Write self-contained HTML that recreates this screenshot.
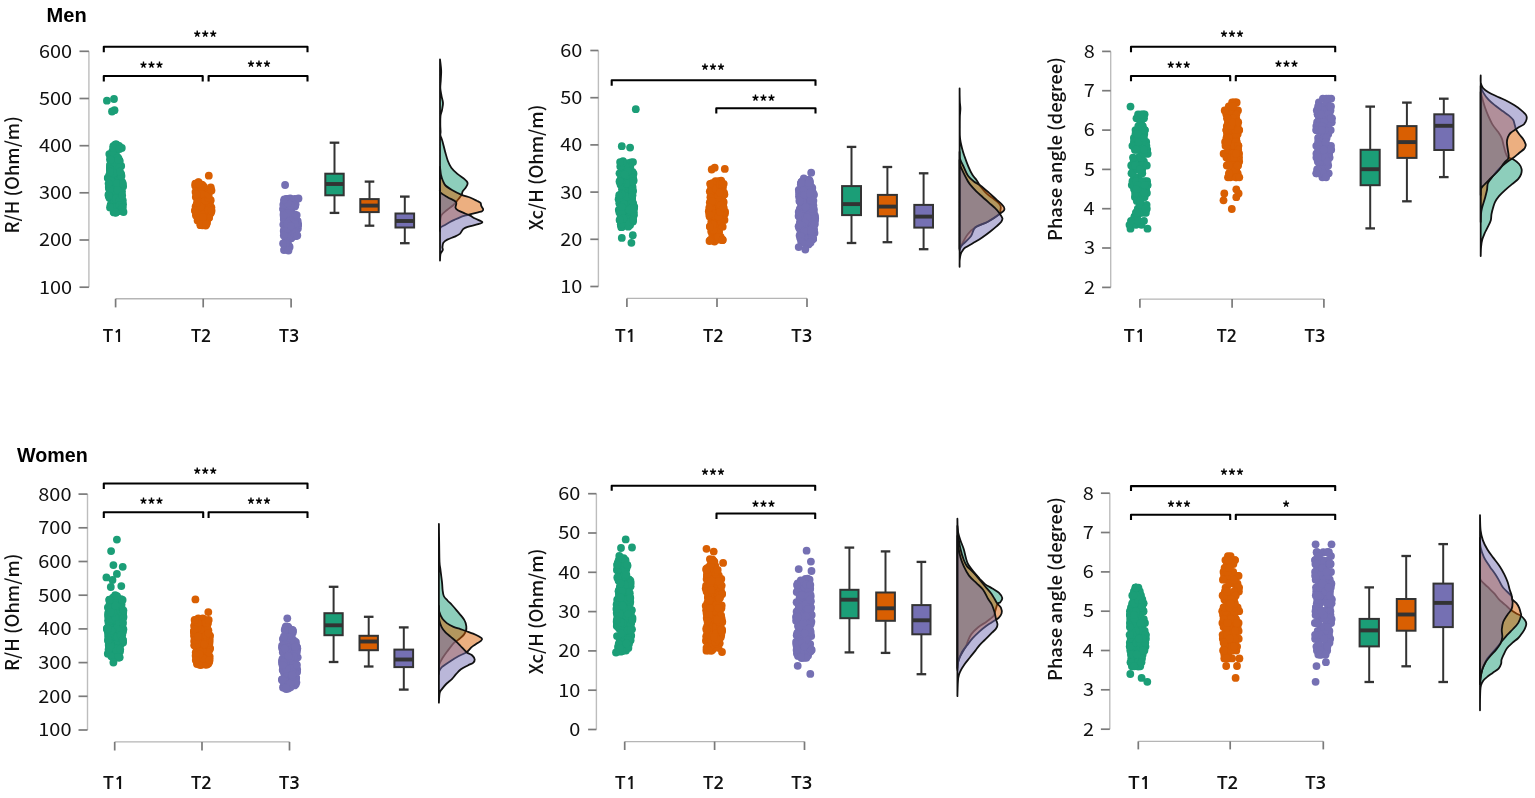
<!DOCTYPE html><html><head><meta charset="utf-8"><title>Raincloud plots</title>
<style>html,body{margin:0;padding:0;background:#fff;}svg{display:block;}</style></head><body>
<svg width="1535" height="798" viewBox="0 0 1535 798">
<rect width="1535" height="798" fill="#fff"/>
<text x="46.60" y="22.31" font-family="'Liberation Sans', sans-serif" font-weight="700" font-size="19.40" textLength="40.11" lengthAdjust="spacingAndGlyphs" fill="#000">Men</text>
<text x="17.00" y="461.51" font-family="'Liberation Sans', sans-serif" font-weight="700" font-size="19.40" textLength="70.74" lengthAdjust="spacingAndGlyphs" fill="#000">Women</text>
<g>
<line x1="88.9" y1="51.3" x2="88.9" y2="287.2" stroke="#bdbdbd" stroke-width="1.4"/>
<line x1="79.5" y1="51.3" x2="88.9" y2="51.3" stroke="#7a7a7a" stroke-width="1.7"/>
<text x="38.90" y="57.71" font-family="'Noto Sans CJK SC', 'Liberation Sans', sans-serif" font-weight="400" font-size="17.80" textLength="33.19" lengthAdjust="spacingAndGlyphs" fill="#111">600</text>
<line x1="79.5" y1="98.5" x2="88.9" y2="98.5" stroke="#7a7a7a" stroke-width="1.7"/>
<text x="38.90" y="104.89" font-family="'Noto Sans CJK SC', 'Liberation Sans', sans-serif" font-weight="400" font-size="17.80" textLength="33.19" lengthAdjust="spacingAndGlyphs" fill="#111">500</text>
<line x1="79.5" y1="145.7" x2="88.9" y2="145.7" stroke="#7a7a7a" stroke-width="1.7"/>
<text x="38.90" y="152.07" font-family="'Noto Sans CJK SC', 'Liberation Sans', sans-serif" font-weight="400" font-size="17.80" textLength="33.19" lengthAdjust="spacingAndGlyphs" fill="#111">400</text>
<line x1="79.5" y1="192.8" x2="88.9" y2="192.8" stroke="#7a7a7a" stroke-width="1.7"/>
<text x="38.90" y="199.25" font-family="'Noto Sans CJK SC', 'Liberation Sans', sans-serif" font-weight="400" font-size="17.80" textLength="33.19" lengthAdjust="spacingAndGlyphs" fill="#111">300</text>
<line x1="79.5" y1="240.0" x2="88.9" y2="240.0" stroke="#7a7a7a" stroke-width="1.7"/>
<text x="38.90" y="246.43" font-family="'Noto Sans CJK SC', 'Liberation Sans', sans-serif" font-weight="400" font-size="17.80" textLength="33.19" lengthAdjust="spacingAndGlyphs" fill="#111">200</text>
<line x1="79.5" y1="287.2" x2="88.9" y2="287.2" stroke="#7a7a7a" stroke-width="1.7"/>
<text x="38.90" y="293.61" font-family="'Noto Sans CJK SC', 'Liberation Sans', sans-serif" font-weight="400" font-size="17.80" textLength="33.19" lengthAdjust="spacingAndGlyphs" fill="#111">100</text>
<text transform="translate(18.90 233.53) rotate(-90)" x="0" y="0" font-family="'Noto Sans CJK SC', 'Liberation Sans', sans-serif" font-weight="500" font-size="18.00" textLength="117.27" lengthAdjust="spacingAndGlyphs" fill="#111">R/H (Ohm/m)</text>
<line x1="115.6" y1="298.8" x2="291.1" y2="298.8" stroke="#b5b5b5" stroke-width="1.4"/>
<line x1="115.6" y1="298.8" x2="115.6" y2="307.4" stroke="#7a7a7a" stroke-width="1.7"/>
<line x1="203.2" y1="298.8" x2="203.2" y2="307.4" stroke="#7a7a7a" stroke-width="1.7"/>
<line x1="291.1" y1="298.8" x2="291.1" y2="307.4" stroke="#7a7a7a" stroke-width="1.7"/>
<text x="102.73" y="342.20" font-family="NanumGothic, 'Liberation Sans', sans-serif" font-weight="700" font-size="17.90" textLength="21.49" lengthAdjust="spacingAndGlyphs" fill="#111">T1</text>
<text x="190.94" y="342.20" font-family="NanumGothic, 'Liberation Sans', sans-serif" font-weight="700" font-size="17.90" textLength="20.81" lengthAdjust="spacingAndGlyphs" fill="#111">T2</text>
<text x="278.94" y="342.02" font-family="NanumGothic, 'Liberation Sans', sans-serif" font-weight="700" font-size="17.90" fill="#111">T3</text>
<path d="M103.8 52.2 V46.8 H307.5 V52.2" fill="none" stroke="#000" stroke-width="2.1" stroke-linejoin="round"/>
<text x="193.21" y="43.83" font-family="'Noto Sans CJK SC', 'Liberation Sans', sans-serif" font-weight="700" font-size="16.50" textLength="23.99" lengthAdjust="spacingAndGlyphs" fill="#000">***</text>
<path d="M103.8 81.6 V76.0 H202.7 V81.6" fill="none" stroke="#000" stroke-width="2.1" stroke-linejoin="round"/>
<text x="139.51" y="75.03" font-family="'Noto Sans CJK SC', 'Liberation Sans', sans-serif" font-weight="700" font-size="16.50" textLength="23.99" lengthAdjust="spacingAndGlyphs" fill="#000">***</text>
<path d="M208.6 81.6 V76.0 H307.5 V81.6" fill="none" stroke="#000" stroke-width="2.1" stroke-linejoin="round"/>
<text x="247.01" y="73.83" font-family="'Noto Sans CJK SC', 'Liberation Sans', sans-serif" font-weight="700" font-size="16.50" textLength="23.99" lengthAdjust="spacingAndGlyphs" fill="#000">***</text>
<g fill="#1b9e77">
<circle cx="116.0" cy="146.8" r="3.9"/><circle cx="117.3" cy="200.5" r="3.9"/><circle cx="115.4" cy="209.0" r="3.9"/><circle cx="113.2" cy="163.0" r="3.9"/><circle cx="117.6" cy="199.8" r="3.9"/><circle cx="110.5" cy="168.8" r="3.9"/><circle cx="112.9" cy="157.1" r="3.9"/><circle cx="115.1" cy="164.7" r="3.9"/><circle cx="117.6" cy="163.7" r="3.9"/><circle cx="114.9" cy="159.8" r="3.9"/><circle cx="112.5" cy="203.9" r="3.9"/><circle cx="108.9" cy="195.7" r="3.9"/><circle cx="116.3" cy="189.5" r="3.9"/><circle cx="114.7" cy="184.3" r="3.9"/><circle cx="114.8" cy="201.5" r="3.9"/><circle cx="117.4" cy="189.2" r="3.9"/><circle cx="115.0" cy="212.2" r="3.9"/><circle cx="110.0" cy="169.7" r="3.9"/><circle cx="109.3" cy="175.0" r="3.9"/><circle cx="114.1" cy="196.4" r="3.9"/><circle cx="116.4" cy="203.7" r="3.9"/><circle cx="121.2" cy="204.5" r="3.9"/><circle cx="110.7" cy="204.6" r="3.9"/><circle cx="111.8" cy="176.6" r="3.9"/><circle cx="118.5" cy="182.3" r="3.9"/><circle cx="117.9" cy="178.8" r="3.9"/><circle cx="118.8" cy="146.5" r="3.9"/><circle cx="114.1" cy="203.9" r="3.9"/><circle cx="109.3" cy="154.1" r="3.9"/><circle cx="116.3" cy="144.5" r="3.9"/><circle cx="111.4" cy="161.3" r="3.9"/><circle cx="115.7" cy="144.4" r="3.9"/><circle cx="114.0" cy="153.0" r="3.9"/><circle cx="119.4" cy="211.1" r="3.9"/><circle cx="117.7" cy="161.0" r="3.9"/><circle cx="112.7" cy="180.0" r="3.9"/><circle cx="118.5" cy="158.3" r="3.9"/><circle cx="120.4" cy="202.3" r="3.9"/><circle cx="113.5" cy="194.5" r="3.9"/><circle cx="119.6" cy="160.9" r="3.9"/><circle cx="121.1" cy="174.0" r="3.9"/><circle cx="113.4" cy="209.5" r="3.9"/><circle cx="115.8" cy="205.7" r="3.9"/><circle cx="108.9" cy="188.4" r="3.9"/><circle cx="119.5" cy="188.9" r="3.9"/><circle cx="120.1" cy="195.2" r="3.9"/><circle cx="121.2" cy="166.0" r="3.9"/><circle cx="110.4" cy="193.4" r="3.9"/><circle cx="111.1" cy="206.0" r="3.9"/><circle cx="117.8" cy="200.5" r="3.9"/><circle cx="110.2" cy="167.2" r="3.9"/><circle cx="117.4" cy="210.6" r="3.9"/><circle cx="112.0" cy="200.5" r="3.9"/><circle cx="112.1" cy="159.6" r="3.9"/><circle cx="108.0" cy="177.8" r="3.9"/><circle cx="118.6" cy="173.5" r="3.9"/><circle cx="116.3" cy="181.6" r="3.9"/><circle cx="111.7" cy="197.6" r="3.9"/><circle cx="115.2" cy="162.1" r="3.9"/><circle cx="122.1" cy="182.0" r="3.9"/><circle cx="115.1" cy="173.7" r="3.9"/><circle cx="114.5" cy="178.6" r="3.9"/><circle cx="122.0" cy="191.6" r="3.9"/><circle cx="119.5" cy="160.9" r="3.9"/><circle cx="114.3" cy="201.5" r="3.9"/><circle cx="118.7" cy="147.8" r="3.9"/><circle cx="110.3" cy="197.5" r="3.9"/><circle cx="110.2" cy="192.8" r="3.9"/><circle cx="111.6" cy="204.5" r="3.9"/><circle cx="113.6" cy="211.9" r="3.9"/><circle cx="111.5" cy="172.9" r="3.9"/><circle cx="110.3" cy="165.0" r="3.9"/><circle cx="112.7" cy="181.5" r="3.9"/><circle cx="123.1" cy="186.4" r="3.9"/><circle cx="109.5" cy="197.9" r="3.9"/><circle cx="112.8" cy="206.5" r="3.9"/><circle cx="114.3" cy="153.2" r="3.9"/><circle cx="118.2" cy="191.7" r="3.9"/><circle cx="108.8" cy="187.1" r="3.9"/><circle cx="120.5" cy="174.5" r="3.9"/><circle cx="110.0" cy="159.4" r="3.9"/><circle cx="110.9" cy="195.8" r="3.9"/><circle cx="110.2" cy="167.0" r="3.9"/><circle cx="111.0" cy="194.0" r="3.9"/><circle cx="109.7" cy="175.9" r="3.9"/><circle cx="120.6" cy="200.0" r="3.9"/><circle cx="114.0" cy="192.2" r="3.9"/><circle cx="110.8" cy="167.0" r="3.9"/><circle cx="109.5" cy="194.5" r="3.9"/><circle cx="118.0" cy="201.6" r="3.9"/><circle cx="114.8" cy="162.5" r="3.9"/><circle cx="117.5" cy="210.0" r="3.9"/><circle cx="112.7" cy="159.8" r="3.9"/><circle cx="115.3" cy="167.7" r="3.9"/><circle cx="107.8" cy="177.9" r="3.9"/><circle cx="114.6" cy="159.0" r="3.9"/><circle cx="119.0" cy="195.2" r="3.9"/><circle cx="123.0" cy="204.2" r="3.9"/><circle cx="114.8" cy="153.2" r="3.9"/><circle cx="119.1" cy="145.8" r="3.9"/><circle cx="120.3" cy="186.6" r="3.9"/><circle cx="120.5" cy="201.1" r="3.9"/><circle cx="118.6" cy="183.6" r="3.9"/><circle cx="109.9" cy="191.2" r="3.9"/><circle cx="117.4" cy="181.8" r="3.9"/><circle cx="119.7" cy="190.3" r="3.9"/><circle cx="118.1" cy="195.1" r="3.9"/><circle cx="114.5" cy="147.4" r="3.9"/><circle cx="117.5" cy="157.1" r="3.9"/><circle cx="117.9" cy="177.3" r="3.9"/><circle cx="117.9" cy="196.4" r="3.9"/><circle cx="108.5" cy="194.7" r="3.9"/><circle cx="112.2" cy="191.1" r="3.9"/><circle cx="109.4" cy="178.9" r="3.9"/><circle cx="114.5" cy="200.1" r="3.9"/><circle cx="110.5" cy="157.5" r="3.9"/><circle cx="109.6" cy="179.4" r="3.9"/><circle cx="115.0" cy="176.7" r="3.9"/><circle cx="113.1" cy="174.3" r="3.9"/><circle cx="110.1" cy="164.8" r="3.9"/><circle cx="110.1" cy="195.2" r="3.9"/><circle cx="121.9" cy="207.5" r="3.9"/><circle cx="116.0" cy="212.6" r="3.9"/><circle cx="110.4" cy="172.7" r="3.9"/><circle cx="117.8" cy="204.6" r="3.9"/><circle cx="116.9" cy="206.6" r="3.9"/><circle cx="114.8" cy="193.0" r="3.9"/><circle cx="112.6" cy="195.4" r="3.9"/><circle cx="113.3" cy="146.2" r="3.9"/><circle cx="118.4" cy="175.8" r="3.9"/><circle cx="114.3" cy="163.8" r="3.9"/><circle cx="115.9" cy="154.4" r="3.9"/><circle cx="114.1" cy="212.4" r="3.9"/><circle cx="113.8" cy="149.1" r="3.9"/><circle cx="118.9" cy="160.8" r="3.9"/><circle cx="116.1" cy="195.2" r="3.9"/><circle cx="112.9" cy="169.1" r="3.9"/><circle cx="110.9" cy="186.8" r="3.9"/><circle cx="119.3" cy="173.9" r="3.9"/><circle cx="118.8" cy="203.8" r="3.9"/><circle cx="122.8" cy="200.5" r="3.9"/><circle cx="114.9" cy="160.1" r="3.9"/><circle cx="118.6" cy="190.4" r="3.9"/><circle cx="114.6" cy="188.0" r="3.9"/><circle cx="111.1" cy="181.3" r="3.9"/><circle cx="113.6" cy="207.1" r="3.9"/><circle cx="115.8" cy="191.6" r="3.9"/><circle cx="117.2" cy="183.5" r="3.9"/><circle cx="121.6" cy="209.8" r="3.9"/><circle cx="121.5" cy="176.0" r="3.9"/><circle cx="115.4" cy="192.0" r="3.9"/><circle cx="117.7" cy="189.9" r="3.9"/><circle cx="114.2" cy="207.4" r="3.9"/><circle cx="111.6" cy="172.1" r="3.9"/><circle cx="115.6" cy="198.5" r="3.9"/><circle cx="111.9" cy="157.1" r="3.9"/><circle cx="119.5" cy="200.1" r="3.9"/><circle cx="115.3" cy="163.4" r="3.9"/><circle cx="109.9" cy="189.3" r="3.9"/><circle cx="113.2" cy="152.7" r="3.9"/><circle cx="119.4" cy="205.5" r="3.9"/><circle cx="115.6" cy="212.5" r="3.9"/><circle cx="114.7" cy="155.7" r="3.9"/><circle cx="115.0" cy="145.0" r="3.9"/><circle cx="109.9" cy="168.9" r="3.9"/><circle cx="112.3" cy="151.4" r="3.9"/><circle cx="119.2" cy="167.7" r="3.9"/><circle cx="113.5" cy="173.0" r="3.9"/><circle cx="121.8" cy="207.0" r="3.9"/><circle cx="109.1" cy="196.3" r="3.9"/><circle cx="113.3" cy="147.9" r="3.9"/><circle cx="121.8" cy="147.9" r="3.9"/><circle cx="110.7" cy="159.8" r="3.9"/><circle cx="118.4" cy="159.8" r="3.9"/><circle cx="110.1" cy="171.7" r="3.9"/><circle cx="119.9" cy="171.7" r="3.9"/><circle cx="108.6" cy="183.6" r="3.9"/><circle cx="122.9" cy="183.6" r="3.9"/><circle cx="108.7" cy="195.5" r="3.9"/><circle cx="122.2" cy="195.5" r="3.9"/><circle cx="110.0" cy="207.4" r="3.9"/><circle cx="122.8" cy="207.4" r="3.9"/><circle cx="106.9" cy="100.7" r="3.9"/><circle cx="114.0" cy="99.0" r="3.9"/><circle cx="114.5" cy="110.2" r="3.9"/><circle cx="112.0" cy="111.5" r="3.9"/><circle cx="123.5" cy="212.0" r="3.9"/><circle cx="119.5" cy="149.0" r="3.9"/>
</g>
<g fill="#d95f02">
<circle cx="198.4" cy="182.1" r="3.9"/><circle cx="195.4" cy="209.7" r="3.9"/><circle cx="206.6" cy="190.0" r="3.9"/><circle cx="204.8" cy="218.0" r="3.9"/><circle cx="206.8" cy="196.3" r="3.9"/><circle cx="203.4" cy="192.8" r="3.9"/><circle cx="208.3" cy="196.2" r="3.9"/><circle cx="200.4" cy="225.2" r="3.9"/><circle cx="202.3" cy="203.8" r="3.9"/><circle cx="209.0" cy="211.5" r="3.9"/><circle cx="199.9" cy="211.1" r="3.9"/><circle cx="198.2" cy="206.8" r="3.9"/><circle cx="208.3" cy="192.8" r="3.9"/><circle cx="211.4" cy="207.3" r="3.9"/><circle cx="205.7" cy="204.2" r="3.9"/><circle cx="209.1" cy="217.8" r="3.9"/><circle cx="204.1" cy="190.3" r="3.9"/><circle cx="210.2" cy="201.6" r="3.9"/><circle cx="203.9" cy="186.6" r="3.9"/><circle cx="198.3" cy="191.5" r="3.9"/><circle cx="204.8" cy="193.1" r="3.9"/><circle cx="198.5" cy="211.7" r="3.9"/><circle cx="197.6" cy="216.8" r="3.9"/><circle cx="205.0" cy="199.3" r="3.9"/><circle cx="210.0" cy="199.9" r="3.9"/><circle cx="200.5" cy="195.6" r="3.9"/><circle cx="210.7" cy="200.2" r="3.9"/><circle cx="201.5" cy="200.5" r="3.9"/><circle cx="197.6" cy="220.6" r="3.9"/><circle cx="209.9" cy="206.1" r="3.9"/><circle cx="199.3" cy="185.8" r="3.9"/><circle cx="203.5" cy="204.0" r="3.9"/><circle cx="199.0" cy="217.2" r="3.9"/><circle cx="210.8" cy="187.5" r="3.9"/><circle cx="201.3" cy="203.1" r="3.9"/><circle cx="206.8" cy="221.6" r="3.9"/><circle cx="198.6" cy="189.0" r="3.9"/><circle cx="208.0" cy="199.7" r="3.9"/><circle cx="199.0" cy="204.6" r="3.9"/><circle cx="196.2" cy="213.7" r="3.9"/><circle cx="195.6" cy="206.6" r="3.9"/><circle cx="200.0" cy="206.0" r="3.9"/><circle cx="201.8" cy="200.3" r="3.9"/><circle cx="195.4" cy="210.8" r="3.9"/><circle cx="207.6" cy="209.1" r="3.9"/><circle cx="202.9" cy="216.1" r="3.9"/><circle cx="195.3" cy="183.7" r="3.9"/><circle cx="203.5" cy="214.1" r="3.9"/><circle cx="205.7" cy="225.6" r="3.9"/><circle cx="202.7" cy="190.4" r="3.9"/><circle cx="200.5" cy="223.9" r="3.9"/><circle cx="197.0" cy="216.5" r="3.9"/><circle cx="197.6" cy="197.3" r="3.9"/><circle cx="197.6" cy="195.9" r="3.9"/><circle cx="207.0" cy="223.0" r="3.9"/><circle cx="196.9" cy="189.3" r="3.9"/><circle cx="200.9" cy="205.2" r="3.9"/><circle cx="204.3" cy="220.2" r="3.9"/><circle cx="199.4" cy="209.5" r="3.9"/><circle cx="202.4" cy="225.3" r="3.9"/><circle cx="206.9" cy="215.4" r="3.9"/><circle cx="196.3" cy="184.1" r="3.9"/><circle cx="204.7" cy="209.9" r="3.9"/><circle cx="195.6" cy="211.0" r="3.9"/><circle cx="201.9" cy="188.5" r="3.9"/><circle cx="197.1" cy="204.4" r="3.9"/><circle cx="195.5" cy="191.9" r="3.9"/><circle cx="204.1" cy="197.6" r="3.9"/><circle cx="202.4" cy="190.9" r="3.9"/><circle cx="198.9" cy="187.9" r="3.9"/><circle cx="202.1" cy="220.1" r="3.9"/><circle cx="202.3" cy="206.6" r="3.9"/><circle cx="201.0" cy="223.0" r="3.9"/><circle cx="207.3" cy="199.7" r="3.9"/><circle cx="198.6" cy="182.5" r="3.9"/><circle cx="208.3" cy="204.2" r="3.9"/><circle cx="199.0" cy="184.1" r="3.9"/><circle cx="198.7" cy="201.8" r="3.9"/><circle cx="206.7" cy="212.4" r="3.9"/><circle cx="201.6" cy="193.6" r="3.9"/><circle cx="205.3" cy="216.5" r="3.9"/><circle cx="207.0" cy="214.5" r="3.9"/><circle cx="200.1" cy="196.3" r="3.9"/><circle cx="204.6" cy="192.4" r="3.9"/><circle cx="211.0" cy="212.3" r="3.9"/><circle cx="206.3" cy="202.5" r="3.9"/><circle cx="205.2" cy="206.9" r="3.9"/><circle cx="196.4" cy="185.4" r="3.9"/><circle cx="195.8" cy="197.1" r="3.9"/><circle cx="206.5" cy="212.3" r="3.9"/><circle cx="201.2" cy="214.2" r="3.9"/><circle cx="208.7" cy="217.8" r="3.9"/><circle cx="202.3" cy="184.8" r="3.9"/><circle cx="207.9" cy="217.5" r="3.9"/><circle cx="196.6" cy="209.6" r="3.9"/><circle cx="202.2" cy="215.1" r="3.9"/><circle cx="210.6" cy="213.3" r="3.9"/><circle cx="205.1" cy="204.0" r="3.9"/><circle cx="196.4" cy="205.5" r="3.9"/><circle cx="199.2" cy="217.9" r="3.9"/><circle cx="195.9" cy="215.3" r="3.9"/><circle cx="198.0" cy="203.4" r="3.9"/><circle cx="199.2" cy="203.6" r="3.9"/><circle cx="205.5" cy="212.6" r="3.9"/><circle cx="202.2" cy="185.5" r="3.9"/><circle cx="201.2" cy="216.4" r="3.9"/><circle cx="195.2" cy="185.7" r="3.9"/><circle cx="198.8" cy="203.9" r="3.9"/><circle cx="207.2" cy="202.1" r="3.9"/><circle cx="197.5" cy="210.3" r="3.9"/><circle cx="206.5" cy="218.9" r="3.9"/><circle cx="209.6" cy="207.3" r="3.9"/><circle cx="205.7" cy="192.4" r="3.9"/><circle cx="199.9" cy="218.9" r="3.9"/><circle cx="200.1" cy="196.3" r="3.9"/><circle cx="206.4" cy="190.2" r="3.9"/><circle cx="196.3" cy="186.4" r="3.9"/><circle cx="207.4" cy="198.8" r="3.9"/><circle cx="205.4" cy="214.1" r="3.9"/><circle cx="202.7" cy="212.3" r="3.9"/><circle cx="201.5" cy="188.2" r="3.9"/><circle cx="202.2" cy="214.4" r="3.9"/><circle cx="201.9" cy="207.1" r="3.9"/><circle cx="208.4" cy="192.0" r="3.9"/><circle cx="208.5" cy="215.9" r="3.9"/><circle cx="202.5" cy="211.7" r="3.9"/><circle cx="196.7" cy="195.7" r="3.9"/><circle cx="206.3" cy="200.3" r="3.9"/><circle cx="202.5" cy="209.5" r="3.9"/><circle cx="210.4" cy="209.2" r="3.9"/><circle cx="207.2" cy="190.0" r="3.9"/><circle cx="203.6" cy="216.2" r="3.9"/><circle cx="202.3" cy="186.4" r="3.9"/><circle cx="208.4" cy="213.4" r="3.9"/><circle cx="198.4" cy="204.8" r="3.9"/><circle cx="197.2" cy="211.9" r="3.9"/><circle cx="201.7" cy="225.1" r="3.9"/><circle cx="201.6" cy="199.5" r="3.9"/><circle cx="198.9" cy="212.5" r="3.9"/><circle cx="203.7" cy="214.4" r="3.9"/><circle cx="201.1" cy="191.5" r="3.9"/><circle cx="202.9" cy="217.4" r="3.9"/><circle cx="200.8" cy="206.6" r="3.9"/><circle cx="208.5" cy="209.9" r="3.9"/><circle cx="197.0" cy="202.5" r="3.9"/><circle cx="201.5" cy="193.7" r="3.9"/><circle cx="202.2" cy="194.3" r="3.9"/><circle cx="205.5" cy="200.7" r="3.9"/><circle cx="208.1" cy="197.8" r="3.9"/><circle cx="200.9" cy="184.4" r="3.9"/><circle cx="196.1" cy="183.8" r="3.9"/><circle cx="198.9" cy="183.8" r="3.9"/><circle cx="196.6" cy="194.4" r="3.9"/><circle cx="208.7" cy="194.4" r="3.9"/><circle cx="195.0" cy="210.7" r="3.9"/><circle cx="211.6" cy="210.7" r="3.9"/><circle cx="200.9" cy="224.5" r="3.9"/><circle cx="206.2" cy="224.5" r="3.9"/><circle cx="208.8" cy="175.7" r="3.9"/><circle cx="211.5" cy="190.5" r="3.9"/>
</g>
<g fill="#7570b3">
<circle cx="285.9" cy="211.0" r="3.9"/><circle cx="291.2" cy="238.1" r="3.9"/><circle cx="293.1" cy="229.5" r="3.9"/><circle cx="285.5" cy="244.2" r="3.9"/><circle cx="289.5" cy="208.3" r="3.9"/><circle cx="285.1" cy="226.7" r="3.9"/><circle cx="285.1" cy="223.5" r="3.9"/><circle cx="296.0" cy="223.5" r="3.9"/><circle cx="290.2" cy="198.5" r="3.9"/><circle cx="295.9" cy="227.1" r="3.9"/><circle cx="291.8" cy="202.0" r="3.9"/><circle cx="292.8" cy="199.6" r="3.9"/><circle cx="292.0" cy="199.9" r="3.9"/><circle cx="288.2" cy="215.6" r="3.9"/><circle cx="286.1" cy="222.6" r="3.9"/><circle cx="295.2" cy="220.6" r="3.9"/><circle cx="288.4" cy="213.2" r="3.9"/><circle cx="297.7" cy="224.1" r="3.9"/><circle cx="287.9" cy="231.9" r="3.9"/><circle cx="291.9" cy="214.5" r="3.9"/><circle cx="284.8" cy="243.8" r="3.9"/><circle cx="295.0" cy="229.5" r="3.9"/><circle cx="286.4" cy="245.0" r="3.9"/><circle cx="292.0" cy="230.4" r="3.9"/><circle cx="284.5" cy="221.7" r="3.9"/><circle cx="286.1" cy="245.2" r="3.9"/><circle cx="286.4" cy="240.5" r="3.9"/><circle cx="287.0" cy="211.4" r="3.9"/><circle cx="296.8" cy="220.3" r="3.9"/><circle cx="284.0" cy="201.0" r="3.9"/><circle cx="290.7" cy="204.3" r="3.9"/><circle cx="286.4" cy="245.5" r="3.9"/><circle cx="297.9" cy="228.6" r="3.9"/><circle cx="292.6" cy="222.6" r="3.9"/><circle cx="283.0" cy="209.1" r="3.9"/><circle cx="285.0" cy="202.7" r="3.9"/><circle cx="287.0" cy="199.1" r="3.9"/><circle cx="293.8" cy="235.9" r="3.9"/><circle cx="293.8" cy="234.9" r="3.9"/><circle cx="292.7" cy="202.5" r="3.9"/><circle cx="286.8" cy="221.9" r="3.9"/><circle cx="286.0" cy="247.8" r="3.9"/><circle cx="294.8" cy="198.9" r="3.9"/><circle cx="289.2" cy="206.7" r="3.9"/><circle cx="285.1" cy="220.7" r="3.9"/><circle cx="294.9" cy="230.6" r="3.9"/><circle cx="288.4" cy="246.8" r="3.9"/><circle cx="287.9" cy="234.4" r="3.9"/><circle cx="295.6" cy="229.3" r="3.9"/><circle cx="296.5" cy="229.1" r="3.9"/><circle cx="291.7" cy="217.5" r="3.9"/><circle cx="285.2" cy="244.3" r="3.9"/><circle cx="296.5" cy="228.4" r="3.9"/><circle cx="294.5" cy="200.3" r="3.9"/><circle cx="284.7" cy="242.8" r="3.9"/><circle cx="285.6" cy="242.0" r="3.9"/><circle cx="286.0" cy="226.7" r="3.9"/><circle cx="286.1" cy="236.8" r="3.9"/><circle cx="290.0" cy="229.4" r="3.9"/><circle cx="289.1" cy="238.9" r="3.9"/><circle cx="285.5" cy="244.3" r="3.9"/><circle cx="285.8" cy="222.7" r="3.9"/><circle cx="288.8" cy="216.8" r="3.9"/><circle cx="298.1" cy="224.8" r="3.9"/><circle cx="294.4" cy="217.4" r="3.9"/><circle cx="287.5" cy="206.2" r="3.9"/><circle cx="298.1" cy="224.9" r="3.9"/><circle cx="288.5" cy="211.6" r="3.9"/><circle cx="289.6" cy="246.9" r="3.9"/><circle cx="286.8" cy="247.8" r="3.9"/><circle cx="290.0" cy="207.5" r="3.9"/><circle cx="291.2" cy="211.4" r="3.9"/><circle cx="287.6" cy="247.4" r="3.9"/><circle cx="297.7" cy="221.2" r="3.9"/><circle cx="287.2" cy="209.6" r="3.9"/><circle cx="286.3" cy="244.6" r="3.9"/><circle cx="293.1" cy="200.6" r="3.9"/><circle cx="283.8" cy="231.5" r="3.9"/><circle cx="295.1" cy="205.6" r="3.9"/><circle cx="291.6" cy="206.8" r="3.9"/><circle cx="286.4" cy="198.8" r="3.9"/><circle cx="286.5" cy="200.0" r="3.9"/><circle cx="289.1" cy="246.2" r="3.9"/><circle cx="295.0" cy="205.3" r="3.9"/><circle cx="285.5" cy="241.5" r="3.9"/><circle cx="289.8" cy="215.6" r="3.9"/><circle cx="283.8" cy="230.5" r="3.9"/><circle cx="285.1" cy="234.9" r="3.9"/><circle cx="287.5" cy="215.4" r="3.9"/><circle cx="292.4" cy="201.1" r="3.9"/><circle cx="286.1" cy="209.0" r="3.9"/><circle cx="286.5" cy="249.6" r="3.9"/><circle cx="283.7" cy="213.1" r="3.9"/><circle cx="288.3" cy="199.0" r="3.9"/><circle cx="296.9" cy="225.3" r="3.9"/><circle cx="284.6" cy="209.4" r="3.9"/><circle cx="291.9" cy="207.4" r="3.9"/><circle cx="290.5" cy="208.3" r="3.9"/><circle cx="292.2" cy="223.7" r="3.9"/><circle cx="291.7" cy="234.6" r="3.9"/><circle cx="283.8" cy="219.2" r="3.9"/><circle cx="285.1" cy="242.7" r="3.9"/><circle cx="287.0" cy="222.7" r="3.9"/><circle cx="287.6" cy="207.7" r="3.9"/><circle cx="295.4" cy="224.7" r="3.9"/><circle cx="283.8" cy="217.8" r="3.9"/><circle cx="284.6" cy="243.1" r="3.9"/><circle cx="283.3" cy="224.6" r="3.9"/><circle cx="292.7" cy="203.4" r="3.9"/><circle cx="289.1" cy="223.9" r="3.9"/><circle cx="294.2" cy="205.2" r="3.9"/><circle cx="292.6" cy="205.7" r="3.9"/><circle cx="294.9" cy="206.6" r="3.9"/><circle cx="286.5" cy="238.2" r="3.9"/><circle cx="294.9" cy="220.6" r="3.9"/><circle cx="287.2" cy="245.2" r="3.9"/><circle cx="289.0" cy="238.1" r="3.9"/><circle cx="288.5" cy="239.8" r="3.9"/><circle cx="287.1" cy="199.9" r="3.9"/><circle cx="286.2" cy="245.8" r="3.9"/><circle cx="295.6" cy="204.3" r="3.9"/><circle cx="291.1" cy="224.6" r="3.9"/><circle cx="286.9" cy="205.8" r="3.9"/><circle cx="284.2" cy="219.1" r="3.9"/><circle cx="292.3" cy="226.3" r="3.9"/><circle cx="286.0" cy="227.5" r="3.9"/><circle cx="286.6" cy="229.7" r="3.9"/><circle cx="290.1" cy="209.6" r="3.9"/><circle cx="289.1" cy="210.4" r="3.9"/><circle cx="286.9" cy="212.8" r="3.9"/><circle cx="291.3" cy="237.9" r="3.9"/><circle cx="289.5" cy="220.8" r="3.9"/><circle cx="296.1" cy="236.0" r="3.9"/><circle cx="287.8" cy="236.2" r="3.9"/><circle cx="295.7" cy="232.9" r="3.9"/><circle cx="289.2" cy="236.4" r="3.9"/><circle cx="290.4" cy="238.6" r="3.9"/><circle cx="283.3" cy="204.7" r="3.9"/><circle cx="288.4" cy="237.6" r="3.9"/><circle cx="287.7" cy="247.7" r="3.9"/><circle cx="288.3" cy="238.5" r="3.9"/><circle cx="293.5" cy="217.7" r="3.9"/><circle cx="288.2" cy="213.2" r="3.9"/><circle cx="295.0" cy="214.7" r="3.9"/><circle cx="287.6" cy="223.9" r="3.9"/><circle cx="290.6" cy="205.6" r="3.9"/><circle cx="287.6" cy="202.7" r="3.9"/><circle cx="286.5" cy="241.6" r="3.9"/><circle cx="294.7" cy="223.8" r="3.9"/><circle cx="290.9" cy="225.9" r="3.9"/><circle cx="284.3" cy="199.3" r="3.9"/><circle cx="296.2" cy="199.3" r="3.9"/><circle cx="283.5" cy="215.1" r="3.9"/><circle cx="296.7" cy="215.1" r="3.9"/><circle cx="283.8" cy="235.5" r="3.9"/><circle cx="297.3" cy="235.5" r="3.9"/><circle cx="286.1" cy="243.4" r="3.9"/><circle cx="283.1" cy="243.4" r="3.9"/><circle cx="285.1" cy="185.0" r="3.9"/><circle cx="298.5" cy="198.5" r="3.9"/><circle cx="284.0" cy="250.0" r="3.9"/><circle cx="288.5" cy="250.5" r="3.9"/>
</g>
<g stroke="#333" fill="none">
<line x1="334.5" y1="142.7" x2="334.5" y2="173.4" stroke-width="2.0"/>
<line x1="334.5" y1="195.6" x2="334.5" y2="212.9" stroke-width="2.0"/>
<line x1="329.7" y1="142.7" x2="339.3" y2="142.7" stroke-width="2.3"/>
<line x1="329.7" y1="212.9" x2="339.3" y2="212.9" stroke-width="2.3"/>
<rect x="325.3" y="173.7" width="18.4" height="21.6" fill="#1b9e77" stroke-width="2.0"/>
<line x1="325.3" y1="184.0" x2="343.7" y2="184.0" stroke-width="3.9"/>
</g>
<g stroke="#333" fill="none">
<line x1="369.5" y1="181.6" x2="369.5" y2="198.8" stroke-width="2.0"/>
<line x1="369.5" y1="212.4" x2="369.5" y2="225.7" stroke-width="2.0"/>
<line x1="364.7" y1="181.6" x2="374.3" y2="181.6" stroke-width="2.3"/>
<line x1="364.7" y1="225.7" x2="374.3" y2="225.7" stroke-width="2.3"/>
<rect x="360.3" y="199.1" width="18.4" height="13.0" fill="#d95f02" stroke-width="2.0"/>
<line x1="360.3" y1="205.6" x2="378.7" y2="205.6" stroke-width="3.9"/>
</g>
<g stroke="#333" fill="none">
<line x1="404.8" y1="196.6" x2="404.8" y2="213.2" stroke-width="2.0"/>
<line x1="404.8" y1="227.8" x2="404.8" y2="243.2" stroke-width="2.0"/>
<line x1="400.0" y1="196.6" x2="409.6" y2="196.6" stroke-width="2.3"/>
<line x1="400.0" y1="243.2" x2="409.6" y2="243.2" stroke-width="2.3"/>
<rect x="395.5" y="213.5" width="18.6" height="14.0" fill="#7570b3" stroke-width="2.0"/>
<line x1="395.5" y1="221.0" x2="414.1" y2="221.0" stroke-width="3.9"/>
</g>
<path d="M440.0 59.3 C440.1 60.4 440.6 63.9 440.8 66.0 C441.0 68.1 441.2 69.7 441.2 72.0 C441.2 74.3 440.9 77.3 440.8 80.0 C440.7 82.7 440.2 85.3 440.3 88.0 C440.4 90.7 441.1 93.5 441.5 96.0 C441.9 98.5 442.9 100.7 443.0 103.0 C443.1 105.3 442.4 107.8 442.0 110.0 C441.6 112.2 440.8 113.5 440.5 116.0 C440.2 118.5 440.3 122.3 440.3 125.0 C440.3 127.7 440.6 130.3 440.6 132.0 C440.6 133.7 440.1 133.7 440.4 135.3 C440.7 136.9 441.7 138.6 442.5 141.4 C443.3 144.2 444.3 148.7 445.2 151.9 C446.1 155.1 446.8 158.1 447.8 160.7 C448.8 163.3 449.7 165.5 451.3 167.7 C452.9 169.9 455.2 172.0 457.4 173.9 C459.6 175.8 462.8 177.7 464.5 179.1 C466.2 180.5 467.1 181.6 467.5 182.6 C467.9 183.6 467.5 184.2 467.2 185.0 C466.9 185.8 466.6 186.4 465.8 187.5 C465.1 188.6 463.4 190.2 462.7 191.4 C462.0 192.6 462.3 193.5 461.6 194.8 C460.9 196.1 459.4 197.8 458.5 199.0 C457.6 200.2 456.8 201.0 456.0 202.0 C455.2 203.0 455.0 203.7 453.5 205.0 C452.0 206.3 449.0 208.3 447.0 210.0 C445.0 211.7 442.6 213.3 441.5 215.0 C440.4 216.7 440.6 218.2 440.3 220.0 C440.1 221.8 440.1 225.0 440.0 226.0 Z" fill="#1b9e77" fill-opacity="0.5" stroke="#111" stroke-width="1.8" stroke-linejoin="round"/>
<path d="M440.0 167.0 C440.2 168.3 440.5 172.7 441.0 175.0 C441.5 177.3 442.2 179.2 443.0 181.0 C443.8 182.8 444.0 184.0 445.5 185.5 C447.0 187.0 449.3 188.4 452.0 190.0 C454.7 191.6 458.6 193.6 461.6 194.8 C464.6 196.1 467.5 196.5 470.0 197.5 C472.5 198.5 475.1 199.9 476.8 200.8 C478.6 201.7 479.8 202.1 480.5 202.9 C481.2 203.7 480.8 204.5 481.2 205.6 C481.6 206.7 483.0 208.4 483.2 209.3 C483.4 210.2 483.0 210.7 482.1 211.2 C481.2 211.7 480.2 211.8 478.1 212.3 C476.1 212.8 471.8 213.9 469.8 214.4 C467.8 214.9 467.6 214.8 466.0 215.3 C464.4 215.8 461.8 216.6 460.0 217.3 C458.2 218.0 456.7 218.7 455.0 219.5 C453.3 220.3 451.8 221.0 450.0 222.0 C448.2 223.0 445.6 224.6 444.0 225.5 C442.4 226.4 441.2 226.7 440.5 227.6 C439.8 228.5 440.1 230.4 440.0 231.0 Z" fill="#d95f02" fill-opacity="0.5" stroke="#111" stroke-width="1.8" stroke-linejoin="round"/>
<path d="M440.0 189.0 C440.1 189.6 439.2 191.1 440.5 192.5 C441.8 193.9 445.4 195.9 448.0 197.5 C450.6 199.1 454.8 200.3 456.0 202.0 C457.2 203.7 455.2 206.2 455.5 207.6 C455.8 209.0 456.3 209.4 457.8 210.3 C459.3 211.2 462.6 212.5 464.6 213.3 C466.6 214.2 468.1 214.5 469.8 215.4 C471.6 216.3 473.0 217.4 475.1 218.5 C477.2 219.6 481.7 221.0 482.2 221.9 C482.7 222.8 480.5 223.4 478.1 224.2 C475.7 225.0 470.1 226.0 467.6 226.8 C465.1 227.6 464.4 228.0 463.1 229.1 C461.9 230.2 461.5 232.3 460.1 233.6 C458.7 234.8 456.9 235.6 454.8 236.6 C452.7 237.6 449.2 238.6 447.3 239.6 C445.4 240.6 444.3 241.3 443.5 242.6 C442.7 243.8 442.5 245.8 442.4 247.1 C442.3 248.3 443.1 249.0 442.8 250.1 C442.5 251.2 441.0 252.2 440.5 253.9 C440.0 255.7 440.1 259.5 440.0 260.6 Z" fill="#7570b3" fill-opacity="0.5" stroke="#111" stroke-width="1.8" stroke-linejoin="round"/>
</g>
<g>
<line x1="598.4" y1="50.5" x2="598.4" y2="286.5" stroke="#bdbdbd" stroke-width="1.4"/>
<line x1="590.3" y1="50.5" x2="598.4" y2="50.5" stroke="#7a7a7a" stroke-width="1.7"/>
<text x="560.17" y="56.91" font-family="'Noto Sans CJK SC', 'Liberation Sans', sans-serif" font-weight="400" font-size="17.80" textLength="22.13" lengthAdjust="spacingAndGlyphs" fill="#111">60</text>
<line x1="590.3" y1="97.7" x2="598.4" y2="97.7" stroke="#7a7a7a" stroke-width="1.7"/>
<text x="560.17" y="104.11" font-family="'Noto Sans CJK SC', 'Liberation Sans', sans-serif" font-weight="400" font-size="17.80" textLength="22.13" lengthAdjust="spacingAndGlyphs" fill="#111">50</text>
<line x1="590.3" y1="144.9" x2="598.4" y2="144.9" stroke="#7a7a7a" stroke-width="1.7"/>
<text x="560.17" y="151.31" font-family="'Noto Sans CJK SC', 'Liberation Sans', sans-serif" font-weight="400" font-size="17.80" textLength="22.13" lengthAdjust="spacingAndGlyphs" fill="#111">40</text>
<line x1="590.3" y1="192.1" x2="598.4" y2="192.1" stroke="#7a7a7a" stroke-width="1.7"/>
<text x="560.17" y="198.51" font-family="'Noto Sans CJK SC', 'Liberation Sans', sans-serif" font-weight="400" font-size="17.80" textLength="22.13" lengthAdjust="spacingAndGlyphs" fill="#111">30</text>
<line x1="590.3" y1="239.3" x2="598.4" y2="239.3" stroke="#7a7a7a" stroke-width="1.7"/>
<text x="560.17" y="245.71" font-family="'Noto Sans CJK SC', 'Liberation Sans', sans-serif" font-weight="400" font-size="17.80" textLength="22.13" lengthAdjust="spacingAndGlyphs" fill="#111">20</text>
<line x1="590.3" y1="286.5" x2="598.4" y2="286.5" stroke="#7a7a7a" stroke-width="1.7"/>
<text x="560.17" y="292.91" font-family="'Noto Sans CJK SC', 'Liberation Sans', sans-serif" font-weight="400" font-size="17.80" textLength="22.13" lengthAdjust="spacingAndGlyphs" fill="#111">10</text>
<text transform="translate(543.00 230.29) rotate(-90)" x="0" y="0" font-family="'Noto Sans CJK SC', 'Liberation Sans', sans-serif" font-weight="500" font-size="18.00" textLength="125.48" lengthAdjust="spacingAndGlyphs" fill="#111">Xc/H (Ohm/m)</text>
<line x1="626.9" y1="298.4" x2="807.0" y2="298.4" stroke="#b5b5b5" stroke-width="1.4"/>
<line x1="626.9" y1="298.4" x2="626.9" y2="306.9" stroke="#7a7a7a" stroke-width="1.7"/>
<line x1="717.0" y1="298.4" x2="717.0" y2="306.9" stroke="#7a7a7a" stroke-width="1.7"/>
<line x1="807.0" y1="298.4" x2="807.0" y2="306.9" stroke="#7a7a7a" stroke-width="1.7"/>
<text x="614.92" y="342.20" font-family="NanumGothic, 'Liberation Sans', sans-serif" font-weight="700" font-size="17.90" textLength="22.00" lengthAdjust="spacingAndGlyphs" fill="#111">T1</text>
<text x="703.03" y="342.20" font-family="NanumGothic, 'Liberation Sans', sans-serif" font-weight="700" font-size="17.90" textLength="21.25" lengthAdjust="spacingAndGlyphs" fill="#111">T2</text>
<text x="791.33" y="342.02" font-family="NanumGothic, 'Liberation Sans', sans-serif" font-weight="700" font-size="17.90" textLength="21.38" lengthAdjust="spacingAndGlyphs" fill="#111">T3</text>
<path d="M611.7 85.7 V80.2 H815.5 V85.7" fill="none" stroke="#000" stroke-width="2.1" stroke-linejoin="round"/>
<text x="701.01" y="76.63" font-family="'Noto Sans CJK SC', 'Liberation Sans', sans-serif" font-weight="700" font-size="16.50" textLength="23.99" lengthAdjust="spacingAndGlyphs" fill="#000">***</text>
<path d="M716.3 113.4 V108.2 H815.5 V113.4" fill="none" stroke="#000" stroke-width="2.1" stroke-linejoin="round"/>
<text x="751.51" y="108.33" font-family="'Noto Sans CJK SC', 'Liberation Sans', sans-serif" font-weight="700" font-size="16.50" textLength="23.99" lengthAdjust="spacingAndGlyphs" fill="#000">***</text>
<g fill="#1b9e77">
<circle cx="624.8" cy="195.7" r="3.9"/><circle cx="632.1" cy="198.2" r="3.9"/><circle cx="627.8" cy="225.3" r="3.9"/><circle cx="633.8" cy="215.3" r="3.9"/><circle cx="632.5" cy="216.0" r="3.9"/><circle cx="634.2" cy="206.8" r="3.9"/><circle cx="623.6" cy="220.1" r="3.9"/><circle cx="621.6" cy="194.8" r="3.9"/><circle cx="624.0" cy="202.8" r="3.9"/><circle cx="621.3" cy="227.2" r="3.9"/><circle cx="625.3" cy="188.1" r="3.9"/><circle cx="631.8" cy="206.9" r="3.9"/><circle cx="621.6" cy="199.8" r="3.9"/><circle cx="623.2" cy="193.9" r="3.9"/><circle cx="621.0" cy="199.1" r="3.9"/><circle cx="621.1" cy="211.5" r="3.9"/><circle cx="628.0" cy="195.6" r="3.9"/><circle cx="630.6" cy="214.7" r="3.9"/><circle cx="624.9" cy="182.1" r="3.9"/><circle cx="632.5" cy="171.8" r="3.9"/><circle cx="624.5" cy="199.6" r="3.9"/><circle cx="627.5" cy="164.1" r="3.9"/><circle cx="633.5" cy="215.3" r="3.9"/><circle cx="622.9" cy="193.8" r="3.9"/><circle cx="623.9" cy="186.6" r="3.9"/><circle cx="626.7" cy="181.2" r="3.9"/><circle cx="624.2" cy="213.7" r="3.9"/><circle cx="623.7" cy="173.0" r="3.9"/><circle cx="624.5" cy="198.2" r="3.9"/><circle cx="631.7" cy="187.5" r="3.9"/><circle cx="624.2" cy="184.1" r="3.9"/><circle cx="629.9" cy="214.5" r="3.9"/><circle cx="623.5" cy="185.8" r="3.9"/><circle cx="625.9" cy="224.4" r="3.9"/><circle cx="623.2" cy="169.2" r="3.9"/><circle cx="624.8" cy="220.9" r="3.9"/><circle cx="622.6" cy="177.0" r="3.9"/><circle cx="627.2" cy="219.1" r="3.9"/><circle cx="625.2" cy="178.6" r="3.9"/><circle cx="623.2" cy="204.6" r="3.9"/><circle cx="632.1" cy="186.7" r="3.9"/><circle cx="621.2" cy="182.0" r="3.9"/><circle cx="623.2" cy="198.2" r="3.9"/><circle cx="623.5" cy="168.9" r="3.9"/><circle cx="631.1" cy="187.6" r="3.9"/><circle cx="621.3" cy="219.8" r="3.9"/><circle cx="628.8" cy="205.0" r="3.9"/><circle cx="623.9" cy="207.4" r="3.9"/><circle cx="632.8" cy="202.7" r="3.9"/><circle cx="618.8" cy="209.8" r="3.9"/><circle cx="624.1" cy="180.8" r="3.9"/><circle cx="627.4" cy="203.3" r="3.9"/><circle cx="629.3" cy="208.6" r="3.9"/><circle cx="632.0" cy="212.6" r="3.9"/><circle cx="620.2" cy="201.3" r="3.9"/><circle cx="630.3" cy="213.6" r="3.9"/><circle cx="625.0" cy="166.2" r="3.9"/><circle cx="622.8" cy="210.7" r="3.9"/><circle cx="625.4" cy="166.5" r="3.9"/><circle cx="629.6" cy="223.0" r="3.9"/><circle cx="625.8" cy="216.2" r="3.9"/><circle cx="625.4" cy="164.1" r="3.9"/><circle cx="620.8" cy="194.8" r="3.9"/><circle cx="631.2" cy="211.7" r="3.9"/><circle cx="619.3" cy="203.3" r="3.9"/><circle cx="624.7" cy="184.5" r="3.9"/><circle cx="629.1" cy="169.6" r="3.9"/><circle cx="625.3" cy="190.4" r="3.9"/><circle cx="621.6" cy="180.6" r="3.9"/><circle cx="621.2" cy="197.3" r="3.9"/><circle cx="625.6" cy="205.2" r="3.9"/><circle cx="620.2" cy="211.9" r="3.9"/><circle cx="620.4" cy="179.9" r="3.9"/><circle cx="626.8" cy="190.6" r="3.9"/><circle cx="620.6" cy="184.8" r="3.9"/><circle cx="621.8" cy="227.1" r="3.9"/><circle cx="627.3" cy="208.6" r="3.9"/><circle cx="632.8" cy="173.2" r="3.9"/><circle cx="633.2" cy="203.8" r="3.9"/><circle cx="620.5" cy="204.3" r="3.9"/><circle cx="631.0" cy="162.3" r="3.9"/><circle cx="621.6" cy="217.3" r="3.9"/><circle cx="630.2" cy="213.2" r="3.9"/><circle cx="623.9" cy="185.3" r="3.9"/><circle cx="628.1" cy="163.2" r="3.9"/><circle cx="632.7" cy="215.5" r="3.9"/><circle cx="622.2" cy="223.9" r="3.9"/><circle cx="620.6" cy="180.6" r="3.9"/><circle cx="633.9" cy="206.7" r="3.9"/><circle cx="619.5" cy="173.3" r="3.9"/><circle cx="630.8" cy="217.0" r="3.9"/><circle cx="625.4" cy="195.0" r="3.9"/><circle cx="632.7" cy="205.2" r="3.9"/><circle cx="619.9" cy="198.3" r="3.9"/><circle cx="633.0" cy="221.5" r="3.9"/><circle cx="630.1" cy="225.1" r="3.9"/><circle cx="627.9" cy="164.5" r="3.9"/><circle cx="633.7" cy="180.4" r="3.9"/><circle cx="624.0" cy="192.8" r="3.9"/><circle cx="620.5" cy="183.5" r="3.9"/><circle cx="626.0" cy="173.1" r="3.9"/><circle cx="624.7" cy="166.2" r="3.9"/><circle cx="627.3" cy="199.5" r="3.9"/><circle cx="632.6" cy="187.1" r="3.9"/><circle cx="621.1" cy="175.7" r="3.9"/><circle cx="620.1" cy="194.9" r="3.9"/><circle cx="632.2" cy="187.9" r="3.9"/><circle cx="630.2" cy="197.4" r="3.9"/><circle cx="629.7" cy="168.2" r="3.9"/><circle cx="625.0" cy="167.3" r="3.9"/><circle cx="627.6" cy="172.0" r="3.9"/><circle cx="619.4" cy="212.5" r="3.9"/><circle cx="628.2" cy="176.4" r="3.9"/><circle cx="629.1" cy="189.1" r="3.9"/><circle cx="632.7" cy="219.1" r="3.9"/><circle cx="624.3" cy="219.0" r="3.9"/><circle cx="631.5" cy="211.8" r="3.9"/><circle cx="620.8" cy="224.2" r="3.9"/><circle cx="631.0" cy="201.0" r="3.9"/><circle cx="629.0" cy="168.0" r="3.9"/><circle cx="620.7" cy="216.8" r="3.9"/><circle cx="623.7" cy="172.9" r="3.9"/><circle cx="632.3" cy="206.6" r="3.9"/><circle cx="631.0" cy="196.6" r="3.9"/><circle cx="622.2" cy="224.2" r="3.9"/><circle cx="630.9" cy="194.2" r="3.9"/><circle cx="620.7" cy="206.1" r="3.9"/><circle cx="621.8" cy="201.5" r="3.9"/><circle cx="620.2" cy="220.5" r="3.9"/><circle cx="618.6" cy="199.2" r="3.9"/><circle cx="625.7" cy="199.4" r="3.9"/><circle cx="628.2" cy="226.7" r="3.9"/><circle cx="627.3" cy="178.1" r="3.9"/><circle cx="620.8" cy="224.8" r="3.9"/><circle cx="632.0" cy="198.1" r="3.9"/><circle cx="628.5" cy="212.5" r="3.9"/><circle cx="629.3" cy="219.1" r="3.9"/><circle cx="630.5" cy="180.9" r="3.9"/><circle cx="624.2" cy="194.6" r="3.9"/><circle cx="623.8" cy="197.5" r="3.9"/><circle cx="626.8" cy="182.2" r="3.9"/><circle cx="625.3" cy="185.1" r="3.9"/><circle cx="624.5" cy="190.9" r="3.9"/><circle cx="627.7" cy="181.2" r="3.9"/><circle cx="627.5" cy="199.7" r="3.9"/><circle cx="622.0" cy="189.2" r="3.9"/><circle cx="623.6" cy="193.0" r="3.9"/><circle cx="623.4" cy="177.8" r="3.9"/><circle cx="621.4" cy="207.8" r="3.9"/><circle cx="628.6" cy="201.0" r="3.9"/><circle cx="633.5" cy="173.7" r="3.9"/><circle cx="632.1" cy="200.8" r="3.9"/><circle cx="627.7" cy="183.4" r="3.9"/><circle cx="632.8" cy="219.3" r="3.9"/><circle cx="623.7" cy="204.1" r="3.9"/><circle cx="628.1" cy="164.3" r="3.9"/><circle cx="633.1" cy="177.7" r="3.9"/><circle cx="619.5" cy="198.4" r="3.9"/><circle cx="623.6" cy="201.7" r="3.9"/><circle cx="630.3" cy="166.7" r="3.9"/><circle cx="625.4" cy="166.5" r="3.9"/><circle cx="627.1" cy="196.6" r="3.9"/><circle cx="623.6" cy="204.6" r="3.9"/><circle cx="630.6" cy="210.3" r="3.9"/><circle cx="633.9" cy="212.6" r="3.9"/><circle cx="633.1" cy="190.9" r="3.9"/><circle cx="624.1" cy="204.5" r="3.9"/><circle cx="620.3" cy="166.5" r="3.9"/><circle cx="621.8" cy="194.2" r="3.9"/><circle cx="622.4" cy="223.6" r="3.9"/><circle cx="620.8" cy="210.0" r="3.9"/><circle cx="622.8" cy="162.4" r="3.9"/><circle cx="626.6" cy="183.6" r="3.9"/><circle cx="621.3" cy="182.2" r="3.9"/><circle cx="624.7" cy="209.7" r="3.9"/><circle cx="625.3" cy="218.5" r="3.9"/><circle cx="628.2" cy="222.2" r="3.9"/><circle cx="625.8" cy="175.5" r="3.9"/><circle cx="621.7" cy="175.0" r="3.9"/><circle cx="623.2" cy="218.4" r="3.9"/><circle cx="622.8" cy="211.0" r="3.9"/><circle cx="628.1" cy="171.3" r="3.9"/><circle cx="632.3" cy="190.9" r="3.9"/><circle cx="624.7" cy="174.5" r="3.9"/><circle cx="621.4" cy="212.9" r="3.9"/><circle cx="623.6" cy="218.5" r="3.9"/><circle cx="623.0" cy="161.1" r="3.9"/><circle cx="629.3" cy="209.9" r="3.9"/><circle cx="634.1" cy="208.6" r="3.9"/><circle cx="621.9" cy="206.8" r="3.9"/><circle cx="620.1" cy="162.1" r="3.9"/><circle cx="633.0" cy="162.1" r="3.9"/><circle cx="619.5" cy="181.4" r="3.9"/><circle cx="633.0" cy="181.4" r="3.9"/><circle cx="619.2" cy="195.2" r="3.9"/><circle cx="632.5" cy="195.2" r="3.9"/><circle cx="619.6" cy="220.0" r="3.9"/><circle cx="633.1" cy="220.0" r="3.9"/><circle cx="635.8" cy="109.2" r="3.9"/><circle cx="621.8" cy="146.2" r="3.9"/><circle cx="630.1" cy="147.6" r="3.9"/><circle cx="621.8" cy="237.9" r="3.9"/><circle cx="632.8" cy="235.2" r="3.9"/><circle cx="631.4" cy="242.8" r="3.9"/>
</g>
<g fill="#d95f02">
<circle cx="719.5" cy="188.8" r="3.9"/><circle cx="716.8" cy="189.6" r="3.9"/><circle cx="722.9" cy="187.4" r="3.9"/><circle cx="712.7" cy="234.5" r="3.9"/><circle cx="709.8" cy="191.4" r="3.9"/><circle cx="714.6" cy="211.6" r="3.9"/><circle cx="718.7" cy="181.2" r="3.9"/><circle cx="724.9" cy="213.8" r="3.9"/><circle cx="713.8" cy="234.0" r="3.9"/><circle cx="710.9" cy="204.2" r="3.9"/><circle cx="710.5" cy="203.6" r="3.9"/><circle cx="719.1" cy="232.1" r="3.9"/><circle cx="714.2" cy="183.6" r="3.9"/><circle cx="724.5" cy="220.0" r="3.9"/><circle cx="721.2" cy="180.6" r="3.9"/><circle cx="725.1" cy="211.7" r="3.9"/><circle cx="720.5" cy="194.9" r="3.9"/><circle cx="715.0" cy="203.7" r="3.9"/><circle cx="719.8" cy="212.7" r="3.9"/><circle cx="717.4" cy="200.2" r="3.9"/><circle cx="713.1" cy="194.2" r="3.9"/><circle cx="710.9" cy="212.4" r="3.9"/><circle cx="712.6" cy="212.8" r="3.9"/><circle cx="716.1" cy="191.1" r="3.9"/><circle cx="723.4" cy="219.7" r="3.9"/><circle cx="711.2" cy="231.4" r="3.9"/><circle cx="714.6" cy="189.9" r="3.9"/><circle cx="721.0" cy="223.0" r="3.9"/><circle cx="714.6" cy="203.0" r="3.9"/><circle cx="711.9" cy="201.3" r="3.9"/><circle cx="720.5" cy="215.4" r="3.9"/><circle cx="722.0" cy="197.3" r="3.9"/><circle cx="722.0" cy="186.1" r="3.9"/><circle cx="716.1" cy="218.3" r="3.9"/><circle cx="713.4" cy="203.0" r="3.9"/><circle cx="721.9" cy="205.5" r="3.9"/><circle cx="723.7" cy="202.1" r="3.9"/><circle cx="720.0" cy="192.3" r="3.9"/><circle cx="714.0" cy="203.3" r="3.9"/><circle cx="715.0" cy="184.9" r="3.9"/><circle cx="721.1" cy="212.7" r="3.9"/><circle cx="716.2" cy="182.1" r="3.9"/><circle cx="715.4" cy="208.8" r="3.9"/><circle cx="715.8" cy="209.5" r="3.9"/><circle cx="719.7" cy="210.6" r="3.9"/><circle cx="718.7" cy="225.8" r="3.9"/><circle cx="721.4" cy="214.4" r="3.9"/><circle cx="721.4" cy="187.8" r="3.9"/><circle cx="720.4" cy="215.0" r="3.9"/><circle cx="715.4" cy="210.0" r="3.9"/><circle cx="722.2" cy="216.2" r="3.9"/><circle cx="712.9" cy="197.3" r="3.9"/><circle cx="714.9" cy="233.0" r="3.9"/><circle cx="722.9" cy="206.2" r="3.9"/><circle cx="712.8" cy="229.6" r="3.9"/><circle cx="714.8" cy="192.9" r="3.9"/><circle cx="714.5" cy="208.9" r="3.9"/><circle cx="717.5" cy="214.5" r="3.9"/><circle cx="713.8" cy="205.5" r="3.9"/><circle cx="713.5" cy="197.3" r="3.9"/><circle cx="717.8" cy="224.0" r="3.9"/><circle cx="715.8" cy="208.3" r="3.9"/><circle cx="712.1" cy="184.9" r="3.9"/><circle cx="719.1" cy="236.9" r="3.9"/><circle cx="719.7" cy="211.0" r="3.9"/><circle cx="712.4" cy="189.5" r="3.9"/><circle cx="719.7" cy="196.3" r="3.9"/><circle cx="713.8" cy="183.1" r="3.9"/><circle cx="713.9" cy="194.8" r="3.9"/><circle cx="711.2" cy="200.4" r="3.9"/><circle cx="714.3" cy="229.4" r="3.9"/><circle cx="716.2" cy="194.2" r="3.9"/><circle cx="711.2" cy="187.5" r="3.9"/><circle cx="720.7" cy="237.0" r="3.9"/><circle cx="721.0" cy="212.7" r="3.9"/><circle cx="710.1" cy="210.9" r="3.9"/><circle cx="718.4" cy="210.2" r="3.9"/><circle cx="713.1" cy="213.6" r="3.9"/><circle cx="712.4" cy="235.1" r="3.9"/><circle cx="716.1" cy="220.7" r="3.9"/><circle cx="711.7" cy="195.7" r="3.9"/><circle cx="716.4" cy="228.7" r="3.9"/><circle cx="721.0" cy="186.4" r="3.9"/><circle cx="717.2" cy="216.9" r="3.9"/><circle cx="711.4" cy="186.5" r="3.9"/><circle cx="719.6" cy="215.9" r="3.9"/><circle cx="722.8" cy="200.8" r="3.9"/><circle cx="723.1" cy="209.9" r="3.9"/><circle cx="717.3" cy="187.7" r="3.9"/><circle cx="715.3" cy="211.5" r="3.9"/><circle cx="722.4" cy="193.0" r="3.9"/><circle cx="708.8" cy="211.2" r="3.9"/><circle cx="712.5" cy="215.4" r="3.9"/><circle cx="709.9" cy="226.4" r="3.9"/><circle cx="723.2" cy="204.6" r="3.9"/><circle cx="712.9" cy="185.7" r="3.9"/><circle cx="720.4" cy="216.9" r="3.9"/><circle cx="714.3" cy="222.8" r="3.9"/><circle cx="715.5" cy="181.2" r="3.9"/><circle cx="720.6" cy="205.4" r="3.9"/><circle cx="711.3" cy="222.0" r="3.9"/><circle cx="724.0" cy="192.7" r="3.9"/><circle cx="714.5" cy="241.5" r="3.9"/><circle cx="723.6" cy="210.9" r="3.9"/><circle cx="712.2" cy="226.5" r="3.9"/><circle cx="721.7" cy="218.7" r="3.9"/><circle cx="714.5" cy="186.2" r="3.9"/><circle cx="719.4" cy="190.5" r="3.9"/><circle cx="718.9" cy="237.8" r="3.9"/><circle cx="716.1" cy="231.4" r="3.9"/><circle cx="721.5" cy="207.1" r="3.9"/><circle cx="710.5" cy="213.0" r="3.9"/><circle cx="713.5" cy="239.7" r="3.9"/><circle cx="714.6" cy="231.8" r="3.9"/><circle cx="715.1" cy="222.4" r="3.9"/><circle cx="718.0" cy="228.4" r="3.9"/><circle cx="715.0" cy="238.1" r="3.9"/><circle cx="721.7" cy="185.9" r="3.9"/><circle cx="722.2" cy="201.3" r="3.9"/><circle cx="716.0" cy="206.1" r="3.9"/><circle cx="722.3" cy="201.0" r="3.9"/><circle cx="713.3" cy="218.4" r="3.9"/><circle cx="712.3" cy="183.1" r="3.9"/><circle cx="714.6" cy="197.1" r="3.9"/><circle cx="718.5" cy="194.2" r="3.9"/><circle cx="711.6" cy="192.1" r="3.9"/><circle cx="724.2" cy="212.8" r="3.9"/><circle cx="712.6" cy="208.3" r="3.9"/><circle cx="722.6" cy="202.1" r="3.9"/><circle cx="723.4" cy="211.9" r="3.9"/><circle cx="716.0" cy="221.3" r="3.9"/><circle cx="719.9" cy="219.2" r="3.9"/><circle cx="715.9" cy="222.3" r="3.9"/><circle cx="719.2" cy="226.4" r="3.9"/><circle cx="711.3" cy="226.4" r="3.9"/><circle cx="712.0" cy="238.8" r="3.9"/><circle cx="709.6" cy="216.4" r="3.9"/><circle cx="719.1" cy="204.5" r="3.9"/><circle cx="713.4" cy="197.7" r="3.9"/><circle cx="719.8" cy="220.2" r="3.9"/><circle cx="720.2" cy="203.8" r="3.9"/><circle cx="717.8" cy="222.8" r="3.9"/><circle cx="713.6" cy="231.0" r="3.9"/><circle cx="711.8" cy="190.5" r="3.9"/><circle cx="714.9" cy="199.6" r="3.9"/><circle cx="712.6" cy="239.6" r="3.9"/><circle cx="711.9" cy="199.5" r="3.9"/><circle cx="712.9" cy="200.2" r="3.9"/><circle cx="719.1" cy="208.1" r="3.9"/><circle cx="719.0" cy="228.1" r="3.9"/><circle cx="719.6" cy="209.3" r="3.9"/><circle cx="721.7" cy="226.5" r="3.9"/><circle cx="712.9" cy="212.9" r="3.9"/><circle cx="717.5" cy="196.8" r="3.9"/><circle cx="715.0" cy="226.6" r="3.9"/><circle cx="717.1" cy="229.9" r="3.9"/><circle cx="719.2" cy="239.7" r="3.9"/><circle cx="720.4" cy="225.9" r="3.9"/><circle cx="717.3" cy="201.9" r="3.9"/><circle cx="723.5" cy="212.4" r="3.9"/><circle cx="715.5" cy="188.7" r="3.9"/><circle cx="719.6" cy="211.2" r="3.9"/><circle cx="713.3" cy="215.9" r="3.9"/><circle cx="718.4" cy="232.2" r="3.9"/><circle cx="720.6" cy="189.8" r="3.9"/><circle cx="723.5" cy="211.1" r="3.9"/><circle cx="718.3" cy="225.9" r="3.9"/><circle cx="713.3" cy="223.6" r="3.9"/><circle cx="721.4" cy="184.7" r="3.9"/><circle cx="710.4" cy="197.2" r="3.9"/><circle cx="721.4" cy="221.9" r="3.9"/><circle cx="709.8" cy="202.5" r="3.9"/><circle cx="716.4" cy="231.8" r="3.9"/><circle cx="715.9" cy="189.0" r="3.9"/><circle cx="709.3" cy="214.5" r="3.9"/><circle cx="716.6" cy="231.1" r="3.9"/><circle cx="712.2" cy="201.3" r="3.9"/><circle cx="718.6" cy="230.0" r="3.9"/><circle cx="720.0" cy="184.4" r="3.9"/><circle cx="718.4" cy="216.3" r="3.9"/><circle cx="724.4" cy="194.4" r="3.9"/><circle cx="713.6" cy="229.7" r="3.9"/><circle cx="712.0" cy="223.8" r="3.9"/><circle cx="720.7" cy="205.2" r="3.9"/><circle cx="720.2" cy="212.1" r="3.9"/><circle cx="719.8" cy="192.6" r="3.9"/><circle cx="722.2" cy="240.0" r="3.9"/><circle cx="718.1" cy="236.8" r="3.9"/><circle cx="722.0" cy="184.4" r="3.9"/><circle cx="713.1" cy="224.7" r="3.9"/><circle cx="710.1" cy="183.8" r="3.9"/><circle cx="723.7" cy="183.8" r="3.9"/><circle cx="709.3" cy="207.6" r="3.9"/><circle cx="723.7" cy="207.6" r="3.9"/><circle cx="710.0" cy="226.7" r="3.9"/><circle cx="722.7" cy="226.7" r="3.9"/><circle cx="710.4" cy="239.8" r="3.9"/><circle cx="722.8" cy="239.8" r="3.9"/><circle cx="714.7" cy="167.7" r="3.9"/><circle cx="724.8" cy="168.9" r="3.9"/><circle cx="711.7" cy="169.5" r="3.9"/><circle cx="709.5" cy="241.0" r="3.9"/><circle cx="722.5" cy="240.0" r="3.9"/>
</g>
<g fill="#7570b3">
<circle cx="806.3" cy="237.8" r="3.9"/><circle cx="808.8" cy="185.1" r="3.9"/><circle cx="813.9" cy="209.5" r="3.9"/><circle cx="798.7" cy="211.9" r="3.9"/><circle cx="813.0" cy="238.4" r="3.9"/><circle cx="812.3" cy="203.7" r="3.9"/><circle cx="806.9" cy="187.2" r="3.9"/><circle cx="813.4" cy="230.3" r="3.9"/><circle cx="809.1" cy="213.7" r="3.9"/><circle cx="800.8" cy="203.6" r="3.9"/><circle cx="805.8" cy="220.4" r="3.9"/><circle cx="801.3" cy="182.8" r="3.9"/><circle cx="810.5" cy="209.5" r="3.9"/><circle cx="809.3" cy="194.2" r="3.9"/><circle cx="815.2" cy="217.9" r="3.9"/><circle cx="811.0" cy="232.8" r="3.9"/><circle cx="802.9" cy="231.4" r="3.9"/><circle cx="811.7" cy="239.8" r="3.9"/><circle cx="810.4" cy="195.7" r="3.9"/><circle cx="808.1" cy="185.2" r="3.9"/><circle cx="801.0" cy="190.7" r="3.9"/><circle cx="813.7" cy="212.2" r="3.9"/><circle cx="807.0" cy="215.1" r="3.9"/><circle cx="812.0" cy="219.3" r="3.9"/><circle cx="810.4" cy="197.6" r="3.9"/><circle cx="808.8" cy="179.9" r="3.9"/><circle cx="802.0" cy="208.6" r="3.9"/><circle cx="810.9" cy="214.4" r="3.9"/><circle cx="801.0" cy="234.5" r="3.9"/><circle cx="812.3" cy="188.1" r="3.9"/><circle cx="800.7" cy="229.2" r="3.9"/><circle cx="807.1" cy="224.1" r="3.9"/><circle cx="809.4" cy="208.5" r="3.9"/><circle cx="810.6" cy="238.9" r="3.9"/><circle cx="809.6" cy="238.7" r="3.9"/><circle cx="809.1" cy="180.4" r="3.9"/><circle cx="801.6" cy="206.8" r="3.9"/><circle cx="803.7" cy="195.0" r="3.9"/><circle cx="811.3" cy="221.6" r="3.9"/><circle cx="811.2" cy="233.7" r="3.9"/><circle cx="799.0" cy="196.5" r="3.9"/><circle cx="812.9" cy="193.6" r="3.9"/><circle cx="811.0" cy="200.1" r="3.9"/><circle cx="807.6" cy="237.2" r="3.9"/><circle cx="803.6" cy="185.3" r="3.9"/><circle cx="814.8" cy="219.8" r="3.9"/><circle cx="805.4" cy="213.9" r="3.9"/><circle cx="813.1" cy="238.8" r="3.9"/><circle cx="809.8" cy="238.3" r="3.9"/><circle cx="810.9" cy="223.8" r="3.9"/><circle cx="799.2" cy="228.1" r="3.9"/><circle cx="814.6" cy="224.0" r="3.9"/><circle cx="809.5" cy="220.9" r="3.9"/><circle cx="803.5" cy="217.9" r="3.9"/><circle cx="804.3" cy="182.6" r="3.9"/><circle cx="803.1" cy="242.4" r="3.9"/><circle cx="803.8" cy="229.2" r="3.9"/><circle cx="806.0" cy="205.4" r="3.9"/><circle cx="799.4" cy="201.0" r="3.9"/><circle cx="803.5" cy="231.4" r="3.9"/><circle cx="807.2" cy="188.8" r="3.9"/><circle cx="800.0" cy="222.1" r="3.9"/><circle cx="798.6" cy="216.0" r="3.9"/><circle cx="801.1" cy="202.4" r="3.9"/><circle cx="807.4" cy="230.4" r="3.9"/><circle cx="804.5" cy="193.2" r="3.9"/><circle cx="806.3" cy="202.5" r="3.9"/><circle cx="806.2" cy="233.6" r="3.9"/><circle cx="807.9" cy="209.4" r="3.9"/><circle cx="814.9" cy="215.6" r="3.9"/><circle cx="813.3" cy="213.0" r="3.9"/><circle cx="812.8" cy="192.4" r="3.9"/><circle cx="799.8" cy="208.8" r="3.9"/><circle cx="809.6" cy="208.3" r="3.9"/><circle cx="809.5" cy="210.2" r="3.9"/><circle cx="811.1" cy="212.4" r="3.9"/><circle cx="808.8" cy="213.9" r="3.9"/><circle cx="814.4" cy="221.4" r="3.9"/><circle cx="804.7" cy="227.3" r="3.9"/><circle cx="808.3" cy="238.0" r="3.9"/><circle cx="800.2" cy="237.9" r="3.9"/><circle cx="811.0" cy="207.4" r="3.9"/><circle cx="805.2" cy="216.9" r="3.9"/><circle cx="801.8" cy="219.4" r="3.9"/><circle cx="808.5" cy="244.4" r="3.9"/><circle cx="809.3" cy="199.6" r="3.9"/><circle cx="809.0" cy="179.9" r="3.9"/><circle cx="803.8" cy="178.4" r="3.9"/><circle cx="810.4" cy="208.4" r="3.9"/><circle cx="811.8" cy="187.5" r="3.9"/><circle cx="799.3" cy="216.8" r="3.9"/><circle cx="814.5" cy="222.1" r="3.9"/><circle cx="805.0" cy="196.1" r="3.9"/><circle cx="801.9" cy="181.8" r="3.9"/><circle cx="804.7" cy="242.3" r="3.9"/><circle cx="812.3" cy="213.3" r="3.9"/><circle cx="802.5" cy="221.5" r="3.9"/><circle cx="811.9" cy="221.9" r="3.9"/><circle cx="802.5" cy="237.8" r="3.9"/><circle cx="806.3" cy="183.4" r="3.9"/><circle cx="802.4" cy="190.3" r="3.9"/><circle cx="808.9" cy="223.1" r="3.9"/><circle cx="812.0" cy="209.5" r="3.9"/><circle cx="801.4" cy="225.2" r="3.9"/><circle cx="802.7" cy="241.7" r="3.9"/><circle cx="802.1" cy="206.8" r="3.9"/><circle cx="813.4" cy="205.4" r="3.9"/><circle cx="804.1" cy="193.7" r="3.9"/><circle cx="800.5" cy="222.2" r="3.9"/><circle cx="799.0" cy="193.1" r="3.9"/><circle cx="810.0" cy="183.5" r="3.9"/><circle cx="805.8" cy="216.5" r="3.9"/><circle cx="808.6" cy="189.9" r="3.9"/><circle cx="809.3" cy="229.0" r="3.9"/><circle cx="814.8" cy="220.3" r="3.9"/><circle cx="803.1" cy="191.3" r="3.9"/><circle cx="808.0" cy="195.3" r="3.9"/><circle cx="808.7" cy="234.5" r="3.9"/><circle cx="798.6" cy="226.3" r="3.9"/><circle cx="798.8" cy="189.8" r="3.9"/><circle cx="809.1" cy="243.6" r="3.9"/><circle cx="805.8" cy="242.5" r="3.9"/><circle cx="802.9" cy="199.5" r="3.9"/><circle cx="801.8" cy="182.0" r="3.9"/><circle cx="802.8" cy="219.6" r="3.9"/><circle cx="804.5" cy="230.7" r="3.9"/><circle cx="810.3" cy="215.4" r="3.9"/><circle cx="802.5" cy="203.8" r="3.9"/><circle cx="800.5" cy="231.0" r="3.9"/><circle cx="812.1" cy="217.1" r="3.9"/><circle cx="809.7" cy="230.7" r="3.9"/><circle cx="808.4" cy="215.7" r="3.9"/><circle cx="802.8" cy="185.5" r="3.9"/><circle cx="802.2" cy="226.2" r="3.9"/><circle cx="809.5" cy="197.6" r="3.9"/><circle cx="801.8" cy="219.0" r="3.9"/><circle cx="802.9" cy="198.9" r="3.9"/><circle cx="814.5" cy="233.0" r="3.9"/><circle cx="810.6" cy="230.9" r="3.9"/><circle cx="801.7" cy="182.0" r="3.9"/><circle cx="809.8" cy="181.6" r="3.9"/><circle cx="801.4" cy="236.3" r="3.9"/><circle cx="810.7" cy="211.8" r="3.9"/><circle cx="800.2" cy="213.3" r="3.9"/><circle cx="802.1" cy="195.0" r="3.9"/><circle cx="814.0" cy="229.3" r="3.9"/><circle cx="801.2" cy="240.1" r="3.9"/><circle cx="803.2" cy="208.5" r="3.9"/><circle cx="809.6" cy="180.8" r="3.9"/><circle cx="805.3" cy="229.3" r="3.9"/><circle cx="800.8" cy="184.6" r="3.9"/><circle cx="800.8" cy="197.4" r="3.9"/><circle cx="806.1" cy="185.4" r="3.9"/><circle cx="811.4" cy="233.4" r="3.9"/><circle cx="802.6" cy="206.5" r="3.9"/><circle cx="808.0" cy="242.6" r="3.9"/><circle cx="806.7" cy="237.3" r="3.9"/><circle cx="803.4" cy="241.6" r="3.9"/><circle cx="810.9" cy="209.1" r="3.9"/><circle cx="803.9" cy="185.4" r="3.9"/><circle cx="814.0" cy="194.7" r="3.9"/><circle cx="803.5" cy="188.2" r="3.9"/><circle cx="803.7" cy="189.8" r="3.9"/><circle cx="799.6" cy="235.4" r="3.9"/><circle cx="813.5" cy="228.8" r="3.9"/><circle cx="805.1" cy="232.5" r="3.9"/><circle cx="802.5" cy="201.7" r="3.9"/><circle cx="803.3" cy="237.0" r="3.9"/><circle cx="813.1" cy="239.1" r="3.9"/><circle cx="812.0" cy="226.5" r="3.9"/><circle cx="804.5" cy="195.1" r="3.9"/><circle cx="804.6" cy="233.9" r="3.9"/><circle cx="801.5" cy="234.4" r="3.9"/><circle cx="808.4" cy="240.4" r="3.9"/><circle cx="807.6" cy="221.5" r="3.9"/><circle cx="811.6" cy="208.5" r="3.9"/><circle cx="803.4" cy="235.8" r="3.9"/><circle cx="809.0" cy="185.0" r="3.9"/><circle cx="810.0" cy="193.4" r="3.9"/><circle cx="804.0" cy="231.4" r="3.9"/><circle cx="806.3" cy="220.1" r="3.9"/><circle cx="804.2" cy="237.8" r="3.9"/><circle cx="801.2" cy="236.1" r="3.9"/><circle cx="807.2" cy="217.2" r="3.9"/><circle cx="804.5" cy="222.3" r="3.9"/><circle cx="801.5" cy="241.7" r="3.9"/><circle cx="805.7" cy="206.9" r="3.9"/><circle cx="811.0" cy="230.5" r="3.9"/><circle cx="801.8" cy="225.3" r="3.9"/><circle cx="807.0" cy="244.4" r="3.9"/><circle cx="801.0" cy="182.9" r="3.9"/><circle cx="809.0" cy="182.9" r="3.9"/><circle cx="799.8" cy="200.7" r="3.9"/><circle cx="813.4" cy="200.7" r="3.9"/><circle cx="799.7" cy="224.5" r="3.9"/><circle cx="814.6" cy="224.5" r="3.9"/><circle cx="801.5" cy="242.4" r="3.9"/><circle cx="810.6" cy="242.4" r="3.9"/><circle cx="811.2" cy="172.7" r="3.9"/><circle cx="798.7" cy="247.1" r="3.9"/><circle cx="805.3" cy="249.5" r="3.9"/>
</g>
<g stroke="#333" fill="none">
<line x1="851.5" y1="146.9" x2="851.5" y2="185.8" stroke-width="2.0"/>
<line x1="851.5" y1="215.4" x2="851.5" y2="243.0" stroke-width="2.0"/>
<line x1="846.8" y1="146.9" x2="856.3" y2="146.9" stroke-width="2.3"/>
<line x1="846.8" y1="243.0" x2="856.3" y2="243.0" stroke-width="2.3"/>
<rect x="842.1" y="186.1" width="18.9" height="29.0" fill="#1b9e77" stroke-width="2.0"/>
<line x1="842.1" y1="204.1" x2="861.0" y2="204.1" stroke-width="3.9"/>
</g>
<g stroke="#333" fill="none">
<line x1="887.4" y1="167.0" x2="887.4" y2="194.6" stroke-width="2.0"/>
<line x1="887.4" y1="216.6" x2="887.4" y2="242.2" stroke-width="2.0"/>
<line x1="882.6" y1="167.0" x2="892.2" y2="167.0" stroke-width="2.3"/>
<line x1="882.6" y1="242.2" x2="892.2" y2="242.2" stroke-width="2.3"/>
<rect x="877.9" y="194.9" width="19.0" height="21.4" fill="#d95f02" stroke-width="2.0"/>
<line x1="877.9" y1="206.6" x2="896.9" y2="206.6" stroke-width="3.9"/>
</g>
<g stroke="#333" fill="none">
<line x1="923.6" y1="173.3" x2="923.6" y2="204.6" stroke-width="2.0"/>
<line x1="923.6" y1="227.9" x2="923.6" y2="249.2" stroke-width="2.0"/>
<line x1="918.9" y1="173.3" x2="928.4" y2="173.3" stroke-width="2.3"/>
<line x1="918.9" y1="249.2" x2="928.4" y2="249.2" stroke-width="2.3"/>
<rect x="914.3" y="204.9" width="18.7" height="22.7" fill="#7570b3" stroke-width="2.0"/>
<line x1="914.3" y1="216.6" x2="933.0" y2="216.6" stroke-width="3.9"/>
</g>
<path d="M959.6 88.5 C959.6 90.6 959.7 97.7 959.8 101.0 C959.9 104.3 960.4 106.0 960.4 108.5 C960.4 111.0 960.0 112.8 959.9 116.0 C959.8 119.2 959.8 124.2 959.8 128.0 C959.8 131.8 959.7 135.2 960.1 138.8 C960.5 142.4 961.6 146.4 962.3 149.3 C963.0 152.2 963.5 153.4 964.5 156.3 C965.5 159.2 967.2 163.8 968.5 166.9 C969.8 170.0 971.0 172.5 972.4 174.8 C973.8 177.1 975.5 178.6 976.8 180.5 C978.1 182.4 978.8 184.2 980.3 186.2 C981.8 188.2 983.8 190.7 985.7 192.6 C987.6 194.5 989.8 195.9 991.9 197.6 C994.0 199.3 996.7 201.1 998.2 202.6 C999.7 204.1 1000.4 204.9 1000.7 206.3 C1001.1 207.7 1000.5 209.7 1000.3 211.0 C1000.1 212.3 1001.6 212.2 999.5 214.0 C997.4 215.8 991.8 219.5 987.8 221.7 C983.8 223.9 978.7 225.2 975.4 227.3 C972.1 229.4 970.2 231.2 968.0 234.0 C965.8 236.8 963.3 241.5 961.9 244.2 C960.5 246.9 960.0 249.0 959.6 250.0 Z" fill="#1b9e77" fill-opacity="0.5" stroke="#111" stroke-width="1.8" stroke-linejoin="round"/>
<path d="M959.6 152.0 C959.7 153.2 959.4 156.5 960.1 159.0 C960.8 161.5 962.4 164.1 963.7 166.9 C965.0 169.7 966.2 173.2 968.0 175.7 C969.8 178.2 972.1 180.1 974.2 181.8 C976.3 183.5 978.3 183.9 980.7 185.7 C983.1 187.5 986.1 190.2 988.8 192.6 C991.5 195.0 995.0 198.3 997.0 200.1 C999.0 201.9 999.9 202.3 1001.0 203.5 C1002.1 204.7 1003.4 205.9 1003.9 207.0 C1004.4 208.1 1004.7 209.1 1004.2 210.1 C1003.7 211.1 1003.4 211.3 1000.7 213.2 C998.0 215.1 992.0 219.3 987.8 221.7 C983.6 224.0 978.2 224.9 975.4 227.3 C972.6 229.7 973.0 233.5 970.9 236.3 C968.8 239.1 964.9 242.2 963.0 244.2 C961.1 246.2 960.2 247.8 959.6 248.5 Z" fill="#d95f02" fill-opacity="0.5" stroke="#111" stroke-width="1.8" stroke-linejoin="round"/>
<path d="M959.6 160.0 C959.7 160.8 959.6 163.2 960.1 165.1 C960.6 167.0 961.6 168.8 962.8 171.3 C964.0 173.8 966.0 177.8 967.2 180.0 C968.4 182.2 968.5 182.5 970.0 184.4 C971.5 186.3 974.2 189.2 976.3 191.3 C978.4 193.4 980.4 195.1 982.5 197.0 C984.6 198.9 986.7 200.7 988.8 202.6 C990.9 204.5 993.3 206.4 995.1 208.2 C996.9 210.0 998.3 211.6 999.5 213.3 C1000.7 215.0 1002.1 216.9 1002.4 218.3 C1002.7 219.7 1002.2 220.4 1001.3 221.7 C1000.4 223.0 998.7 224.5 996.8 226.2 C994.9 227.9 992.4 229.9 990.0 231.8 C987.6 233.7 985.0 235.6 982.2 237.5 C979.4 239.4 976.0 241.4 973.2 243.1 C970.4 244.8 967.1 246.3 965.3 247.6 C963.5 248.9 963.1 249.9 962.3 251.0 C961.5 252.1 961.0 252.9 960.6 254.4 C960.2 255.9 959.9 257.9 959.7 260.0 C959.5 262.1 959.6 265.7 959.6 266.8 Z" fill="#7570b3" fill-opacity="0.5" stroke="#111" stroke-width="1.8" stroke-linejoin="round"/>
</g>
<g>
<line x1="1110.7" y1="51.4" x2="1110.7" y2="287.4" stroke="#bdbdbd" stroke-width="1.4"/>
<line x1="1102.1" y1="51.4" x2="1110.7" y2="51.4" stroke="#7a7a7a" stroke-width="1.7"/>
<text x="1083.73" y="57.81" font-family="'Noto Sans CJK SC', 'Liberation Sans', sans-serif" font-weight="400" font-size="17.80" textLength="11.06" lengthAdjust="spacingAndGlyphs" fill="#111">8</text>
<line x1="1102.1" y1="90.7" x2="1110.7" y2="90.7" stroke="#7a7a7a" stroke-width="1.7"/>
<text x="1083.73" y="97.05" font-family="'Noto Sans CJK SC', 'Liberation Sans', sans-serif" font-weight="400" font-size="17.80" textLength="11.06" lengthAdjust="spacingAndGlyphs" fill="#111">7</text>
<line x1="1102.1" y1="130.1" x2="1110.7" y2="130.1" stroke="#7a7a7a" stroke-width="1.7"/>
<text x="1083.73" y="136.47" font-family="'Noto Sans CJK SC', 'Liberation Sans', sans-serif" font-weight="400" font-size="17.80" textLength="11.06" lengthAdjust="spacingAndGlyphs" fill="#111">6</text>
<line x1="1102.1" y1="169.4" x2="1110.7" y2="169.4" stroke="#7a7a7a" stroke-width="1.7"/>
<text x="1083.93" y="175.62" font-family="'Noto Sans CJK SC', 'Liberation Sans', sans-serif" font-weight="400" font-size="17.80" textLength="11.06" lengthAdjust="spacingAndGlyphs" fill="#111">5</text>
<line x1="1102.1" y1="208.7" x2="1110.7" y2="208.7" stroke="#7a7a7a" stroke-width="1.7"/>
<text x="1083.53" y="215.04" font-family="'Noto Sans CJK SC', 'Liberation Sans', sans-serif" font-weight="400" font-size="17.80" textLength="11.06" lengthAdjust="spacingAndGlyphs" fill="#111">4</text>
<line x1="1102.1" y1="248.0" x2="1110.7" y2="248.0" stroke="#7a7a7a" stroke-width="1.7"/>
<text x="1083.93" y="254.46" font-family="'Noto Sans CJK SC', 'Liberation Sans', sans-serif" font-weight="400" font-size="17.80" textLength="11.06" lengthAdjust="spacingAndGlyphs" fill="#111">3</text>
<line x1="1102.1" y1="287.4" x2="1110.7" y2="287.4" stroke="#7a7a7a" stroke-width="1.7"/>
<text x="1083.93" y="293.88" font-family="'Noto Sans CJK SC', 'Liberation Sans', sans-serif" font-weight="400" font-size="17.80" textLength="11.06" lengthAdjust="spacingAndGlyphs" fill="#111">2</text>
<text transform="translate(1062.10 240.98) rotate(-90)" x="0" y="0" font-family="'Noto Sans CJK SC', 'Liberation Sans', sans-serif" font-weight="500" font-size="18.00" textLength="183.70" lengthAdjust="spacingAndGlyphs" fill="#111">Phase angle (degree)</text>
<line x1="1139.9" y1="299.1" x2="1323.9" y2="299.1" stroke="#b5b5b5" stroke-width="1.4"/>
<line x1="1139.9" y1="299.1" x2="1139.9" y2="307.8" stroke="#7a7a7a" stroke-width="1.7"/>
<line x1="1232.1" y1="299.1" x2="1232.1" y2="307.8" stroke="#7a7a7a" stroke-width="1.7"/>
<line x1="1323.9" y1="299.1" x2="1323.9" y2="307.8" stroke="#7a7a7a" stroke-width="1.7"/>
<text x="1123.81" y="341.80" font-family="NanumGothic, 'Liberation Sans', sans-serif" font-weight="700" font-size="17.90" textLength="22.64" lengthAdjust="spacingAndGlyphs" fill="#111">T1</text>
<text x="1216.64" y="341.80" font-family="NanumGothic, 'Liberation Sans', sans-serif" font-weight="700" font-size="17.90" fill="#111">T2</text>
<text x="1304.43" y="341.62" font-family="NanumGothic, 'Liberation Sans', sans-serif" font-weight="700" font-size="17.90" textLength="21.49" lengthAdjust="spacingAndGlyphs" fill="#111">T3</text>
<path d="M1131.0 52.2 V46.8 H1335.2 V52.2" fill="none" stroke="#000" stroke-width="2.1" stroke-linejoin="round"/>
<text x="1220.11" y="43.83" font-family="'Noto Sans CJK SC', 'Liberation Sans', sans-serif" font-weight="700" font-size="16.50" textLength="23.99" lengthAdjust="spacingAndGlyphs" fill="#000">***</text>
<path d="M1131.0 81.3 V76.0 H1230.2 V81.3" fill="none" stroke="#000" stroke-width="2.1" stroke-linejoin="round"/>
<text x="1166.81" y="75.03" font-family="'Noto Sans CJK SC', 'Liberation Sans', sans-serif" font-weight="700" font-size="16.50" textLength="23.99" lengthAdjust="spacingAndGlyphs" fill="#000">***</text>
<path d="M1235.8 81.3 V76.0 H1335.2 V81.3" fill="none" stroke="#000" stroke-width="2.1" stroke-linejoin="round"/>
<text x="1274.41" y="73.83" font-family="'Noto Sans CJK SC', 'Liberation Sans', sans-serif" font-weight="700" font-size="16.50" textLength="23.99" lengthAdjust="spacingAndGlyphs" fill="#000">***</text>
<g fill="#1b9e77">
<circle cx="1141.7" cy="208.7" r="3.9"/><circle cx="1136.1" cy="212.7" r="3.9"/><circle cx="1138.5" cy="181.2" r="3.9"/><circle cx="1138.4" cy="177.3" r="3.9"/><circle cx="1131.2" cy="165.5" r="3.9"/><circle cx="1144.3" cy="149.7" r="3.9"/><circle cx="1144.7" cy="130.1" r="3.9"/><circle cx="1142.5" cy="134.0" r="3.9"/><circle cx="1143.1" cy="193.0" r="3.9"/><circle cx="1146.2" cy="141.9" r="3.9"/><circle cx="1140.6" cy="118.3" r="3.9"/><circle cx="1142.0" cy="185.1" r="3.9"/><circle cx="1138.6" cy="137.9" r="3.9"/><circle cx="1135.1" cy="177.3" r="3.9"/><circle cx="1138.8" cy="165.5" r="3.9"/><circle cx="1133.8" cy="161.5" r="3.9"/><circle cx="1138.2" cy="157.6" r="3.9"/><circle cx="1141.3" cy="130.1" r="3.9"/><circle cx="1143.3" cy="114.3" r="3.9"/><circle cx="1147.2" cy="149.7" r="3.9"/><circle cx="1141.1" cy="153.7" r="3.9"/><circle cx="1147.1" cy="181.2" r="3.9"/><circle cx="1142.6" cy="196.9" r="3.9"/><circle cx="1141.0" cy="149.7" r="3.9"/><circle cx="1146.9" cy="153.7" r="3.9"/><circle cx="1139.9" cy="196.9" r="3.9"/><circle cx="1137.2" cy="165.5" r="3.9"/><circle cx="1142.2" cy="169.4" r="3.9"/><circle cx="1141.8" cy="161.5" r="3.9"/><circle cx="1138.6" cy="196.9" r="3.9"/><circle cx="1140.8" cy="149.7" r="3.9"/><circle cx="1135.5" cy="130.1" r="3.9"/><circle cx="1138.1" cy="130.1" r="3.9"/><circle cx="1146.1" cy="189.1" r="3.9"/><circle cx="1145.1" cy="212.7" r="3.9"/><circle cx="1140.7" cy="122.2" r="3.9"/><circle cx="1144.3" cy="134.0" r="3.9"/><circle cx="1146.9" cy="193.0" r="3.9"/><circle cx="1136.5" cy="118.3" r="3.9"/><circle cx="1134.0" cy="189.1" r="3.9"/><circle cx="1137.6" cy="185.1" r="3.9"/><circle cx="1135.5" cy="216.6" r="3.9"/><circle cx="1143.0" cy="130.1" r="3.9"/><circle cx="1141.5" cy="173.3" r="3.9"/><circle cx="1142.5" cy="204.8" r="3.9"/><circle cx="1144.2" cy="196.9" r="3.9"/><circle cx="1141.2" cy="157.6" r="3.9"/><circle cx="1141.5" cy="212.7" r="3.9"/><circle cx="1146.4" cy="145.8" r="3.9"/><circle cx="1144.6" cy="196.9" r="3.9"/><circle cx="1137.2" cy="216.6" r="3.9"/><circle cx="1140.4" cy="130.1" r="3.9"/><circle cx="1133.9" cy="141.9" r="3.9"/><circle cx="1136.1" cy="212.7" r="3.9"/><circle cx="1145.9" cy="193.0" r="3.9"/><circle cx="1132.7" cy="173.3" r="3.9"/><circle cx="1134.9" cy="196.9" r="3.9"/><circle cx="1141.9" cy="137.9" r="3.9"/><circle cx="1136.9" cy="134.0" r="3.9"/><circle cx="1147.7" cy="153.7" r="3.9"/><circle cx="1139.6" cy="196.9" r="3.9"/><circle cx="1133.8" cy="161.5" r="3.9"/><circle cx="1133.3" cy="169.4" r="3.9"/><circle cx="1144.9" cy="181.2" r="3.9"/><circle cx="1144.6" cy="114.3" r="3.9"/><circle cx="1143.9" cy="161.5" r="3.9"/><circle cx="1134.9" cy="149.7" r="3.9"/><circle cx="1138.3" cy="126.1" r="3.9"/><circle cx="1135.5" cy="134.0" r="3.9"/><circle cx="1136.1" cy="137.9" r="3.9"/><circle cx="1146.8" cy="208.7" r="3.9"/><circle cx="1140.5" cy="193.0" r="3.9"/><circle cx="1146.6" cy="204.8" r="3.9"/><circle cx="1143.5" cy="196.9" r="3.9"/><circle cx="1135.3" cy="216.6" r="3.9"/><circle cx="1138.3" cy="185.1" r="3.9"/><circle cx="1140.8" cy="165.5" r="3.9"/><circle cx="1135.1" cy="193.0" r="3.9"/><circle cx="1134.2" cy="145.8" r="3.9"/><circle cx="1140.9" cy="141.9" r="3.9"/><circle cx="1138.6" cy="212.7" r="3.9"/><circle cx="1140.7" cy="212.7" r="3.9"/><circle cx="1140.3" cy="204.8" r="3.9"/><circle cx="1133.9" cy="137.9" r="3.9"/><circle cx="1138.1" cy="114.3" r="3.9"/><circle cx="1142.8" cy="165.5" r="3.9"/><circle cx="1147.6" cy="185.1" r="3.9"/><circle cx="1131.8" cy="185.1" r="3.9"/><circle cx="1132.4" cy="145.8" r="3.9"/><circle cx="1141.6" cy="157.6" r="3.9"/><circle cx="1136.8" cy="200.9" r="3.9"/><circle cx="1140.2" cy="141.9" r="3.9"/><circle cx="1138.6" cy="145.8" r="3.9"/><circle cx="1142.3" cy="141.9" r="3.9"/><circle cx="1145.9" cy="212.7" r="3.9"/><circle cx="1134.1" cy="177.3" r="3.9"/><circle cx="1137.8" cy="189.1" r="3.9"/><circle cx="1137.8" cy="208.7" r="3.9"/><circle cx="1143.6" cy="130.1" r="3.9"/><circle cx="1131.5" cy="173.3" r="3.9"/><circle cx="1138.3" cy="137.9" r="3.9"/><circle cx="1135.6" cy="149.7" r="3.9"/><circle cx="1139.0" cy="185.1" r="3.9"/><circle cx="1141.7" cy="165.5" r="3.9"/><circle cx="1138.8" cy="130.1" r="3.9"/><circle cx="1140.6" cy="122.2" r="3.9"/><circle cx="1137.5" cy="137.9" r="3.9"/><circle cx="1140.8" cy="208.7" r="3.9"/><circle cx="1144.1" cy="130.1" r="3.9"/><circle cx="1132.5" cy="181.2" r="3.9"/><circle cx="1144.1" cy="165.5" r="3.9"/><circle cx="1142.5" cy="189.1" r="3.9"/><circle cx="1133.0" cy="157.6" r="3.9"/><circle cx="1140.4" cy="208.7" r="3.9"/><circle cx="1142.8" cy="185.1" r="3.9"/><circle cx="1140.8" cy="157.6" r="3.9"/><circle cx="1134.6" cy="216.6" r="3.9"/><circle cx="1142.8" cy="165.5" r="3.9"/><circle cx="1136.2" cy="165.5" r="3.9"/><circle cx="1139.9" cy="212.7" r="3.9"/><circle cx="1142.8" cy="126.1" r="3.9"/><circle cx="1147.3" cy="185.1" r="3.9"/><circle cx="1144.0" cy="118.3" r="3.9"/><circle cx="1142.0" cy="126.1" r="3.9"/><circle cx="1136.5" cy="149.7" r="3.9"/><circle cx="1134.5" cy="216.6" r="3.9"/><circle cx="1142.0" cy="189.1" r="3.9"/><circle cx="1142.8" cy="130.1" r="3.9"/><circle cx="1139.8" cy="204.8" r="3.9"/><circle cx="1145.6" cy="208.7" r="3.9"/><circle cx="1142.3" cy="173.3" r="3.9"/><circle cx="1136.7" cy="212.7" r="3.9"/><circle cx="1137.6" cy="169.4" r="3.9"/><circle cx="1135.0" cy="165.5" r="3.9"/><circle cx="1138.8" cy="141.9" r="3.9"/><circle cx="1136.1" cy="181.2" r="3.9"/><circle cx="1144.1" cy="193.0" r="3.9"/><circle cx="1140.0" cy="169.4" r="3.9"/><circle cx="1143.7" cy="153.7" r="3.9"/><circle cx="1137.3" cy="134.0" r="3.9"/><circle cx="1144.1" cy="149.7" r="3.9"/><circle cx="1142.0" cy="181.2" r="3.9"/><circle cx="1137.6" cy="185.1" r="3.9"/><circle cx="1141.3" cy="114.3" r="3.9"/><circle cx="1144.6" cy="185.1" r="3.9"/><circle cx="1143.9" cy="137.9" r="3.9"/><circle cx="1136.4" cy="189.1" r="3.9"/><circle cx="1146.8" cy="165.5" r="3.9"/><circle cx="1140.1" cy="200.9" r="3.9"/><circle cx="1144.9" cy="130.1" r="3.9"/><circle cx="1130.5" cy="106.6" r="3.9"/><circle cx="1130.5" cy="228.7" r="3.9"/><circle cx="1147.5" cy="228.7" r="3.9"/><circle cx="1129.5" cy="224.8" r="3.9"/><circle cx="1136.0" cy="224.8" r="3.9"/><circle cx="1141.5" cy="224.8" r="3.9"/><circle cx="1131.0" cy="220.8" r="3.9"/><circle cx="1138.0" cy="220.8" r="3.9"/><circle cx="1144.0" cy="220.8" r="3.9"/>
</g>
<g fill="#d95f02">
<circle cx="1236.2" cy="169.4" r="3.9"/><circle cx="1229.2" cy="134.0" r="3.9"/><circle cx="1234.9" cy="126.1" r="3.9"/><circle cx="1237.1" cy="149.7" r="3.9"/><circle cx="1229.1" cy="145.8" r="3.9"/><circle cx="1231.7" cy="149.7" r="3.9"/><circle cx="1230.3" cy="110.4" r="3.9"/><circle cx="1227.7" cy="130.1" r="3.9"/><circle cx="1230.8" cy="118.3" r="3.9"/><circle cx="1236.7" cy="102.5" r="3.9"/><circle cx="1232.7" cy="122.2" r="3.9"/><circle cx="1236.2" cy="118.3" r="3.9"/><circle cx="1236.6" cy="165.5" r="3.9"/><circle cx="1227.0" cy="134.0" r="3.9"/><circle cx="1226.6" cy="137.9" r="3.9"/><circle cx="1232.0" cy="141.9" r="3.9"/><circle cx="1228.2" cy="137.9" r="3.9"/><circle cx="1233.7" cy="169.4" r="3.9"/><circle cx="1238.4" cy="145.8" r="3.9"/><circle cx="1233.2" cy="130.1" r="3.9"/><circle cx="1235.0" cy="130.1" r="3.9"/><circle cx="1227.0" cy="153.7" r="3.9"/><circle cx="1226.5" cy="130.1" r="3.9"/><circle cx="1234.9" cy="118.3" r="3.9"/><circle cx="1226.4" cy="153.7" r="3.9"/><circle cx="1234.6" cy="114.3" r="3.9"/><circle cx="1228.0" cy="122.2" r="3.9"/><circle cx="1228.6" cy="149.7" r="3.9"/><circle cx="1233.4" cy="145.8" r="3.9"/><circle cx="1235.6" cy="141.9" r="3.9"/><circle cx="1236.5" cy="145.8" r="3.9"/><circle cx="1229.6" cy="145.8" r="3.9"/><circle cx="1236.3" cy="137.9" r="3.9"/><circle cx="1223.6" cy="153.7" r="3.9"/><circle cx="1235.4" cy="173.3" r="3.9"/><circle cx="1228.6" cy="122.2" r="3.9"/><circle cx="1238.1" cy="165.5" r="3.9"/><circle cx="1234.9" cy="134.0" r="3.9"/><circle cx="1227.7" cy="141.9" r="3.9"/><circle cx="1229.2" cy="173.3" r="3.9"/><circle cx="1228.3" cy="110.4" r="3.9"/><circle cx="1237.7" cy="173.3" r="3.9"/><circle cx="1237.1" cy="122.2" r="3.9"/><circle cx="1238.7" cy="157.6" r="3.9"/><circle cx="1237.0" cy="145.8" r="3.9"/><circle cx="1230.9" cy="110.4" r="3.9"/><circle cx="1239.2" cy="161.5" r="3.9"/><circle cx="1237.4" cy="122.2" r="3.9"/><circle cx="1231.0" cy="118.3" r="3.9"/><circle cx="1226.5" cy="130.1" r="3.9"/><circle cx="1237.9" cy="161.5" r="3.9"/><circle cx="1235.9" cy="130.1" r="3.9"/><circle cx="1225.7" cy="153.7" r="3.9"/><circle cx="1227.4" cy="130.1" r="3.9"/><circle cx="1232.7" cy="122.2" r="3.9"/><circle cx="1229.1" cy="130.1" r="3.9"/><circle cx="1229.1" cy="134.0" r="3.9"/><circle cx="1233.4" cy="165.5" r="3.9"/><circle cx="1228.3" cy="149.7" r="3.9"/><circle cx="1234.7" cy="169.4" r="3.9"/><circle cx="1230.4" cy="177.3" r="3.9"/><circle cx="1236.8" cy="141.9" r="3.9"/><circle cx="1233.8" cy="130.1" r="3.9"/><circle cx="1231.1" cy="114.3" r="3.9"/><circle cx="1225.1" cy="141.9" r="3.9"/><circle cx="1236.0" cy="173.3" r="3.9"/><circle cx="1235.8" cy="145.8" r="3.9"/><circle cx="1229.6" cy="126.1" r="3.9"/><circle cx="1229.8" cy="145.8" r="3.9"/><circle cx="1234.6" cy="137.9" r="3.9"/><circle cx="1235.2" cy="114.3" r="3.9"/><circle cx="1236.7" cy="110.4" r="3.9"/><circle cx="1230.4" cy="106.5" r="3.9"/><circle cx="1230.9" cy="106.5" r="3.9"/><circle cx="1235.0" cy="137.9" r="3.9"/><circle cx="1229.0" cy="110.4" r="3.9"/><circle cx="1235.4" cy="110.4" r="3.9"/><circle cx="1235.7" cy="177.3" r="3.9"/><circle cx="1231.0" cy="134.0" r="3.9"/><circle cx="1235.4" cy="141.9" r="3.9"/><circle cx="1230.1" cy="165.5" r="3.9"/><circle cx="1227.9" cy="145.8" r="3.9"/><circle cx="1225.5" cy="145.8" r="3.9"/><circle cx="1239.2" cy="130.1" r="3.9"/><circle cx="1235.6" cy="102.5" r="3.9"/><circle cx="1228.4" cy="165.5" r="3.9"/><circle cx="1226.4" cy="157.6" r="3.9"/><circle cx="1234.0" cy="149.7" r="3.9"/><circle cx="1234.2" cy="145.8" r="3.9"/><circle cx="1230.3" cy="122.2" r="3.9"/><circle cx="1226.5" cy="141.9" r="3.9"/><circle cx="1233.8" cy="102.5" r="3.9"/><circle cx="1230.8" cy="114.3" r="3.9"/><circle cx="1238.0" cy="110.4" r="3.9"/><circle cx="1239.0" cy="130.1" r="3.9"/><circle cx="1237.6" cy="126.1" r="3.9"/><circle cx="1229.9" cy="130.1" r="3.9"/><circle cx="1231.9" cy="161.5" r="3.9"/><circle cx="1237.7" cy="134.0" r="3.9"/><circle cx="1231.3" cy="118.3" r="3.9"/><circle cx="1236.0" cy="126.1" r="3.9"/><circle cx="1228.8" cy="106.5" r="3.9"/><circle cx="1226.8" cy="126.1" r="3.9"/><circle cx="1226.4" cy="130.1" r="3.9"/><circle cx="1226.3" cy="114.3" r="3.9"/><circle cx="1236.4" cy="114.3" r="3.9"/><circle cx="1236.9" cy="134.0" r="3.9"/><circle cx="1232.1" cy="102.5" r="3.9"/><circle cx="1234.9" cy="169.4" r="3.9"/><circle cx="1228.4" cy="145.8" r="3.9"/><circle cx="1229.1" cy="137.9" r="3.9"/><circle cx="1233.7" cy="145.8" r="3.9"/><circle cx="1232.9" cy="106.5" r="3.9"/><circle cx="1232.5" cy="118.3" r="3.9"/><circle cx="1238.1" cy="157.6" r="3.9"/><circle cx="1238.2" cy="122.2" r="3.9"/><circle cx="1228.0" cy="177.3" r="3.9"/><circle cx="1226.8" cy="165.5" r="3.9"/><circle cx="1236.5" cy="177.3" r="3.9"/><circle cx="1226.9" cy="145.8" r="3.9"/><circle cx="1228.8" cy="122.2" r="3.9"/><circle cx="1226.6" cy="137.9" r="3.9"/><circle cx="1233.9" cy="153.7" r="3.9"/><circle cx="1239.1" cy="153.7" r="3.9"/><circle cx="1235.4" cy="130.1" r="3.9"/><circle cx="1229.8" cy="157.6" r="3.9"/><circle cx="1238.3" cy="145.8" r="3.9"/><circle cx="1239.3" cy="177.3" r="3.9"/><circle cx="1228.6" cy="137.9" r="3.9"/><circle cx="1238.9" cy="157.6" r="3.9"/><circle cx="1227.8" cy="165.5" r="3.9"/><circle cx="1229.4" cy="161.5" r="3.9"/><circle cx="1237.4" cy="165.5" r="3.9"/><circle cx="1232.6" cy="153.7" r="3.9"/><circle cx="1227.7" cy="118.3" r="3.9"/><circle cx="1230.6" cy="126.1" r="3.9"/><circle cx="1232.1" cy="122.2" r="3.9"/><circle cx="1227.0" cy="118.3" r="3.9"/><circle cx="1231.5" cy="157.6" r="3.9"/><circle cx="1237.9" cy="130.1" r="3.9"/><circle cx="1224.7" cy="110.4" r="3.9"/><circle cx="1234.8" cy="157.6" r="3.9"/><circle cx="1226.6" cy="145.8" r="3.9"/><circle cx="1227.5" cy="141.9" r="3.9"/><circle cx="1236.2" cy="157.6" r="3.9"/><circle cx="1238.2" cy="149.7" r="3.9"/><circle cx="1228.8" cy="165.5" r="3.9"/><circle cx="1229.1" cy="173.3" r="3.9"/><circle cx="1233.9" cy="157.6" r="3.9"/><circle cx="1236.1" cy="153.7" r="3.9"/><circle cx="1224.3" cy="193.5" r="3.9"/><circle cx="1236.3" cy="189.3" r="3.9"/><circle cx="1238.6" cy="193.5" r="3.9"/><circle cx="1223.5" cy="200.3" r="3.9"/><circle cx="1236.3" cy="197.2" r="3.9"/><circle cx="1231.8" cy="209.0" r="3.9"/>
</g>
<g fill="#7570b3">
<circle cx="1328.9" cy="122.2" r="3.9"/><circle cx="1330.4" cy="118.3" r="3.9"/><circle cx="1321.8" cy="106.5" r="3.9"/><circle cx="1321.8" cy="173.3" r="3.9"/><circle cx="1318.6" cy="161.5" r="3.9"/><circle cx="1322.4" cy="177.3" r="3.9"/><circle cx="1331.2" cy="98.6" r="3.9"/><circle cx="1328.1" cy="130.1" r="3.9"/><circle cx="1323.6" cy="145.8" r="3.9"/><circle cx="1323.9" cy="130.1" r="3.9"/><circle cx="1331.8" cy="122.2" r="3.9"/><circle cx="1317.7" cy="114.3" r="3.9"/><circle cx="1329.1" cy="153.7" r="3.9"/><circle cx="1316.3" cy="145.8" r="3.9"/><circle cx="1317.2" cy="130.1" r="3.9"/><circle cx="1322.2" cy="141.9" r="3.9"/><circle cx="1329.1" cy="106.5" r="3.9"/><circle cx="1325.3" cy="169.4" r="3.9"/><circle cx="1327.0" cy="102.5" r="3.9"/><circle cx="1329.3" cy="118.3" r="3.9"/><circle cx="1325.6" cy="130.1" r="3.9"/><circle cx="1325.0" cy="126.1" r="3.9"/><circle cx="1328.7" cy="173.3" r="3.9"/><circle cx="1325.5" cy="157.6" r="3.9"/><circle cx="1324.1" cy="137.9" r="3.9"/><circle cx="1316.4" cy="153.7" r="3.9"/><circle cx="1317.1" cy="122.2" r="3.9"/><circle cx="1319.3" cy="161.5" r="3.9"/><circle cx="1321.2" cy="153.7" r="3.9"/><circle cx="1327.9" cy="145.8" r="3.9"/><circle cx="1328.8" cy="110.4" r="3.9"/><circle cx="1322.4" cy="173.3" r="3.9"/><circle cx="1318.9" cy="102.5" r="3.9"/><circle cx="1325.3" cy="122.2" r="3.9"/><circle cx="1324.5" cy="106.5" r="3.9"/><circle cx="1329.5" cy="110.4" r="3.9"/><circle cx="1329.2" cy="114.3" r="3.9"/><circle cx="1329.4" cy="114.3" r="3.9"/><circle cx="1328.7" cy="106.5" r="3.9"/><circle cx="1331.2" cy="149.7" r="3.9"/><circle cx="1330.6" cy="122.2" r="3.9"/><circle cx="1326.9" cy="122.2" r="3.9"/><circle cx="1319.7" cy="165.5" r="3.9"/><circle cx="1329.8" cy="118.3" r="3.9"/><circle cx="1320.1" cy="161.5" r="3.9"/><circle cx="1330.5" cy="110.4" r="3.9"/><circle cx="1317.6" cy="110.4" r="3.9"/><circle cx="1326.4" cy="153.7" r="3.9"/><circle cx="1328.8" cy="98.6" r="3.9"/><circle cx="1324.1" cy="157.6" r="3.9"/><circle cx="1320.7" cy="153.7" r="3.9"/><circle cx="1319.6" cy="118.3" r="3.9"/><circle cx="1326.2" cy="122.2" r="3.9"/><circle cx="1317.4" cy="169.4" r="3.9"/><circle cx="1318.5" cy="137.9" r="3.9"/><circle cx="1323.4" cy="134.0" r="3.9"/><circle cx="1329.8" cy="130.1" r="3.9"/><circle cx="1327.7" cy="126.1" r="3.9"/><circle cx="1320.0" cy="173.3" r="3.9"/><circle cx="1323.1" cy="137.9" r="3.9"/><circle cx="1327.9" cy="173.3" r="3.9"/><circle cx="1318.2" cy="137.9" r="3.9"/><circle cx="1327.2" cy="173.3" r="3.9"/><circle cx="1316.5" cy="130.1" r="3.9"/><circle cx="1321.0" cy="165.5" r="3.9"/><circle cx="1328.3" cy="134.0" r="3.9"/><circle cx="1325.4" cy="114.3" r="3.9"/><circle cx="1323.8" cy="169.4" r="3.9"/><circle cx="1324.2" cy="126.1" r="3.9"/><circle cx="1318.8" cy="130.1" r="3.9"/><circle cx="1323.0" cy="173.3" r="3.9"/><circle cx="1323.7" cy="130.1" r="3.9"/><circle cx="1324.7" cy="134.0" r="3.9"/><circle cx="1321.7" cy="114.3" r="3.9"/><circle cx="1319.5" cy="161.5" r="3.9"/><circle cx="1323.6" cy="161.5" r="3.9"/><circle cx="1323.3" cy="165.5" r="3.9"/><circle cx="1323.6" cy="149.7" r="3.9"/><circle cx="1326.4" cy="98.6" r="3.9"/><circle cx="1319.1" cy="118.3" r="3.9"/><circle cx="1323.5" cy="110.4" r="3.9"/><circle cx="1322.1" cy="145.8" r="3.9"/><circle cx="1329.8" cy="106.5" r="3.9"/><circle cx="1320.4" cy="161.5" r="3.9"/><circle cx="1321.0" cy="114.3" r="3.9"/><circle cx="1331.0" cy="145.8" r="3.9"/><circle cx="1316.3" cy="126.1" r="3.9"/><circle cx="1321.0" cy="130.1" r="3.9"/><circle cx="1325.0" cy="114.3" r="3.9"/><circle cx="1327.7" cy="157.6" r="3.9"/><circle cx="1320.3" cy="114.3" r="3.9"/><circle cx="1326.0" cy="153.7" r="3.9"/><circle cx="1326.3" cy="134.0" r="3.9"/><circle cx="1327.9" cy="114.3" r="3.9"/><circle cx="1317.7" cy="114.3" r="3.9"/><circle cx="1325.1" cy="126.1" r="3.9"/><circle cx="1318.1" cy="110.4" r="3.9"/><circle cx="1319.9" cy="157.6" r="3.9"/><circle cx="1320.1" cy="153.7" r="3.9"/><circle cx="1316.3" cy="173.3" r="3.9"/><circle cx="1322.9" cy="122.2" r="3.9"/><circle cx="1320.4" cy="122.2" r="3.9"/><circle cx="1318.1" cy="114.3" r="3.9"/><circle cx="1323.4" cy="110.4" r="3.9"/><circle cx="1327.5" cy="122.2" r="3.9"/><circle cx="1328.5" cy="126.1" r="3.9"/><circle cx="1318.1" cy="141.9" r="3.9"/><circle cx="1317.3" cy="169.4" r="3.9"/><circle cx="1316.6" cy="173.3" r="3.9"/><circle cx="1329.1" cy="153.7" r="3.9"/><circle cx="1319.1" cy="126.1" r="3.9"/><circle cx="1316.8" cy="110.4" r="3.9"/><circle cx="1324.6" cy="118.3" r="3.9"/><circle cx="1317.7" cy="110.4" r="3.9"/><circle cx="1318.1" cy="149.7" r="3.9"/><circle cx="1323.7" cy="114.3" r="3.9"/><circle cx="1324.6" cy="161.5" r="3.9"/><circle cx="1318.1" cy="106.5" r="3.9"/><circle cx="1320.6" cy="161.5" r="3.9"/><circle cx="1322.9" cy="98.6" r="3.9"/><circle cx="1323.8" cy="122.2" r="3.9"/><circle cx="1327.2" cy="102.5" r="3.9"/><circle cx="1330.7" cy="130.1" r="3.9"/><circle cx="1316.4" cy="157.6" r="3.9"/><circle cx="1328.2" cy="165.5" r="3.9"/><circle cx="1332.0" cy="118.3" r="3.9"/><circle cx="1329.6" cy="157.6" r="3.9"/><circle cx="1318.2" cy="153.7" r="3.9"/><circle cx="1316.2" cy="130.1" r="3.9"/><circle cx="1329.8" cy="106.5" r="3.9"/><circle cx="1323.8" cy="137.9" r="3.9"/><circle cx="1323.2" cy="130.1" r="3.9"/><circle cx="1329.8" cy="149.7" r="3.9"/><circle cx="1321.2" cy="114.3" r="3.9"/><circle cx="1331.0" cy="106.5" r="3.9"/><circle cx="1326.6" cy="137.9" r="3.9"/><circle cx="1320.7" cy="157.6" r="3.9"/><circle cx="1325.1" cy="157.6" r="3.9"/><circle cx="1327.7" cy="161.5" r="3.9"/><circle cx="1317.8" cy="161.5" r="3.9"/><circle cx="1328.2" cy="114.3" r="3.9"/><circle cx="1324.0" cy="149.7" r="3.9"/><circle cx="1325.8" cy="141.9" r="3.9"/><circle cx="1323.7" cy="149.7" r="3.9"/><circle cx="1318.1" cy="157.6" r="3.9"/><circle cx="1324.8" cy="130.1" r="3.9"/><circle cx="1321.9" cy="126.1" r="3.9"/><circle cx="1326.1" cy="177.3" r="3.9"/><circle cx="1321.8" cy="130.1" r="3.9"/><circle cx="1331.1" cy="118.3" r="3.9"/>
</g>
<g stroke="#333" fill="none">
<line x1="1370.2" y1="106.6" x2="1370.2" y2="149.5" stroke-width="2.0"/>
<line x1="1370.2" y1="185.5" x2="1370.2" y2="228.4" stroke-width="2.0"/>
<line x1="1365.4" y1="106.6" x2="1375.0" y2="106.6" stroke-width="2.3"/>
<line x1="1365.4" y1="228.4" x2="1375.0" y2="228.4" stroke-width="2.3"/>
<rect x="1360.6" y="149.8" width="19.1" height="35.4" fill="#1b9e77" stroke-width="2.0"/>
<line x1="1360.6" y1="169.2" x2="1379.7" y2="169.2" stroke-width="3.9"/>
</g>
<g stroke="#333" fill="none">
<line x1="1406.9" y1="102.6" x2="1406.9" y2="125.8" stroke-width="2.0"/>
<line x1="1406.9" y1="158.2" x2="1406.9" y2="201.3" stroke-width="2.0"/>
<line x1="1402.1" y1="102.6" x2="1411.7" y2="102.6" stroke-width="2.3"/>
<line x1="1402.1" y1="201.3" x2="1411.7" y2="201.3" stroke-width="2.3"/>
<rect x="1397.4" y="126.1" width="19.1" height="31.8" fill="#d95f02" stroke-width="2.0"/>
<line x1="1397.4" y1="142.1" x2="1416.5" y2="142.1" stroke-width="3.9"/>
</g>
<g stroke="#333" fill="none">
<line x1="1443.8" y1="98.7" x2="1443.8" y2="114.0" stroke-width="2.0"/>
<line x1="1443.8" y1="150.3" x2="1443.8" y2="177.1" stroke-width="2.0"/>
<line x1="1439.0" y1="98.7" x2="1448.6" y2="98.7" stroke-width="2.3"/>
<line x1="1439.0" y1="177.1" x2="1448.6" y2="177.1" stroke-width="2.3"/>
<rect x="1434.3" y="114.3" width="19.1" height="35.7" fill="#7570b3" stroke-width="2.0"/>
<line x1="1434.3" y1="125.8" x2="1453.4" y2="125.8" stroke-width="3.9"/>
</g>
<path d="M1480.7 92.0 C1481.0 93.1 1481.7 96.2 1482.4 98.8 C1483.1 101.4 1484.0 104.6 1485.0 107.5 C1486.0 110.4 1487.2 113.4 1488.5 116.3 C1489.8 119.2 1491.3 122.5 1492.9 125.1 C1494.5 127.7 1496.7 129.9 1498.2 132.1 C1499.7 134.3 1500.8 136.1 1501.7 138.2 C1502.6 140.2 1502.8 142.2 1503.4 144.4 C1504.0 146.6 1504.5 149.3 1505.2 151.4 C1505.9 153.5 1506.5 155.9 1507.8 157.2 C1509.1 158.5 1511.2 158.1 1513.1 159.2 C1515.0 160.3 1517.7 162.3 1519.1 164.0 C1520.5 165.7 1521.3 167.4 1521.6 169.1 C1521.9 170.8 1521.7 172.4 1521.1 174.1 C1520.5 175.8 1519.6 177.4 1518.1 179.1 C1516.6 180.8 1514.3 182.3 1512.1 184.1 C1509.9 185.9 1507.3 188.1 1505.1 190.1 C1502.9 192.1 1500.7 194.1 1499.0 196.1 C1497.3 198.1 1496.0 200.1 1495.0 202.1 C1494.0 204.1 1493.6 206.1 1493.0 208.1 C1492.4 210.1 1491.9 212.0 1491.5 214.0 C1491.1 216.0 1491.4 218.0 1490.8 220.2 C1490.2 222.4 1488.7 225.0 1487.7 227.2 C1486.7 229.4 1485.5 231.3 1484.6 233.4 C1483.7 235.5 1482.8 237.5 1482.2 239.7 C1481.6 241.9 1481.3 244.0 1481.1 246.7 C1480.8 249.4 1480.8 254.4 1480.7 256.0 Z" fill="#1b9e77" fill-opacity="0.5" stroke="#111" stroke-width="1.8" stroke-linejoin="round"/>
<path d="M1480.7 86.0 C1481.1 87.1 1482.0 90.3 1483.3 92.6 C1484.6 94.9 1486.5 97.4 1488.5 99.6 C1490.5 101.8 1493.2 103.9 1495.5 105.8 C1497.8 107.7 1500.4 109.5 1502.6 111.1 C1504.8 112.7 1507.0 114.0 1508.7 115.4 C1510.5 116.9 1512.1 118.2 1513.1 119.8 C1514.1 121.4 1514.3 123.5 1514.8 125.1 C1515.3 126.6 1515.2 127.6 1515.9 129.1 C1516.6 130.6 1517.9 132.4 1519.1 134.1 C1520.3 135.8 1522.0 137.4 1523.1 139.1 C1524.2 140.8 1525.2 142.9 1525.6 144.1 C1526.0 145.3 1525.7 145.7 1525.4 146.5 C1525.2 147.3 1525.1 147.9 1524.1 149.0 C1523.0 150.1 1520.9 151.5 1519.1 153.0 C1517.3 154.5 1515.1 156.5 1513.1 158.0 C1511.1 159.5 1509.2 160.3 1507.0 162.0 C1504.8 163.7 1502.3 165.7 1500.0 168.0 C1497.7 170.3 1495.0 173.5 1493.0 176.0 C1491.0 178.5 1489.0 180.7 1488.0 183.0 C1487.0 185.3 1487.5 187.5 1487.0 190.0 C1486.5 192.5 1485.8 195.0 1485.0 198.0 C1484.2 201.0 1482.7 205.3 1482.0 208.0 C1481.3 210.7 1481.2 211.7 1481.0 214.0 C1480.8 216.3 1480.8 220.7 1480.7 222.0 Z" fill="#d95f02" fill-opacity="0.5" stroke="#111" stroke-width="1.8" stroke-linejoin="round"/>
<path d="M1480.7 75.5 C1480.7 76.8 1480.4 80.9 1480.8 83.0 C1481.2 85.1 1481.8 86.5 1483.0 88.0 C1484.2 89.5 1485.8 90.7 1488.0 92.0 C1490.2 93.3 1493.2 94.7 1496.0 96.0 C1498.8 97.3 1502.0 98.5 1505.0 100.0 C1508.0 101.5 1511.4 103.4 1514.1 105.1 C1516.8 106.8 1519.1 108.4 1521.1 110.1 C1523.1 111.8 1525.2 113.6 1526.1 115.1 C1527.0 116.6 1526.9 117.6 1526.6 119.1 C1526.3 120.6 1525.3 122.8 1524.1 124.1 C1522.8 125.4 1520.4 126.3 1519.1 127.1 C1517.8 127.9 1517.5 128.1 1516.1 129.1 C1514.7 130.1 1511.9 131.6 1510.5 133.0 C1509.1 134.4 1508.4 135.8 1507.8 137.4 C1507.2 139.0 1506.9 140.6 1506.9 142.6 C1506.9 144.6 1507.5 147.4 1507.8 149.6 C1508.1 151.8 1508.7 154.2 1508.7 155.8 C1508.7 157.4 1508.8 157.8 1508.0 159.0 C1507.2 160.2 1505.5 161.2 1504.0 163.0 C1502.5 164.8 1501.2 167.5 1499.0 170.0 C1496.8 172.5 1493.5 175.5 1491.0 178.0 C1488.5 180.5 1485.7 183.2 1484.0 185.0 C1482.3 186.8 1481.5 187.3 1481.0 189.0 C1480.5 190.7 1480.8 194.0 1480.7 195.0 Z" fill="#7570b3" fill-opacity="0.5" stroke="#111" stroke-width="1.8" stroke-linejoin="round"/>
</g>
<g>
<line x1="87.5" y1="494.1" x2="87.5" y2="730.0" stroke="#bdbdbd" stroke-width="1.4"/>
<line x1="78.5" y1="494.1" x2="87.5" y2="494.1" stroke="#7a7a7a" stroke-width="1.7"/>
<text x="38.30" y="500.51" font-family="'Noto Sans CJK SC', 'Liberation Sans', sans-serif" font-weight="400" font-size="17.80" textLength="33.19" lengthAdjust="spacingAndGlyphs" fill="#111">800</text>
<line x1="78.5" y1="527.8" x2="87.5" y2="527.8" stroke="#7a7a7a" stroke-width="1.7"/>
<text x="38.30" y="534.21" font-family="'Noto Sans CJK SC', 'Liberation Sans', sans-serif" font-weight="400" font-size="17.80" textLength="33.19" lengthAdjust="spacingAndGlyphs" fill="#111">700</text>
<line x1="78.5" y1="561.5" x2="87.5" y2="561.5" stroke="#7a7a7a" stroke-width="1.7"/>
<text x="38.30" y="567.91" font-family="'Noto Sans CJK SC', 'Liberation Sans', sans-serif" font-weight="400" font-size="17.80" textLength="33.19" lengthAdjust="spacingAndGlyphs" fill="#111">600</text>
<line x1="78.5" y1="595.2" x2="87.5" y2="595.2" stroke="#7a7a7a" stroke-width="1.7"/>
<text x="38.30" y="601.61" font-family="'Noto Sans CJK SC', 'Liberation Sans', sans-serif" font-weight="400" font-size="17.80" textLength="33.19" lengthAdjust="spacingAndGlyphs" fill="#111">500</text>
<line x1="78.5" y1="628.9" x2="87.5" y2="628.9" stroke="#7a7a7a" stroke-width="1.7"/>
<text x="38.30" y="635.31" font-family="'Noto Sans CJK SC', 'Liberation Sans', sans-serif" font-weight="400" font-size="17.80" textLength="33.19" lengthAdjust="spacingAndGlyphs" fill="#111">400</text>
<line x1="78.5" y1="662.6" x2="87.5" y2="662.6" stroke="#7a7a7a" stroke-width="1.7"/>
<text x="38.30" y="669.01" font-family="'Noto Sans CJK SC', 'Liberation Sans', sans-serif" font-weight="400" font-size="17.80" textLength="33.19" lengthAdjust="spacingAndGlyphs" fill="#111">300</text>
<line x1="78.5" y1="696.3" x2="87.5" y2="696.3" stroke="#7a7a7a" stroke-width="1.7"/>
<text x="38.30" y="702.71" font-family="'Noto Sans CJK SC', 'Liberation Sans', sans-serif" font-weight="400" font-size="17.80" textLength="33.19" lengthAdjust="spacingAndGlyphs" fill="#111">200</text>
<line x1="78.5" y1="730.0" x2="87.5" y2="730.0" stroke="#7a7a7a" stroke-width="1.7"/>
<text x="38.30" y="736.41" font-family="'Noto Sans CJK SC', 'Liberation Sans', sans-serif" font-weight="400" font-size="17.80" textLength="33.19" lengthAdjust="spacingAndGlyphs" fill="#111">100</text>
<text transform="translate(19.00 670.98) rotate(-90)" x="0" y="0" font-family="'Noto Sans CJK SC', 'Liberation Sans', sans-serif" font-weight="500" font-size="18.00" textLength="117.27" lengthAdjust="spacingAndGlyphs" fill="#111">R/H (Ohm/m)</text>
<line x1="114.7" y1="741.9" x2="289.5" y2="741.9" stroke="#b5b5b5" stroke-width="1.4"/>
<line x1="114.7" y1="741.9" x2="114.7" y2="750.5" stroke="#7a7a7a" stroke-width="1.7"/>
<line x1="202.0" y1="741.9" x2="202.0" y2="750.5" stroke="#7a7a7a" stroke-width="1.7"/>
<line x1="289.5" y1="741.9" x2="289.5" y2="750.5" stroke="#7a7a7a" stroke-width="1.7"/>
<text x="103.11" y="789.10" font-family="NanumGothic, 'Liberation Sans', sans-serif" font-weight="700" font-size="17.90" textLength="22.38" lengthAdjust="spacingAndGlyphs" fill="#111">T1</text>
<text x="190.93" y="789.10" font-family="NanumGothic, 'Liberation Sans', sans-serif" font-weight="700" font-size="17.90" textLength="21.36" lengthAdjust="spacingAndGlyphs" fill="#111">T2</text>
<text x="278.93" y="788.92" font-family="NanumGothic, 'Liberation Sans', sans-serif" font-weight="700" font-size="17.90" textLength="21.16" lengthAdjust="spacingAndGlyphs" fill="#111">T3</text>
<path d="M103.8 489.0 V483.5 H307.5 V489.0" fill="none" stroke="#000" stroke-width="2.1" stroke-linejoin="round"/>
<text x="193.21" y="480.83" font-family="'Noto Sans CJK SC', 'Liberation Sans', sans-serif" font-weight="700" font-size="16.50" textLength="23.99" lengthAdjust="spacingAndGlyphs" fill="#000">***</text>
<path d="M103.8 517.9 V512.3 H203.2 V517.9" fill="none" stroke="#000" stroke-width="2.1" stroke-linejoin="round"/>
<text x="139.51" y="511.23" font-family="'Noto Sans CJK SC', 'Liberation Sans', sans-serif" font-weight="700" font-size="16.50" textLength="23.99" lengthAdjust="spacingAndGlyphs" fill="#000">***</text>
<path d="M208.6 517.9 V512.3 H307.5 V517.9" fill="none" stroke="#000" stroke-width="2.1" stroke-linejoin="round"/>
<text x="247.01" y="510.93" font-family="'Noto Sans CJK SC', 'Liberation Sans', sans-serif" font-weight="700" font-size="16.50" textLength="23.99" lengthAdjust="spacingAndGlyphs" fill="#000">***</text>
<g fill="#1b9e77">
<circle cx="108.2" cy="612.9" r="3.9"/><circle cx="111.2" cy="651.4" r="3.9"/><circle cx="120.1" cy="611.0" r="3.9"/><circle cx="120.3" cy="624.6" r="3.9"/><circle cx="109.2" cy="649.5" r="3.9"/><circle cx="118.9" cy="632.4" r="3.9"/><circle cx="119.1" cy="623.9" r="3.9"/><circle cx="117.7" cy="599.2" r="3.9"/><circle cx="122.5" cy="624.8" r="3.9"/><circle cx="113.9" cy="633.9" r="3.9"/><circle cx="119.1" cy="610.6" r="3.9"/><circle cx="116.6" cy="602.6" r="3.9"/><circle cx="112.7" cy="606.4" r="3.9"/><circle cx="112.5" cy="654.6" r="3.9"/><circle cx="117.3" cy="633.2" r="3.9"/><circle cx="108.9" cy="635.2" r="3.9"/><circle cx="117.2" cy="630.3" r="3.9"/><circle cx="116.3" cy="651.9" r="3.9"/><circle cx="109.8" cy="612.3" r="3.9"/><circle cx="110.9" cy="605.3" r="3.9"/><circle cx="113.7" cy="615.9" r="3.9"/><circle cx="122.0" cy="624.9" r="3.9"/><circle cx="111.1" cy="621.8" r="3.9"/><circle cx="121.7" cy="619.0" r="3.9"/><circle cx="114.6" cy="617.6" r="3.9"/><circle cx="112.5" cy="628.2" r="3.9"/><circle cx="118.8" cy="638.0" r="3.9"/><circle cx="110.4" cy="622.3" r="3.9"/><circle cx="112.4" cy="646.9" r="3.9"/><circle cx="112.9" cy="610.6" r="3.9"/><circle cx="118.3" cy="644.9" r="3.9"/><circle cx="109.3" cy="650.9" r="3.9"/><circle cx="116.7" cy="628.3" r="3.9"/><circle cx="123.1" cy="642.5" r="3.9"/><circle cx="109.2" cy="611.1" r="3.9"/><circle cx="120.3" cy="613.7" r="3.9"/><circle cx="116.9" cy="656.8" r="3.9"/><circle cx="123.2" cy="612.7" r="3.9"/><circle cx="112.9" cy="597.6" r="3.9"/><circle cx="117.9" cy="610.5" r="3.9"/><circle cx="108.7" cy="627.2" r="3.9"/><circle cx="119.1" cy="625.0" r="3.9"/><circle cx="120.0" cy="651.4" r="3.9"/><circle cx="115.6" cy="596.0" r="3.9"/><circle cx="120.8" cy="644.3" r="3.9"/><circle cx="120.2" cy="638.5" r="3.9"/><circle cx="112.2" cy="620.7" r="3.9"/><circle cx="109.7" cy="603.3" r="3.9"/><circle cx="116.1" cy="619.2" r="3.9"/><circle cx="108.3" cy="620.4" r="3.9"/><circle cx="121.3" cy="615.7" r="3.9"/><circle cx="115.6" cy="653.1" r="3.9"/><circle cx="109.0" cy="644.7" r="3.9"/><circle cx="108.7" cy="615.2" r="3.9"/><circle cx="120.2" cy="639.5" r="3.9"/><circle cx="119.0" cy="650.6" r="3.9"/><circle cx="109.4" cy="638.7" r="3.9"/><circle cx="119.4" cy="616.4" r="3.9"/><circle cx="119.6" cy="620.4" r="3.9"/><circle cx="121.7" cy="630.0" r="3.9"/><circle cx="110.3" cy="645.5" r="3.9"/><circle cx="115.9" cy="628.3" r="3.9"/><circle cx="108.4" cy="620.8" r="3.9"/><circle cx="117.6" cy="653.1" r="3.9"/><circle cx="118.5" cy="635.4" r="3.9"/><circle cx="111.2" cy="653.8" r="3.9"/><circle cx="113.5" cy="651.9" r="3.9"/><circle cx="120.0" cy="625.2" r="3.9"/><circle cx="115.0" cy="637.9" r="3.9"/><circle cx="120.4" cy="638.2" r="3.9"/><circle cx="107.0" cy="628.3" r="3.9"/><circle cx="114.9" cy="651.6" r="3.9"/><circle cx="118.4" cy="648.6" r="3.9"/><circle cx="108.1" cy="635.9" r="3.9"/><circle cx="114.4" cy="630.9" r="3.9"/><circle cx="120.6" cy="599.8" r="3.9"/><circle cx="117.0" cy="630.2" r="3.9"/><circle cx="122.8" cy="616.8" r="3.9"/><circle cx="108.2" cy="640.9" r="3.9"/><circle cx="114.3" cy="602.7" r="3.9"/><circle cx="119.7" cy="657.3" r="3.9"/><circle cx="111.8" cy="608.9" r="3.9"/><circle cx="116.9" cy="637.5" r="3.9"/><circle cx="118.4" cy="613.8" r="3.9"/><circle cx="111.7" cy="640.1" r="3.9"/><circle cx="121.4" cy="606.6" r="3.9"/><circle cx="114.9" cy="648.9" r="3.9"/><circle cx="113.0" cy="657.2" r="3.9"/><circle cx="108.9" cy="617.0" r="3.9"/><circle cx="123.0" cy="615.7" r="3.9"/><circle cx="107.9" cy="632.2" r="3.9"/><circle cx="123.4" cy="629.2" r="3.9"/><circle cx="113.1" cy="611.5" r="3.9"/><circle cx="122.8" cy="631.4" r="3.9"/><circle cx="111.1" cy="611.0" r="3.9"/><circle cx="108.4" cy="639.7" r="3.9"/><circle cx="123.5" cy="616.9" r="3.9"/><circle cx="115.2" cy="656.2" r="3.9"/><circle cx="120.9" cy="641.1" r="3.9"/><circle cx="121.1" cy="620.7" r="3.9"/><circle cx="107.9" cy="607.5" r="3.9"/><circle cx="109.3" cy="628.8" r="3.9"/><circle cx="113.7" cy="653.2" r="3.9"/><circle cx="108.4" cy="632.3" r="3.9"/><circle cx="120.4" cy="640.0" r="3.9"/><circle cx="110.1" cy="649.4" r="3.9"/><circle cx="115.2" cy="595.2" r="3.9"/><circle cx="110.9" cy="617.9" r="3.9"/><circle cx="110.4" cy="632.1" r="3.9"/><circle cx="109.5" cy="599.6" r="3.9"/><circle cx="109.8" cy="615.4" r="3.9"/><circle cx="112.3" cy="620.3" r="3.9"/><circle cx="117.2" cy="645.3" r="3.9"/><circle cx="108.6" cy="623.5" r="3.9"/><circle cx="113.1" cy="642.1" r="3.9"/><circle cx="119.5" cy="603.0" r="3.9"/><circle cx="117.1" cy="624.8" r="3.9"/><circle cx="116.1" cy="621.6" r="3.9"/><circle cx="115.9" cy="651.6" r="3.9"/><circle cx="119.2" cy="615.6" r="3.9"/><circle cx="123.4" cy="610.5" r="3.9"/><circle cx="114.2" cy="619.6" r="3.9"/><circle cx="110.3" cy="636.1" r="3.9"/><circle cx="108.1" cy="616.7" r="3.9"/><circle cx="117.5" cy="614.2" r="3.9"/><circle cx="107.8" cy="653.7" r="3.9"/><circle cx="114.0" cy="607.7" r="3.9"/><circle cx="106.9" cy="629.2" r="3.9"/><circle cx="117.1" cy="626.5" r="3.9"/><circle cx="114.2" cy="619.6" r="3.9"/><circle cx="119.1" cy="657.5" r="3.9"/><circle cx="109.3" cy="641.4" r="3.9"/><circle cx="116.8" cy="597.1" r="3.9"/><circle cx="122.3" cy="634.8" r="3.9"/><circle cx="112.7" cy="628.5" r="3.9"/><circle cx="121.1" cy="599.1" r="3.9"/><circle cx="109.0" cy="646.4" r="3.9"/><circle cx="120.1" cy="640.8" r="3.9"/><circle cx="108.7" cy="645.0" r="3.9"/><circle cx="115.4" cy="648.2" r="3.9"/><circle cx="109.3" cy="609.7" r="3.9"/><circle cx="120.3" cy="621.1" r="3.9"/><circle cx="119.9" cy="631.6" r="3.9"/><circle cx="108.9" cy="653.5" r="3.9"/><circle cx="112.6" cy="642.4" r="3.9"/><circle cx="115.4" cy="603.0" r="3.9"/><circle cx="118.6" cy="616.2" r="3.9"/><circle cx="113.7" cy="641.5" r="3.9"/><circle cx="112.1" cy="630.7" r="3.9"/><circle cx="110.3" cy="641.1" r="3.9"/><circle cx="117.2" cy="640.6" r="3.9"/><circle cx="113.7" cy="609.2" r="3.9"/><circle cx="109.7" cy="634.9" r="3.9"/><circle cx="112.2" cy="611.6" r="3.9"/><circle cx="116.6" cy="629.0" r="3.9"/><circle cx="120.0" cy="635.2" r="3.9"/><circle cx="110.7" cy="645.0" r="3.9"/><circle cx="115.2" cy="636.5" r="3.9"/><circle cx="111.3" cy="607.8" r="3.9"/><circle cx="112.4" cy="615.4" r="3.9"/><circle cx="117.1" cy="596.1" r="3.9"/><circle cx="122.0" cy="626.1" r="3.9"/><circle cx="121.8" cy="623.8" r="3.9"/><circle cx="117.3" cy="637.5" r="3.9"/><circle cx="120.9" cy="618.8" r="3.9"/><circle cx="108.6" cy="649.6" r="3.9"/><circle cx="110.3" cy="643.5" r="3.9"/><circle cx="120.2" cy="649.3" r="3.9"/><circle cx="111.2" cy="619.0" r="3.9"/><circle cx="110.8" cy="631.2" r="3.9"/><circle cx="110.0" cy="619.0" r="3.9"/><circle cx="119.5" cy="635.2" r="3.9"/><circle cx="111.3" cy="608.1" r="3.9"/><circle cx="121.5" cy="604.2" r="3.9"/><circle cx="116.8" cy="636.4" r="3.9"/><circle cx="116.4" cy="628.4" r="3.9"/><circle cx="110.9" cy="632.9" r="3.9"/><circle cx="122.7" cy="632.1" r="3.9"/><circle cx="121.0" cy="619.9" r="3.9"/><circle cx="115.1" cy="657.4" r="3.9"/><circle cx="122.9" cy="640.2" r="3.9"/><circle cx="111.3" cy="656.3" r="3.9"/><circle cx="120.0" cy="630.8" r="3.9"/><circle cx="115.2" cy="608.8" r="3.9"/><circle cx="119.0" cy="621.9" r="3.9"/><circle cx="117.9" cy="657.5" r="3.9"/><circle cx="115.3" cy="611.6" r="3.9"/><circle cx="108.3" cy="614.4" r="3.9"/><circle cx="115.4" cy="605.7" r="3.9"/><circle cx="107.2" cy="628.4" r="3.9"/><circle cx="111.6" cy="630.3" r="3.9"/><circle cx="115.2" cy="617.1" r="3.9"/><circle cx="110.5" cy="645.2" r="3.9"/><circle cx="123.0" cy="618.2" r="3.9"/><circle cx="123.0" cy="622.7" r="3.9"/><circle cx="120.8" cy="635.5" r="3.9"/><circle cx="108.0" cy="628.7" r="3.9"/><circle cx="113.2" cy="612.8" r="3.9"/><circle cx="110.8" cy="612.3" r="3.9"/><circle cx="108.8" cy="640.0" r="3.9"/><circle cx="109.2" cy="600.0" r="3.9"/><circle cx="122.6" cy="600.0" r="3.9"/><circle cx="108.1" cy="640.0" r="3.9"/><circle cx="122.9" cy="640.0" r="3.9"/><circle cx="116.9" cy="539.6" r="3.9"/><circle cx="111.1" cy="551.1" r="3.9"/><circle cx="113.4" cy="565.1" r="3.9"/><circle cx="122.7" cy="566.8" r="3.9"/><circle cx="116.9" cy="573.9" r="3.9"/><circle cx="106.4" cy="577.4" r="3.9"/><circle cx="112.5" cy="580.0" r="3.9"/><circle cx="110.8" cy="587.0" r="3.9"/><circle cx="121.3" cy="586.1" r="3.9"/><circle cx="113.4" cy="662.5" r="3.9"/>
</g>
<g fill="#d95f02">
<circle cx="197.6" cy="661.3" r="3.9"/><circle cx="208.5" cy="642.1" r="3.9"/><circle cx="196.6" cy="645.9" r="3.9"/><circle cx="198.3" cy="641.3" r="3.9"/><circle cx="202.6" cy="662.8" r="3.9"/><circle cx="209.7" cy="647.6" r="3.9"/><circle cx="201.9" cy="625.9" r="3.9"/><circle cx="196.5" cy="646.3" r="3.9"/><circle cx="207.7" cy="652.9" r="3.9"/><circle cx="208.2" cy="663.7" r="3.9"/><circle cx="208.4" cy="630.4" r="3.9"/><circle cx="201.9" cy="661.2" r="3.9"/><circle cx="197.1" cy="643.1" r="3.9"/><circle cx="194.0" cy="631.5" r="3.9"/><circle cx="197.6" cy="638.5" r="3.9"/><circle cx="196.4" cy="660.7" r="3.9"/><circle cx="194.4" cy="635.2" r="3.9"/><circle cx="203.6" cy="643.0" r="3.9"/><circle cx="205.4" cy="639.6" r="3.9"/><circle cx="198.0" cy="623.7" r="3.9"/><circle cx="209.9" cy="648.9" r="3.9"/><circle cx="196.3" cy="647.1" r="3.9"/><circle cx="208.2" cy="647.6" r="3.9"/><circle cx="207.8" cy="623.3" r="3.9"/><circle cx="194.2" cy="645.3" r="3.9"/><circle cx="206.7" cy="647.5" r="3.9"/><circle cx="204.8" cy="643.1" r="3.9"/><circle cx="209.7" cy="656.7" r="3.9"/><circle cx="208.1" cy="646.2" r="3.9"/><circle cx="210.1" cy="635.8" r="3.9"/><circle cx="199.5" cy="649.0" r="3.9"/><circle cx="194.2" cy="640.9" r="3.9"/><circle cx="207.6" cy="642.6" r="3.9"/><circle cx="198.7" cy="640.7" r="3.9"/><circle cx="197.4" cy="630.3" r="3.9"/><circle cx="198.6" cy="655.2" r="3.9"/><circle cx="209.2" cy="658.7" r="3.9"/><circle cx="203.6" cy="619.1" r="3.9"/><circle cx="196.5" cy="634.3" r="3.9"/><circle cx="205.1" cy="635.7" r="3.9"/><circle cx="198.4" cy="646.4" r="3.9"/><circle cx="202.3" cy="619.4" r="3.9"/><circle cx="207.7" cy="663.0" r="3.9"/><circle cx="201.7" cy="640.7" r="3.9"/><circle cx="200.8" cy="663.6" r="3.9"/><circle cx="201.9" cy="627.5" r="3.9"/><circle cx="206.7" cy="641.1" r="3.9"/><circle cx="202.3" cy="647.0" r="3.9"/><circle cx="208.9" cy="647.2" r="3.9"/><circle cx="209.3" cy="644.4" r="3.9"/><circle cx="207.2" cy="660.1" r="3.9"/><circle cx="203.3" cy="652.2" r="3.9"/><circle cx="206.7" cy="664.4" r="3.9"/><circle cx="196.7" cy="623.0" r="3.9"/><circle cx="194.6" cy="634.0" r="3.9"/><circle cx="208.9" cy="649.9" r="3.9"/><circle cx="202.2" cy="644.3" r="3.9"/><circle cx="196.5" cy="621.8" r="3.9"/><circle cx="205.8" cy="641.9" r="3.9"/><circle cx="205.9" cy="640.3" r="3.9"/><circle cx="204.4" cy="629.0" r="3.9"/><circle cx="198.8" cy="630.9" r="3.9"/><circle cx="202.7" cy="648.1" r="3.9"/><circle cx="195.9" cy="626.8" r="3.9"/><circle cx="203.1" cy="633.0" r="3.9"/><circle cx="202.2" cy="642.8" r="3.9"/><circle cx="194.2" cy="636.6" r="3.9"/><circle cx="198.0" cy="662.2" r="3.9"/><circle cx="206.3" cy="649.6" r="3.9"/><circle cx="202.6" cy="630.9" r="3.9"/><circle cx="198.6" cy="654.8" r="3.9"/><circle cx="208.4" cy="637.9" r="3.9"/><circle cx="208.4" cy="651.3" r="3.9"/><circle cx="197.7" cy="643.9" r="3.9"/><circle cx="199.5" cy="661.9" r="3.9"/><circle cx="195.2" cy="643.0" r="3.9"/><circle cx="206.6" cy="642.3" r="3.9"/><circle cx="207.0" cy="620.4" r="3.9"/><circle cx="203.8" cy="621.2" r="3.9"/><circle cx="202.6" cy="636.8" r="3.9"/><circle cx="199.9" cy="660.2" r="3.9"/><circle cx="202.8" cy="618.3" r="3.9"/><circle cx="208.8" cy="649.8" r="3.9"/><circle cx="194.8" cy="627.4" r="3.9"/><circle cx="196.7" cy="645.2" r="3.9"/><circle cx="207.5" cy="654.9" r="3.9"/><circle cx="205.8" cy="656.4" r="3.9"/><circle cx="207.3" cy="644.6" r="3.9"/><circle cx="197.2" cy="648.5" r="3.9"/><circle cx="199.4" cy="621.6" r="3.9"/><circle cx="202.7" cy="636.8" r="3.9"/><circle cx="209.7" cy="648.6" r="3.9"/><circle cx="196.1" cy="631.4" r="3.9"/><circle cx="196.1" cy="638.9" r="3.9"/><circle cx="200.9" cy="654.7" r="3.9"/><circle cx="194.5" cy="635.0" r="3.9"/><circle cx="202.5" cy="632.5" r="3.9"/><circle cx="200.5" cy="631.6" r="3.9"/><circle cx="203.3" cy="652.4" r="3.9"/><circle cx="201.3" cy="652.9" r="3.9"/><circle cx="196.7" cy="622.0" r="3.9"/><circle cx="199.2" cy="626.8" r="3.9"/><circle cx="204.9" cy="650.8" r="3.9"/><circle cx="209.7" cy="639.4" r="3.9"/><circle cx="195.3" cy="636.1" r="3.9"/><circle cx="200.5" cy="655.6" r="3.9"/><circle cx="197.3" cy="636.0" r="3.9"/><circle cx="201.8" cy="624.1" r="3.9"/><circle cx="206.6" cy="664.5" r="3.9"/><circle cx="197.0" cy="663.9" r="3.9"/><circle cx="207.5" cy="624.2" r="3.9"/><circle cx="201.3" cy="647.9" r="3.9"/><circle cx="198.4" cy="638.6" r="3.9"/><circle cx="202.8" cy="623.8" r="3.9"/><circle cx="197.2" cy="631.4" r="3.9"/><circle cx="199.6" cy="649.5" r="3.9"/><circle cx="199.5" cy="657.8" r="3.9"/><circle cx="209.6" cy="642.1" r="3.9"/><circle cx="200.8" cy="636.9" r="3.9"/><circle cx="203.6" cy="642.5" r="3.9"/><circle cx="209.2" cy="634.8" r="3.9"/><circle cx="206.2" cy="644.8" r="3.9"/><circle cx="194.1" cy="625.8" r="3.9"/><circle cx="204.9" cy="647.8" r="3.9"/><circle cx="194.6" cy="641.7" r="3.9"/><circle cx="201.0" cy="658.6" r="3.9"/><circle cx="197.2" cy="621.5" r="3.9"/><circle cx="209.6" cy="648.0" r="3.9"/><circle cx="200.3" cy="632.3" r="3.9"/><circle cx="206.2" cy="661.5" r="3.9"/><circle cx="200.8" cy="665.1" r="3.9"/><circle cx="207.7" cy="658.0" r="3.9"/><circle cx="207.1" cy="657.0" r="3.9"/><circle cx="195.2" cy="622.6" r="3.9"/><circle cx="206.2" cy="660.9" r="3.9"/><circle cx="203.2" cy="650.9" r="3.9"/><circle cx="195.7" cy="640.4" r="3.9"/><circle cx="206.6" cy="651.6" r="3.9"/><circle cx="195.6" cy="644.3" r="3.9"/><circle cx="208.3" cy="644.2" r="3.9"/><circle cx="206.6" cy="626.8" r="3.9"/><circle cx="197.0" cy="641.3" r="3.9"/><circle cx="201.2" cy="634.2" r="3.9"/><circle cx="200.2" cy="632.6" r="3.9"/><circle cx="205.6" cy="638.3" r="3.9"/><circle cx="202.0" cy="635.5" r="3.9"/><circle cx="198.3" cy="618.4" r="3.9"/><circle cx="197.5" cy="644.5" r="3.9"/><circle cx="199.0" cy="659.4" r="3.9"/><circle cx="209.0" cy="642.8" r="3.9"/><circle cx="195.7" cy="639.5" r="3.9"/><circle cx="195.5" cy="643.2" r="3.9"/><circle cx="204.2" cy="644.6" r="3.9"/><circle cx="198.3" cy="662.2" r="3.9"/><circle cx="206.7" cy="626.9" r="3.9"/><circle cx="203.3" cy="640.7" r="3.9"/><circle cx="198.9" cy="654.2" r="3.9"/><circle cx="202.8" cy="648.0" r="3.9"/><circle cx="197.0" cy="619.7" r="3.9"/><circle cx="196.4" cy="619.6" r="3.9"/><circle cx="200.2" cy="654.6" r="3.9"/><circle cx="202.9" cy="661.5" r="3.9"/><circle cx="196.9" cy="626.1" r="3.9"/><circle cx="195.6" cy="645.8" r="3.9"/><circle cx="200.4" cy="629.5" r="3.9"/><circle cx="196.7" cy="653.1" r="3.9"/><circle cx="194.1" cy="632.5" r="3.9"/><circle cx="199.6" cy="648.7" r="3.9"/><circle cx="195.1" cy="641.1" r="3.9"/><circle cx="198.3" cy="642.7" r="3.9"/><circle cx="206.0" cy="635.6" r="3.9"/><circle cx="194.0" cy="631.0" r="3.9"/><circle cx="197.8" cy="663.4" r="3.9"/><circle cx="198.8" cy="643.2" r="3.9"/><circle cx="196.9" cy="662.2" r="3.9"/><circle cx="199.4" cy="657.8" r="3.9"/><circle cx="208.5" cy="652.6" r="3.9"/><circle cx="197.7" cy="621.3" r="3.9"/><circle cx="201.9" cy="657.0" r="3.9"/><circle cx="209.2" cy="661.9" r="3.9"/><circle cx="205.1" cy="664.6" r="3.9"/><circle cx="202.5" cy="650.6" r="3.9"/><circle cx="205.4" cy="659.1" r="3.9"/><circle cx="205.0" cy="642.7" r="3.9"/><circle cx="197.9" cy="627.9" r="3.9"/><circle cx="198.7" cy="656.8" r="3.9"/><circle cx="197.7" cy="623.0" r="3.9"/><circle cx="199.1" cy="664.6" r="3.9"/><circle cx="195.7" cy="652.5" r="3.9"/><circle cx="203.7" cy="658.5" r="3.9"/><circle cx="199.6" cy="651.6" r="3.9"/><circle cx="196.7" cy="654.0" r="3.9"/><circle cx="194.6" cy="629.6" r="3.9"/><circle cx="196.0" cy="639.8" r="3.9"/><circle cx="199.5" cy="654.4" r="3.9"/><circle cx="204.2" cy="644.3" r="3.9"/><circle cx="198.1" cy="636.7" r="3.9"/><circle cx="208.2" cy="633.3" r="3.9"/><circle cx="206.1" cy="623.1" r="3.9"/><circle cx="195.6" cy="655.7" r="3.9"/><circle cx="194.6" cy="620.0" r="3.9"/><circle cx="208.7" cy="620.0" r="3.9"/><circle cx="195.8" cy="660.0" r="3.9"/><circle cx="209.6" cy="660.0" r="3.9"/><circle cx="195.4" cy="599.4" r="3.9"/><circle cx="208.3" cy="612.1" r="3.9"/>
</g>
<g fill="#7570b3">
<circle cx="295.9" cy="655.0" r="3.9"/><circle cx="283.7" cy="644.1" r="3.9"/><circle cx="283.7" cy="679.7" r="3.9"/><circle cx="295.2" cy="649.0" r="3.9"/><circle cx="285.8" cy="687.8" r="3.9"/><circle cx="287.1" cy="669.2" r="3.9"/><circle cx="291.7" cy="632.1" r="3.9"/><circle cx="286.3" cy="679.3" r="3.9"/><circle cx="296.2" cy="677.8" r="3.9"/><circle cx="292.6" cy="640.2" r="3.9"/><circle cx="290.9" cy="635.5" r="3.9"/><circle cx="294.3" cy="640.9" r="3.9"/><circle cx="291.9" cy="666.0" r="3.9"/><circle cx="291.1" cy="630.2" r="3.9"/><circle cx="289.7" cy="658.7" r="3.9"/><circle cx="289.8" cy="673.8" r="3.9"/><circle cx="284.9" cy="681.0" r="3.9"/><circle cx="291.1" cy="658.3" r="3.9"/><circle cx="295.8" cy="655.2" r="3.9"/><circle cx="292.7" cy="658.7" r="3.9"/><circle cx="297.3" cy="648.6" r="3.9"/><circle cx="294.0" cy="676.8" r="3.9"/><circle cx="293.3" cy="652.4" r="3.9"/><circle cx="293.0" cy="682.5" r="3.9"/><circle cx="285.3" cy="637.4" r="3.9"/><circle cx="283.9" cy="647.7" r="3.9"/><circle cx="292.9" cy="667.4" r="3.9"/><circle cx="286.4" cy="673.7" r="3.9"/><circle cx="284.2" cy="642.9" r="3.9"/><circle cx="288.8" cy="687.1" r="3.9"/><circle cx="291.0" cy="631.2" r="3.9"/><circle cx="284.6" cy="677.4" r="3.9"/><circle cx="286.0" cy="684.1" r="3.9"/><circle cx="283.4" cy="650.3" r="3.9"/><circle cx="293.0" cy="647.5" r="3.9"/><circle cx="285.0" cy="658.2" r="3.9"/><circle cx="292.4" cy="674.4" r="3.9"/><circle cx="292.3" cy="667.2" r="3.9"/><circle cx="289.7" cy="658.7" r="3.9"/><circle cx="286.7" cy="647.4" r="3.9"/><circle cx="288.9" cy="673.3" r="3.9"/><circle cx="287.8" cy="673.1" r="3.9"/><circle cx="290.3" cy="636.9" r="3.9"/><circle cx="291.0" cy="667.4" r="3.9"/><circle cx="292.2" cy="651.8" r="3.9"/><circle cx="293.5" cy="673.8" r="3.9"/><circle cx="289.7" cy="634.8" r="3.9"/><circle cx="293.3" cy="663.9" r="3.9"/><circle cx="285.8" cy="672.0" r="3.9"/><circle cx="292.0" cy="656.9" r="3.9"/><circle cx="288.3" cy="627.2" r="3.9"/><circle cx="290.6" cy="670.8" r="3.9"/><circle cx="286.0" cy="626.4" r="3.9"/><circle cx="289.8" cy="677.1" r="3.9"/><circle cx="292.7" cy="659.3" r="3.9"/><circle cx="287.7" cy="651.8" r="3.9"/><circle cx="293.0" cy="631.0" r="3.9"/><circle cx="292.8" cy="648.8" r="3.9"/><circle cx="290.4" cy="664.3" r="3.9"/><circle cx="283.3" cy="650.1" r="3.9"/><circle cx="288.1" cy="652.8" r="3.9"/><circle cx="294.8" cy="658.1" r="3.9"/><circle cx="282.9" cy="638.9" r="3.9"/><circle cx="292.1" cy="638.4" r="3.9"/><circle cx="285.4" cy="627.7" r="3.9"/><circle cx="290.1" cy="686.0" r="3.9"/><circle cx="288.5" cy="679.1" r="3.9"/><circle cx="284.3" cy="667.1" r="3.9"/><circle cx="297.2" cy="669.5" r="3.9"/><circle cx="295.9" cy="642.2" r="3.9"/><circle cx="289.3" cy="668.6" r="3.9"/><circle cx="287.3" cy="637.3" r="3.9"/><circle cx="295.0" cy="681.3" r="3.9"/><circle cx="288.4" cy="682.7" r="3.9"/><circle cx="286.6" cy="641.7" r="3.9"/><circle cx="297.0" cy="647.6" r="3.9"/><circle cx="288.9" cy="638.8" r="3.9"/><circle cx="291.4" cy="674.2" r="3.9"/><circle cx="289.1" cy="670.0" r="3.9"/><circle cx="282.8" cy="650.2" r="3.9"/><circle cx="292.2" cy="664.5" r="3.9"/><circle cx="282.0" cy="662.9" r="3.9"/><circle cx="297.2" cy="648.4" r="3.9"/><circle cx="294.4" cy="647.7" r="3.9"/><circle cx="282.0" cy="679.3" r="3.9"/><circle cx="296.7" cy="657.2" r="3.9"/><circle cx="293.6" cy="651.8" r="3.9"/><circle cx="282.5" cy="658.9" r="3.9"/><circle cx="282.1" cy="647.5" r="3.9"/><circle cx="292.7" cy="632.8" r="3.9"/><circle cx="283.0" cy="687.5" r="3.9"/><circle cx="285.7" cy="656.7" r="3.9"/><circle cx="283.9" cy="672.5" r="3.9"/><circle cx="290.3" cy="638.4" r="3.9"/><circle cx="290.3" cy="658.9" r="3.9"/><circle cx="296.4" cy="646.1" r="3.9"/><circle cx="291.1" cy="668.4" r="3.9"/><circle cx="294.9" cy="663.8" r="3.9"/><circle cx="292.6" cy="630.4" r="3.9"/><circle cx="291.6" cy="667.9" r="3.9"/><circle cx="285.3" cy="673.2" r="3.9"/><circle cx="288.1" cy="631.3" r="3.9"/><circle cx="286.2" cy="634.2" r="3.9"/><circle cx="291.1" cy="642.8" r="3.9"/><circle cx="288.6" cy="673.3" r="3.9"/><circle cx="294.1" cy="654.7" r="3.9"/><circle cx="290.2" cy="653.6" r="3.9"/><circle cx="292.0" cy="659.5" r="3.9"/><circle cx="288.1" cy="671.4" r="3.9"/><circle cx="282.1" cy="680.2" r="3.9"/><circle cx="290.3" cy="661.2" r="3.9"/><circle cx="292.1" cy="658.3" r="3.9"/><circle cx="294.5" cy="685.4" r="3.9"/><circle cx="286.8" cy="633.7" r="3.9"/><circle cx="295.7" cy="684.2" r="3.9"/><circle cx="287.4" cy="662.0" r="3.9"/><circle cx="288.1" cy="664.4" r="3.9"/><circle cx="287.7" cy="669.2" r="3.9"/><circle cx="286.2" cy="659.4" r="3.9"/><circle cx="288.9" cy="636.1" r="3.9"/><circle cx="287.9" cy="672.2" r="3.9"/><circle cx="285.8" cy="663.2" r="3.9"/><circle cx="284.5" cy="647.5" r="3.9"/><circle cx="292.8" cy="656.8" r="3.9"/><circle cx="291.8" cy="658.9" r="3.9"/><circle cx="288.4" cy="631.6" r="3.9"/><circle cx="287.3" cy="674.0" r="3.9"/><circle cx="287.7" cy="626.7" r="3.9"/><circle cx="285.5" cy="654.9" r="3.9"/><circle cx="282.7" cy="669.8" r="3.9"/><circle cx="286.2" cy="643.3" r="3.9"/><circle cx="287.5" cy="644.8" r="3.9"/><circle cx="283.8" cy="685.9" r="3.9"/><circle cx="286.3" cy="640.5" r="3.9"/><circle cx="283.0" cy="668.7" r="3.9"/><circle cx="297.1" cy="672.0" r="3.9"/><circle cx="283.9" cy="652.8" r="3.9"/><circle cx="296.3" cy="664.7" r="3.9"/><circle cx="282.9" cy="670.1" r="3.9"/><circle cx="294.8" cy="665.2" r="3.9"/><circle cx="286.2" cy="689.0" r="3.9"/><circle cx="296.8" cy="647.0" r="3.9"/><circle cx="293.2" cy="653.2" r="3.9"/><circle cx="290.5" cy="687.3" r="3.9"/><circle cx="296.1" cy="678.3" r="3.9"/><circle cx="290.3" cy="659.7" r="3.9"/><circle cx="282.1" cy="645.7" r="3.9"/><circle cx="292.3" cy="648.9" r="3.9"/><circle cx="295.1" cy="668.6" r="3.9"/><circle cx="293.5" cy="656.8" r="3.9"/><circle cx="287.6" cy="647.4" r="3.9"/><circle cx="287.2" cy="685.4" r="3.9"/><circle cx="282.4" cy="648.4" r="3.9"/><circle cx="282.9" cy="660.6" r="3.9"/><circle cx="296.4" cy="682.3" r="3.9"/><circle cx="293.6" cy="671.8" r="3.9"/><circle cx="285.0" cy="681.4" r="3.9"/><circle cx="289.7" cy="657.7" r="3.9"/><circle cx="291.8" cy="655.1" r="3.9"/><circle cx="284.5" cy="687.7" r="3.9"/><circle cx="286.7" cy="661.7" r="3.9"/><circle cx="297.7" cy="657.3" r="3.9"/><circle cx="295.2" cy="659.3" r="3.9"/><circle cx="294.8" cy="650.9" r="3.9"/><circle cx="287.2" cy="649.1" r="3.9"/><circle cx="282.8" cy="652.2" r="3.9"/><circle cx="288.3" cy="688.5" r="3.9"/><circle cx="284.8" cy="666.7" r="3.9"/><circle cx="286.1" cy="637.9" r="3.9"/><circle cx="294.9" cy="673.4" r="3.9"/><circle cx="292.9" cy="661.0" r="3.9"/><circle cx="282.0" cy="660.8" r="3.9"/><circle cx="287.1" cy="687.2" r="3.9"/><circle cx="290.5" cy="683.3" r="3.9"/><circle cx="287.6" cy="627.0" r="3.9"/><circle cx="284.0" cy="662.4" r="3.9"/><circle cx="282.4" cy="679.4" r="3.9"/><circle cx="287.3" cy="649.8" r="3.9"/><circle cx="291.1" cy="668.4" r="3.9"/><circle cx="292.3" cy="671.8" r="3.9"/><circle cx="290.3" cy="630.5" r="3.9"/><circle cx="284.0" cy="636.4" r="3.9"/><circle cx="295.9" cy="648.4" r="3.9"/><circle cx="290.9" cy="673.7" r="3.9"/><circle cx="289.8" cy="658.4" r="3.9"/><circle cx="286.6" cy="651.3" r="3.9"/><circle cx="296.9" cy="651.8" r="3.9"/><circle cx="285.1" cy="648.0" r="3.9"/><circle cx="284.8" cy="648.6" r="3.9"/><circle cx="294.1" cy="656.3" r="3.9"/><circle cx="290.3" cy="633.6" r="3.9"/><circle cx="286.7" cy="668.9" r="3.9"/><circle cx="295.3" cy="647.0" r="3.9"/><circle cx="288.6" cy="629.6" r="3.9"/><circle cx="293.1" cy="676.6" r="3.9"/><circle cx="290.3" cy="629.4" r="3.9"/><circle cx="290.7" cy="657.3" r="3.9"/><circle cx="292.3" cy="674.9" r="3.9"/><circle cx="288.4" cy="655.9" r="3.9"/><circle cx="286.0" cy="688.0" r="3.9"/><circle cx="284.7" cy="630.0" r="3.9"/><circle cx="292.3" cy="630.0" r="3.9"/><circle cx="282.5" cy="665.0" r="3.9"/><circle cx="296.9" cy="665.0" r="3.9"/><circle cx="287.3" cy="618.3" r="3.9"/>
</g>
<g stroke="#333" fill="none">
<line x1="333.6" y1="586.8" x2="333.6" y2="612.9" stroke-width="2.0"/>
<line x1="333.6" y1="635.5" x2="333.6" y2="662.0" stroke-width="2.0"/>
<line x1="328.8" y1="586.8" x2="338.4" y2="586.8" stroke-width="2.3"/>
<line x1="328.8" y1="662.0" x2="338.4" y2="662.0" stroke-width="2.3"/>
<rect x="324.4" y="613.2" width="18.3" height="22.0" fill="#1b9e77" stroke-width="2.0"/>
<line x1="324.4" y1="625.3" x2="342.7" y2="625.3" stroke-width="3.9"/>
</g>
<g stroke="#333" fill="none">
<line x1="368.7" y1="616.8" x2="368.7" y2="635.5" stroke-width="2.0"/>
<line x1="368.7" y1="650.5" x2="368.7" y2="666.5" stroke-width="2.0"/>
<line x1="363.9" y1="616.8" x2="373.5" y2="616.8" stroke-width="2.3"/>
<line x1="363.9" y1="666.5" x2="373.5" y2="666.5" stroke-width="2.3"/>
<rect x="359.5" y="635.8" width="18.4" height="14.4" fill="#d95f02" stroke-width="2.0"/>
<line x1="359.5" y1="641.5" x2="377.9" y2="641.5" stroke-width="3.9"/>
</g>
<g stroke="#333" fill="none">
<line x1="403.8" y1="627.4" x2="403.8" y2="649.3" stroke-width="2.0"/>
<line x1="403.8" y1="667.4" x2="403.8" y2="689.6" stroke-width="2.0"/>
<line x1="398.9" y1="627.4" x2="408.6" y2="627.4" stroke-width="2.3"/>
<line x1="398.9" y1="689.6" x2="408.6" y2="689.6" stroke-width="2.3"/>
<rect x="394.4" y="649.6" width="18.7" height="17.5" fill="#7570b3" stroke-width="2.0"/>
<line x1="394.4" y1="659.5" x2="413.1" y2="659.5" stroke-width="3.9"/>
</g>
<path d="M438.9 524.0 C438.9 527.5 439.1 538.6 439.2 545.0 C439.3 551.4 439.3 557.9 439.5 562.1 C439.7 566.3 440.1 566.8 440.5 570.1 C440.9 573.4 441.6 578.8 442.0 582.1 C442.4 585.4 442.3 587.7 442.6 590.0 C442.9 592.3 443.0 594.2 443.8 596.0 C444.6 597.8 446.1 599.0 447.5 600.5 C448.9 602.0 450.5 603.4 452.0 605.0 C453.5 606.6 455.1 608.5 456.6 610.3 C458.1 612.1 459.7 613.9 461.1 615.6 C462.5 617.4 463.9 619.0 464.8 620.8 C465.7 622.5 466.1 624.5 466.3 626.1 C466.5 627.7 466.4 629.2 466.0 630.6 C465.6 632.0 465.1 633.1 464.1 634.4 C463.2 635.6 461.6 637.0 460.3 638.1 C459.1 639.2 457.7 640.2 456.6 641.1 C455.5 642.0 455.0 641.7 453.5 643.3 C452.0 644.9 449.7 648.0 447.8 650.6 C445.9 653.2 443.5 656.4 442.1 658.7 C440.7 661.0 439.8 662.5 439.3 664.4 C438.8 666.3 439.0 669.1 438.9 670.0 Z" fill="#1b9e77" fill-opacity="0.5" stroke="#111" stroke-width="1.8" stroke-linejoin="round"/>
<path d="M438.9 606.0 C439.0 607.0 438.7 609.7 439.3 611.8 C439.9 613.9 441.1 616.7 442.3 618.6 C443.6 620.5 444.9 621.7 446.8 623.1 C448.7 624.5 451.2 625.8 453.5 626.8 C455.8 627.8 458.2 628.4 460.3 629.1 C462.4 629.8 463.9 630.2 466.0 631.0 C468.1 631.8 470.9 632.7 473.1 633.6 C475.3 634.5 477.6 635.7 479.1 636.6 C480.6 637.5 481.9 638.1 482.1 638.9 C482.4 639.6 481.6 640.2 480.6 641.1 C479.6 642.0 477.6 643.1 476.1 644.1 C474.6 645.1 473.2 645.8 471.6 647.1 C470.0 648.5 468.8 650.7 466.6 652.2 C464.4 653.7 461.1 654.8 458.4 656.3 C455.7 657.8 453.0 659.4 450.3 661.2 C447.6 663.0 443.9 665.3 442.1 666.9 C440.3 668.5 439.8 669.7 439.3 670.9 C438.8 672.1 439.0 673.5 438.9 674.0 Z" fill="#d95f02" fill-opacity="0.5" stroke="#111" stroke-width="1.8" stroke-linejoin="round"/>
<path d="M438.9 614.0 C439.0 615.0 438.9 618.0 439.3 620.1 C439.7 622.2 440.5 624.8 441.5 626.8 C442.5 628.8 443.8 630.5 445.3 632.1 C446.8 633.7 448.8 635.1 450.5 636.6 C452.2 638.1 454.1 639.5 455.8 641.1 C457.5 642.7 458.8 644.1 460.6 646.0 C462.4 647.9 464.7 650.6 466.6 652.2 C468.6 653.8 471.0 654.3 472.3 655.5 C473.6 656.7 474.6 658.3 474.7 659.5 C474.8 660.7 474.2 661.8 473.1 662.8 C472.0 663.8 470.2 664.1 468.2 665.2 C466.2 666.3 462.9 667.8 460.9 669.3 C458.9 670.8 457.5 672.6 456.0 674.2 C454.5 675.8 453.5 677.5 451.9 679.1 C450.3 680.7 447.8 682.4 446.2 684.0 C444.6 685.6 443.2 687.4 442.1 688.9 C441.0 690.4 440.2 690.6 439.7 692.9 C439.2 695.2 439.0 701.1 438.9 702.7 Z" fill="#7570b3" fill-opacity="0.5" stroke="#111" stroke-width="1.8" stroke-linejoin="round"/>
</g>
<g>
<line x1="596.4" y1="493.7" x2="596.4" y2="729.5" stroke="#bdbdbd" stroke-width="1.4"/>
<line x1="588.1" y1="493.7" x2="596.4" y2="493.7" stroke="#7a7a7a" stroke-width="1.7"/>
<text x="558.27" y="500.11" font-family="'Noto Sans CJK SC', 'Liberation Sans', sans-serif" font-weight="400" font-size="17.80" textLength="22.13" lengthAdjust="spacingAndGlyphs" fill="#111">60</text>
<line x1="588.1" y1="533.0" x2="596.4" y2="533.0" stroke="#7a7a7a" stroke-width="1.7"/>
<text x="558.27" y="539.41" font-family="'Noto Sans CJK SC', 'Liberation Sans', sans-serif" font-weight="400" font-size="17.80" textLength="22.13" lengthAdjust="spacingAndGlyphs" fill="#111">50</text>
<line x1="588.1" y1="572.3" x2="596.4" y2="572.3" stroke="#7a7a7a" stroke-width="1.7"/>
<text x="558.27" y="578.71" font-family="'Noto Sans CJK SC', 'Liberation Sans', sans-serif" font-weight="400" font-size="17.80" textLength="22.13" lengthAdjust="spacingAndGlyphs" fill="#111">40</text>
<line x1="588.1" y1="611.6" x2="596.4" y2="611.6" stroke="#7a7a7a" stroke-width="1.7"/>
<text x="558.27" y="618.01" font-family="'Noto Sans CJK SC', 'Liberation Sans', sans-serif" font-weight="400" font-size="17.80" textLength="22.13" lengthAdjust="spacingAndGlyphs" fill="#111">30</text>
<line x1="588.1" y1="650.9" x2="596.4" y2="650.9" stroke="#7a7a7a" stroke-width="1.7"/>
<text x="558.27" y="657.31" font-family="'Noto Sans CJK SC', 'Liberation Sans', sans-serif" font-weight="400" font-size="17.80" textLength="22.13" lengthAdjust="spacingAndGlyphs" fill="#111">20</text>
<line x1="588.1" y1="690.2" x2="596.4" y2="690.2" stroke="#7a7a7a" stroke-width="1.7"/>
<text x="558.27" y="696.61" font-family="'Noto Sans CJK SC', 'Liberation Sans', sans-serif" font-weight="400" font-size="17.80" textLength="22.13" lengthAdjust="spacingAndGlyphs" fill="#111">10</text>
<line x1="588.1" y1="729.5" x2="596.4" y2="729.5" stroke="#7a7a7a" stroke-width="1.7"/>
<text x="569.23" y="735.91" font-family="'Noto Sans CJK SC', 'Liberation Sans', sans-serif" font-weight="400" font-size="17.80" textLength="11.06" lengthAdjust="spacingAndGlyphs" fill="#111">0</text>
<text transform="translate(542.50 674.29) rotate(-90)" x="0" y="0" font-family="'Noto Sans CJK SC', 'Liberation Sans', sans-serif" font-weight="500" font-size="18.00" textLength="125.48" lengthAdjust="spacingAndGlyphs" fill="#111">Xc/H (Ohm/m)</text>
<line x1="624.7" y1="741.6" x2="804.5" y2="741.6" stroke="#b5b5b5" stroke-width="1.4"/>
<line x1="624.7" y1="741.6" x2="624.7" y2="750.0" stroke="#7a7a7a" stroke-width="1.7"/>
<line x1="714.6" y1="741.6" x2="714.6" y2="750.0" stroke="#7a7a7a" stroke-width="1.7"/>
<line x1="804.5" y1="741.6" x2="804.5" y2="750.0" stroke="#7a7a7a" stroke-width="1.7"/>
<text x="615.12" y="789.10" font-family="NanumGothic, 'Liberation Sans', sans-serif" font-weight="700" font-size="17.90" textLength="21.74" lengthAdjust="spacingAndGlyphs" fill="#111">T1</text>
<text x="703.02" y="789.10" font-family="NanumGothic, 'Liberation Sans', sans-serif" font-weight="700" font-size="17.90" textLength="21.58" lengthAdjust="spacingAndGlyphs" fill="#111">T2</text>
<text x="791.33" y="788.92" font-family="NanumGothic, 'Liberation Sans', sans-serif" font-weight="700" font-size="17.90" textLength="21.38" lengthAdjust="spacingAndGlyphs" fill="#111">T3</text>
<path d="M611.7 490.8 V485.7 H815.2 V490.8" fill="none" stroke="#000" stroke-width="2.1" stroke-linejoin="round"/>
<text x="700.91" y="482.33" font-family="'Noto Sans CJK SC', 'Liberation Sans', sans-serif" font-weight="700" font-size="16.50" textLength="23.99" lengthAdjust="spacingAndGlyphs" fill="#000">***</text>
<path d="M716.5 518.9 V513.5 H815.2 V518.9" fill="none" stroke="#000" stroke-width="2.1" stroke-linejoin="round"/>
<text x="751.41" y="513.53" font-family="'Noto Sans CJK SC', 'Liberation Sans', sans-serif" font-weight="700" font-size="16.50" textLength="23.99" lengthAdjust="spacingAndGlyphs" fill="#000">***</text>
<g fill="#1b9e77">
<circle cx="620.5" cy="623.8" r="3.9"/><circle cx="616.6" cy="604.5" r="3.9"/><circle cx="629.6" cy="634.1" r="3.9"/><circle cx="628.4" cy="609.4" r="3.9"/><circle cx="617.3" cy="615.8" r="3.9"/><circle cx="619.8" cy="587.9" r="3.9"/><circle cx="622.6" cy="558.6" r="3.9"/><circle cx="624.9" cy="599.7" r="3.9"/><circle cx="618.7" cy="580.3" r="3.9"/><circle cx="619.0" cy="594.5" r="3.9"/><circle cx="621.6" cy="626.6" r="3.9"/><circle cx="618.2" cy="562.8" r="3.9"/><circle cx="624.3" cy="618.4" r="3.9"/><circle cx="629.1" cy="643.2" r="3.9"/><circle cx="622.5" cy="597.9" r="3.9"/><circle cx="618.6" cy="580.4" r="3.9"/><circle cx="621.4" cy="649.7" r="3.9"/><circle cx="623.4" cy="563.1" r="3.9"/><circle cx="623.2" cy="583.2" r="3.9"/><circle cx="626.0" cy="650.6" r="3.9"/><circle cx="616.8" cy="626.0" r="3.9"/><circle cx="619.5" cy="622.1" r="3.9"/><circle cx="621.6" cy="566.1" r="3.9"/><circle cx="620.6" cy="651.7" r="3.9"/><circle cx="621.5" cy="638.8" r="3.9"/><circle cx="623.7" cy="558.1" r="3.9"/><circle cx="629.6" cy="618.2" r="3.9"/><circle cx="618.4" cy="616.1" r="3.9"/><circle cx="618.0" cy="647.0" r="3.9"/><circle cx="620.7" cy="572.1" r="3.9"/><circle cx="621.3" cy="604.3" r="3.9"/><circle cx="625.1" cy="641.8" r="3.9"/><circle cx="626.4" cy="647.0" r="3.9"/><circle cx="626.9" cy="608.4" r="3.9"/><circle cx="620.9" cy="567.1" r="3.9"/><circle cx="629.8" cy="593.2" r="3.9"/><circle cx="622.7" cy="650.8" r="3.9"/><circle cx="617.7" cy="563.4" r="3.9"/><circle cx="619.1" cy="567.1" r="3.9"/><circle cx="619.1" cy="628.4" r="3.9"/><circle cx="626.3" cy="643.3" r="3.9"/><circle cx="621.5" cy="650.4" r="3.9"/><circle cx="627.2" cy="635.2" r="3.9"/><circle cx="618.6" cy="591.1" r="3.9"/><circle cx="619.8" cy="601.5" r="3.9"/><circle cx="625.3" cy="617.8" r="3.9"/><circle cx="630.0" cy="615.1" r="3.9"/><circle cx="630.7" cy="615.4" r="3.9"/><circle cx="629.9" cy="597.3" r="3.9"/><circle cx="617.2" cy="599.7" r="3.9"/><circle cx="625.2" cy="563.7" r="3.9"/><circle cx="621.1" cy="574.8" r="3.9"/><circle cx="624.5" cy="606.0" r="3.9"/><circle cx="625.2" cy="637.5" r="3.9"/><circle cx="617.4" cy="568.4" r="3.9"/><circle cx="621.5" cy="561.2" r="3.9"/><circle cx="618.3" cy="609.3" r="3.9"/><circle cx="628.8" cy="588.2" r="3.9"/><circle cx="631.2" cy="622.7" r="3.9"/><circle cx="617.9" cy="600.3" r="3.9"/><circle cx="628.0" cy="613.5" r="3.9"/><circle cx="627.6" cy="595.9" r="3.9"/><circle cx="631.8" cy="610.1" r="3.9"/><circle cx="629.0" cy="579.4" r="3.9"/><circle cx="621.3" cy="581.5" r="3.9"/><circle cx="628.4" cy="647.9" r="3.9"/><circle cx="622.2" cy="641.0" r="3.9"/><circle cx="629.3" cy="600.0" r="3.9"/><circle cx="619.8" cy="595.9" r="3.9"/><circle cx="621.1" cy="606.0" r="3.9"/><circle cx="623.4" cy="560.4" r="3.9"/><circle cx="625.1" cy="594.0" r="3.9"/><circle cx="616.7" cy="621.7" r="3.9"/><circle cx="618.4" cy="571.2" r="3.9"/><circle cx="630.6" cy="613.2" r="3.9"/><circle cx="631.2" cy="635.7" r="3.9"/><circle cx="628.6" cy="594.2" r="3.9"/><circle cx="629.7" cy="582.6" r="3.9"/><circle cx="624.5" cy="565.4" r="3.9"/><circle cx="623.0" cy="613.0" r="3.9"/><circle cx="630.6" cy="640.2" r="3.9"/><circle cx="622.3" cy="574.5" r="3.9"/><circle cx="625.5" cy="577.5" r="3.9"/><circle cx="620.5" cy="640.7" r="3.9"/><circle cx="620.9" cy="594.7" r="3.9"/><circle cx="623.2" cy="590.0" r="3.9"/><circle cx="622.0" cy="627.9" r="3.9"/><circle cx="625.4" cy="610.8" r="3.9"/><circle cx="618.4" cy="562.2" r="3.9"/><circle cx="626.5" cy="609.2" r="3.9"/><circle cx="619.7" cy="640.9" r="3.9"/><circle cx="627.8" cy="640.4" r="3.9"/><circle cx="625.4" cy="593.4" r="3.9"/><circle cx="624.0" cy="622.4" r="3.9"/><circle cx="621.1" cy="587.6" r="3.9"/><circle cx="623.1" cy="624.4" r="3.9"/><circle cx="620.0" cy="562.1" r="3.9"/><circle cx="616.9" cy="625.0" r="3.9"/><circle cx="623.4" cy="577.7" r="3.9"/><circle cx="624.6" cy="640.8" r="3.9"/><circle cx="620.2" cy="570.3" r="3.9"/><circle cx="619.1" cy="592.6" r="3.9"/><circle cx="617.7" cy="620.1" r="3.9"/><circle cx="630.7" cy="582.9" r="3.9"/><circle cx="624.0" cy="565.6" r="3.9"/><circle cx="630.4" cy="580.7" r="3.9"/><circle cx="622.1" cy="630.7" r="3.9"/><circle cx="627.6" cy="617.4" r="3.9"/><circle cx="625.1" cy="581.1" r="3.9"/><circle cx="627.4" cy="593.5" r="3.9"/><circle cx="622.2" cy="591.1" r="3.9"/><circle cx="620.8" cy="621.3" r="3.9"/><circle cx="631.5" cy="610.4" r="3.9"/><circle cx="625.6" cy="622.6" r="3.9"/><circle cx="621.3" cy="617.5" r="3.9"/><circle cx="632.0" cy="629.3" r="3.9"/><circle cx="629.6" cy="630.2" r="3.9"/><circle cx="623.1" cy="643.1" r="3.9"/><circle cx="629.8" cy="604.1" r="3.9"/><circle cx="616.7" cy="613.1" r="3.9"/><circle cx="622.0" cy="594.4" r="3.9"/><circle cx="623.0" cy="614.3" r="3.9"/><circle cx="618.0" cy="601.0" r="3.9"/><circle cx="619.3" cy="555.9" r="3.9"/><circle cx="619.9" cy="586.8" r="3.9"/><circle cx="632.5" cy="618.0" r="3.9"/><circle cx="620.1" cy="564.9" r="3.9"/><circle cx="629.2" cy="582.4" r="3.9"/><circle cx="625.7" cy="637.8" r="3.9"/><circle cx="624.9" cy="596.8" r="3.9"/><circle cx="619.3" cy="589.7" r="3.9"/><circle cx="627.0" cy="620.6" r="3.9"/><circle cx="627.8" cy="607.3" r="3.9"/><circle cx="623.6" cy="571.9" r="3.9"/><circle cx="619.4" cy="627.9" r="3.9"/><circle cx="618.8" cy="598.1" r="3.9"/><circle cx="627.6" cy="579.0" r="3.9"/><circle cx="618.6" cy="626.9" r="3.9"/><circle cx="618.6" cy="560.4" r="3.9"/><circle cx="629.2" cy="634.6" r="3.9"/><circle cx="627.7" cy="604.7" r="3.9"/><circle cx="624.7" cy="620.0" r="3.9"/><circle cx="622.4" cy="599.7" r="3.9"/><circle cx="626.3" cy="569.3" r="3.9"/><circle cx="623.1" cy="642.2" r="3.9"/><circle cx="620.3" cy="593.2" r="3.9"/><circle cx="620.3" cy="582.2" r="3.9"/><circle cx="630.6" cy="635.1" r="3.9"/><circle cx="619.3" cy="651.0" r="3.9"/><circle cx="628.4" cy="594.5" r="3.9"/><circle cx="630.6" cy="586.3" r="3.9"/><circle cx="620.1" cy="618.0" r="3.9"/><circle cx="623.3" cy="618.3" r="3.9"/><circle cx="627.6" cy="635.9" r="3.9"/><circle cx="622.7" cy="611.0" r="3.9"/><circle cx="616.9" cy="570.1" r="3.9"/><circle cx="628.0" cy="623.7" r="3.9"/><circle cx="622.4" cy="559.8" r="3.9"/><circle cx="621.4" cy="649.0" r="3.9"/><circle cx="623.7" cy="588.9" r="3.9"/><circle cx="628.4" cy="625.2" r="3.9"/><circle cx="624.3" cy="605.3" r="3.9"/><circle cx="622.1" cy="650.9" r="3.9"/><circle cx="627.5" cy="565.8" r="3.9"/><circle cx="620.3" cy="579.2" r="3.9"/><circle cx="625.3" cy="606.3" r="3.9"/><circle cx="620.1" cy="627.2" r="3.9"/><circle cx="628.2" cy="616.9" r="3.9"/><circle cx="618.7" cy="591.3" r="3.9"/><circle cx="620.2" cy="614.5" r="3.9"/><circle cx="627.2" cy="608.6" r="3.9"/><circle cx="625.5" cy="576.5" r="3.9"/><circle cx="628.5" cy="592.3" r="3.9"/><circle cx="620.1" cy="579.4" r="3.9"/><circle cx="620.5" cy="595.1" r="3.9"/><circle cx="630.3" cy="601.9" r="3.9"/><circle cx="622.9" cy="591.5" r="3.9"/><circle cx="628.8" cy="640.1" r="3.9"/><circle cx="618.7" cy="643.9" r="3.9"/><circle cx="628.0" cy="618.5" r="3.9"/><circle cx="622.7" cy="577.0" r="3.9"/><circle cx="619.0" cy="569.3" r="3.9"/><circle cx="623.3" cy="632.9" r="3.9"/><circle cx="627.6" cy="599.5" r="3.9"/><circle cx="622.2" cy="591.6" r="3.9"/><circle cx="618.8" cy="597.5" r="3.9"/><circle cx="623.2" cy="623.5" r="3.9"/><circle cx="630.3" cy="597.9" r="3.9"/><circle cx="629.6" cy="583.3" r="3.9"/><circle cx="617.0" cy="636.1" r="3.9"/><circle cx="619.8" cy="607.2" r="3.9"/><circle cx="619.1" cy="580.8" r="3.9"/><circle cx="623.1" cy="631.5" r="3.9"/><circle cx="620.4" cy="568.4" r="3.9"/><circle cx="623.3" cy="566.0" r="3.9"/><circle cx="625.0" cy="585.2" r="3.9"/><circle cx="626.3" cy="616.1" r="3.9"/><circle cx="628.4" cy="645.4" r="3.9"/><circle cx="624.2" cy="608.8" r="3.9"/><circle cx="630.8" cy="624.5" r="3.9"/><circle cx="622.4" cy="605.7" r="3.9"/><circle cx="627.8" cy="630.3" r="3.9"/><circle cx="624.5" cy="574.3" r="3.9"/><circle cx="617.3" cy="577.4" r="3.9"/><circle cx="625.4" cy="570.2" r="3.9"/><circle cx="619.6" cy="613.8" r="3.9"/><circle cx="620.9" cy="594.0" r="3.9"/><circle cx="621.0" cy="622.5" r="3.9"/><circle cx="626.3" cy="574.4" r="3.9"/><circle cx="621.7" cy="591.0" r="3.9"/><circle cx="616.4" cy="608.9" r="3.9"/><circle cx="625.5" cy="560.2" r="3.9"/><circle cx="617.6" cy="564.6" r="3.9"/><circle cx="628.1" cy="613.8" r="3.9"/><circle cx="630.8" cy="630.0" r="3.9"/><circle cx="620.8" cy="597.6" r="3.9"/><circle cx="621.2" cy="633.2" r="3.9"/><circle cx="620.1" cy="648.2" r="3.9"/><circle cx="626.6" cy="643.4" r="3.9"/><circle cx="620.5" cy="583.4" r="3.9"/><circle cx="617.1" cy="565.0" r="3.9"/><circle cx="627.3" cy="565.0" r="3.9"/><circle cx="616.8" cy="620.0" r="3.9"/><circle cx="632.4" cy="620.0" r="3.9"/><circle cx="625.7" cy="539.4" r="3.9"/><circle cx="621.0" cy="548.0" r="3.9"/><circle cx="632.0" cy="547.5" r="3.9"/><circle cx="616.0" cy="652.5" r="3.9"/>
</g>
<g fill="#d95f02">
<circle cx="705.9" cy="640.7" r="3.9"/><circle cx="706.1" cy="610.3" r="3.9"/><circle cx="714.6" cy="602.6" r="3.9"/><circle cx="721.3" cy="579.0" r="3.9"/><circle cx="721.3" cy="634.8" r="3.9"/><circle cx="718.7" cy="593.2" r="3.9"/><circle cx="711.3" cy="609.6" r="3.9"/><circle cx="713.2" cy="647.7" r="3.9"/><circle cx="717.7" cy="590.4" r="3.9"/><circle cx="712.1" cy="622.3" r="3.9"/><circle cx="707.3" cy="625.7" r="3.9"/><circle cx="710.6" cy="610.5" r="3.9"/><circle cx="714.8" cy="608.0" r="3.9"/><circle cx="707.1" cy="591.6" r="3.9"/><circle cx="715.1" cy="585.4" r="3.9"/><circle cx="711.4" cy="569.5" r="3.9"/><circle cx="717.0" cy="617.0" r="3.9"/><circle cx="715.1" cy="570.1" r="3.9"/><circle cx="722.0" cy="593.4" r="3.9"/><circle cx="722.0" cy="622.3" r="3.9"/><circle cx="705.7" cy="588.6" r="3.9"/><circle cx="720.4" cy="584.0" r="3.9"/><circle cx="706.6" cy="613.6" r="3.9"/><circle cx="706.6" cy="579.1" r="3.9"/><circle cx="705.7" cy="605.8" r="3.9"/><circle cx="717.8" cy="585.7" r="3.9"/><circle cx="716.1" cy="622.2" r="3.9"/><circle cx="714.4" cy="601.7" r="3.9"/><circle cx="713.7" cy="613.5" r="3.9"/><circle cx="715.6" cy="604.8" r="3.9"/><circle cx="712.5" cy="649.8" r="3.9"/><circle cx="712.7" cy="587.2" r="3.9"/><circle cx="715.2" cy="599.2" r="3.9"/><circle cx="714.3" cy="568.4" r="3.9"/><circle cx="712.9" cy="577.1" r="3.9"/><circle cx="715.8" cy="621.8" r="3.9"/><circle cx="712.2" cy="645.1" r="3.9"/><circle cx="710.3" cy="630.2" r="3.9"/><circle cx="712.4" cy="624.8" r="3.9"/><circle cx="708.8" cy="641.6" r="3.9"/><circle cx="707.1" cy="641.9" r="3.9"/><circle cx="706.1" cy="585.6" r="3.9"/><circle cx="714.4" cy="561.8" r="3.9"/><circle cx="720.3" cy="625.9" r="3.9"/><circle cx="715.4" cy="620.9" r="3.9"/><circle cx="720.0" cy="597.7" r="3.9"/><circle cx="720.3" cy="621.1" r="3.9"/><circle cx="708.9" cy="572.3" r="3.9"/><circle cx="719.7" cy="643.3" r="3.9"/><circle cx="711.5" cy="594.6" r="3.9"/><circle cx="718.5" cy="647.8" r="3.9"/><circle cx="716.9" cy="633.2" r="3.9"/><circle cx="707.3" cy="574.2" r="3.9"/><circle cx="717.8" cy="643.6" r="3.9"/><circle cx="717.1" cy="605.9" r="3.9"/><circle cx="709.7" cy="600.0" r="3.9"/><circle cx="709.7" cy="590.9" r="3.9"/><circle cx="718.6" cy="581.0" r="3.9"/><circle cx="708.6" cy="645.8" r="3.9"/><circle cx="719.1" cy="604.4" r="3.9"/><circle cx="714.5" cy="621.0" r="3.9"/><circle cx="718.5" cy="636.1" r="3.9"/><circle cx="717.9" cy="601.0" r="3.9"/><circle cx="707.5" cy="568.0" r="3.9"/><circle cx="710.2" cy="627.1" r="3.9"/><circle cx="710.5" cy="634.4" r="3.9"/><circle cx="715.9" cy="615.2" r="3.9"/><circle cx="711.3" cy="650.8" r="3.9"/><circle cx="710.4" cy="613.9" r="3.9"/><circle cx="719.2" cy="587.4" r="3.9"/><circle cx="712.2" cy="648.9" r="3.9"/><circle cx="716.4" cy="595.7" r="3.9"/><circle cx="711.1" cy="646.9" r="3.9"/><circle cx="713.9" cy="598.8" r="3.9"/><circle cx="715.7" cy="629.7" r="3.9"/><circle cx="715.3" cy="582.1" r="3.9"/><circle cx="710.8" cy="643.4" r="3.9"/><circle cx="720.4" cy="619.5" r="3.9"/><circle cx="709.2" cy="602.1" r="3.9"/><circle cx="715.6" cy="602.8" r="3.9"/><circle cx="709.1" cy="595.6" r="3.9"/><circle cx="712.1" cy="623.3" r="3.9"/><circle cx="712.1" cy="601.1" r="3.9"/><circle cx="717.6" cy="596.5" r="3.9"/><circle cx="708.2" cy="601.7" r="3.9"/><circle cx="707.4" cy="602.9" r="3.9"/><circle cx="711.4" cy="603.3" r="3.9"/><circle cx="712.4" cy="621.0" r="3.9"/><circle cx="716.0" cy="594.5" r="3.9"/><circle cx="717.7" cy="621.6" r="3.9"/><circle cx="707.6" cy="604.1" r="3.9"/><circle cx="714.4" cy="602.8" r="3.9"/><circle cx="716.9" cy="624.4" r="3.9"/><circle cx="709.2" cy="598.2" r="3.9"/><circle cx="712.6" cy="559.6" r="3.9"/><circle cx="709.7" cy="594.5" r="3.9"/><circle cx="710.2" cy="632.7" r="3.9"/><circle cx="717.9" cy="611.5" r="3.9"/><circle cx="720.8" cy="608.5" r="3.9"/><circle cx="717.7" cy="643.1" r="3.9"/><circle cx="708.2" cy="569.0" r="3.9"/><circle cx="720.2" cy="624.6" r="3.9"/><circle cx="709.4" cy="594.8" r="3.9"/><circle cx="720.1" cy="587.1" r="3.9"/><circle cx="719.1" cy="594.2" r="3.9"/><circle cx="710.5" cy="645.8" r="3.9"/><circle cx="706.2" cy="636.3" r="3.9"/><circle cx="714.7" cy="594.1" r="3.9"/><circle cx="716.8" cy="647.3" r="3.9"/><circle cx="709.9" cy="559.1" r="3.9"/><circle cx="716.2" cy="605.5" r="3.9"/><circle cx="718.3" cy="632.3" r="3.9"/><circle cx="721.4" cy="608.2" r="3.9"/><circle cx="720.3" cy="584.6" r="3.9"/><circle cx="719.9" cy="618.0" r="3.9"/><circle cx="706.9" cy="576.2" r="3.9"/><circle cx="716.5" cy="585.5" r="3.9"/><circle cx="715.2" cy="585.5" r="3.9"/><circle cx="706.2" cy="569.0" r="3.9"/><circle cx="715.3" cy="576.4" r="3.9"/><circle cx="721.8" cy="631.6" r="3.9"/><circle cx="710.4" cy="601.3" r="3.9"/><circle cx="706.6" cy="606.3" r="3.9"/><circle cx="713.8" cy="583.6" r="3.9"/><circle cx="707.3" cy="587.8" r="3.9"/><circle cx="712.5" cy="578.1" r="3.9"/><circle cx="707.1" cy="613.5" r="3.9"/><circle cx="718.8" cy="606.1" r="3.9"/><circle cx="707.8" cy="627.4" r="3.9"/><circle cx="718.4" cy="597.0" r="3.9"/><circle cx="709.4" cy="568.4" r="3.9"/><circle cx="714.5" cy="574.1" r="3.9"/><circle cx="715.1" cy="627.2" r="3.9"/><circle cx="712.1" cy="579.3" r="3.9"/><circle cx="712.0" cy="644.4" r="3.9"/><circle cx="708.1" cy="593.7" r="3.9"/><circle cx="715.2" cy="565.7" r="3.9"/><circle cx="712.6" cy="613.0" r="3.9"/><circle cx="715.3" cy="572.1" r="3.9"/><circle cx="721.4" cy="593.5" r="3.9"/><circle cx="706.5" cy="650.7" r="3.9"/><circle cx="707.9" cy="618.7" r="3.9"/><circle cx="721.7" cy="605.5" r="3.9"/><circle cx="717.1" cy="593.1" r="3.9"/><circle cx="709.8" cy="565.8" r="3.9"/><circle cx="713.8" cy="606.7" r="3.9"/><circle cx="722.1" cy="629.7" r="3.9"/><circle cx="707.9" cy="608.7" r="3.9"/><circle cx="720.5" cy="627.6" r="3.9"/><circle cx="718.4" cy="619.4" r="3.9"/><circle cx="707.9" cy="597.6" r="3.9"/><circle cx="720.8" cy="637.3" r="3.9"/><circle cx="722.3" cy="621.7" r="3.9"/><circle cx="711.2" cy="565.1" r="3.9"/><circle cx="711.5" cy="591.4" r="3.9"/><circle cx="719.7" cy="606.0" r="3.9"/><circle cx="707.0" cy="613.9" r="3.9"/><circle cx="718.8" cy="575.4" r="3.9"/><circle cx="716.5" cy="572.4" r="3.9"/><circle cx="711.2" cy="600.8" r="3.9"/><circle cx="707.0" cy="635.2" r="3.9"/><circle cx="708.7" cy="624.5" r="3.9"/><circle cx="717.9" cy="604.0" r="3.9"/><circle cx="720.8" cy="589.2" r="3.9"/><circle cx="718.4" cy="610.4" r="3.9"/><circle cx="721.6" cy="618.4" r="3.9"/><circle cx="708.0" cy="627.8" r="3.9"/><circle cx="715.2" cy="583.5" r="3.9"/><circle cx="710.8" cy="639.3" r="3.9"/><circle cx="707.3" cy="574.8" r="3.9"/><circle cx="716.5" cy="605.0" r="3.9"/><circle cx="706.7" cy="618.0" r="3.9"/><circle cx="719.2" cy="642.3" r="3.9"/><circle cx="720.5" cy="616.0" r="3.9"/><circle cx="706.3" cy="628.5" r="3.9"/><circle cx="713.7" cy="561.1" r="3.9"/><circle cx="719.6" cy="594.9" r="3.9"/><circle cx="709.1" cy="629.3" r="3.9"/><circle cx="708.0" cy="597.3" r="3.9"/><circle cx="722.1" cy="594.2" r="3.9"/><circle cx="716.4" cy="643.6" r="3.9"/><circle cx="715.7" cy="611.8" r="3.9"/><circle cx="721.7" cy="585.6" r="3.9"/><circle cx="716.5" cy="581.5" r="3.9"/><circle cx="716.2" cy="641.7" r="3.9"/><circle cx="714.4" cy="637.2" r="3.9"/><circle cx="708.7" cy="581.2" r="3.9"/><circle cx="721.9" cy="630.3" r="3.9"/><circle cx="709.3" cy="570.5" r="3.9"/><circle cx="711.1" cy="582.9" r="3.9"/><circle cx="718.1" cy="618.0" r="3.9"/><circle cx="710.8" cy="564.5" r="3.9"/><circle cx="716.0" cy="577.6" r="3.9"/><circle cx="706.6" cy="591.4" r="3.9"/><circle cx="718.0" cy="581.2" r="3.9"/><circle cx="710.3" cy="583.8" r="3.9"/><circle cx="716.1" cy="633.4" r="3.9"/><circle cx="721.1" cy="615.3" r="3.9"/><circle cx="709.9" cy="608.4" r="3.9"/><circle cx="718.6" cy="607.9" r="3.9"/><circle cx="709.1" cy="634.4" r="3.9"/><circle cx="706.5" cy="647.9" r="3.9"/><circle cx="708.3" cy="650.4" r="3.9"/><circle cx="715.2" cy="641.9" r="3.9"/><circle cx="712.1" cy="560.1" r="3.9"/><circle cx="711.7" cy="571.7" r="3.9"/><circle cx="721.7" cy="631.8" r="3.9"/><circle cx="711.2" cy="589.9" r="3.9"/><circle cx="710.4" cy="617.3" r="3.9"/><circle cx="719.4" cy="598.2" r="3.9"/><circle cx="715.9" cy="571.9" r="3.9"/><circle cx="719.2" cy="621.7" r="3.9"/><circle cx="711.5" cy="580.7" r="3.9"/><circle cx="709.2" cy="614.9" r="3.9"/><circle cx="709.3" cy="600.1" r="3.9"/><circle cx="707.4" cy="620.8" r="3.9"/><circle cx="717.0" cy="619.7" r="3.9"/><circle cx="717.6" cy="639.4" r="3.9"/><circle cx="714.0" cy="637.0" r="3.9"/><circle cx="707.3" cy="573.9" r="3.9"/><circle cx="706.4" cy="570.0" r="3.9"/><circle cx="717.7" cy="570.0" r="3.9"/><circle cx="706.5" cy="630.0" r="3.9"/><circle cx="721.2" cy="630.0" r="3.9"/><circle cx="706.5" cy="548.8" r="3.9"/><circle cx="713.7" cy="551.6" r="3.9"/><circle cx="723.1" cy="562.9" r="3.9"/><circle cx="722.0" cy="652.0" r="3.9"/>
</g>
<g fill="#7570b3">
<circle cx="809.1" cy="599.8" r="3.9"/><circle cx="799.5" cy="593.7" r="3.9"/><circle cx="797.7" cy="583.5" r="3.9"/><circle cx="808.4" cy="580.4" r="3.9"/><circle cx="809.5" cy="647.3" r="3.9"/><circle cx="804.5" cy="608.2" r="3.9"/><circle cx="807.3" cy="604.6" r="3.9"/><circle cx="804.1" cy="650.6" r="3.9"/><circle cx="800.4" cy="599.6" r="3.9"/><circle cx="808.5" cy="623.9" r="3.9"/><circle cx="805.9" cy="614.3" r="3.9"/><circle cx="801.6" cy="622.3" r="3.9"/><circle cx="798.1" cy="588.8" r="3.9"/><circle cx="806.4" cy="656.3" r="3.9"/><circle cx="810.3" cy="614.6" r="3.9"/><circle cx="809.8" cy="611.9" r="3.9"/><circle cx="803.5" cy="644.3" r="3.9"/><circle cx="801.7" cy="602.8" r="3.9"/><circle cx="808.5" cy="628.2" r="3.9"/><circle cx="805.6" cy="640.2" r="3.9"/><circle cx="806.0" cy="640.9" r="3.9"/><circle cx="809.8" cy="634.2" r="3.9"/><circle cx="798.0" cy="652.6" r="3.9"/><circle cx="810.7" cy="624.2" r="3.9"/><circle cx="799.6" cy="597.9" r="3.9"/><circle cx="800.7" cy="599.9" r="3.9"/><circle cx="799.5" cy="624.0" r="3.9"/><circle cx="803.2" cy="588.9" r="3.9"/><circle cx="807.5" cy="607.7" r="3.9"/><circle cx="806.2" cy="629.0" r="3.9"/><circle cx="804.5" cy="619.3" r="3.9"/><circle cx="811.7" cy="614.9" r="3.9"/><circle cx="798.1" cy="610.8" r="3.9"/><circle cx="800.8" cy="626.2" r="3.9"/><circle cx="802.5" cy="610.0" r="3.9"/><circle cx="802.3" cy="613.2" r="3.9"/><circle cx="806.1" cy="598.9" r="3.9"/><circle cx="811.2" cy="636.0" r="3.9"/><circle cx="801.5" cy="637.5" r="3.9"/><circle cx="809.1" cy="602.1" r="3.9"/><circle cx="810.9" cy="649.3" r="3.9"/><circle cx="801.1" cy="594.5" r="3.9"/><circle cx="796.6" cy="611.7" r="3.9"/><circle cx="803.7" cy="605.6" r="3.9"/><circle cx="810.6" cy="650.6" r="3.9"/><circle cx="796.8" cy="647.0" r="3.9"/><circle cx="801.2" cy="624.3" r="3.9"/><circle cx="804.6" cy="588.9" r="3.9"/><circle cx="805.2" cy="615.7" r="3.9"/><circle cx="797.1" cy="635.1" r="3.9"/><circle cx="801.3" cy="644.7" r="3.9"/><circle cx="803.4" cy="642.8" r="3.9"/><circle cx="802.3" cy="590.2" r="3.9"/><circle cx="810.4" cy="614.3" r="3.9"/><circle cx="804.7" cy="621.7" r="3.9"/><circle cx="801.7" cy="654.5" r="3.9"/><circle cx="806.2" cy="631.2" r="3.9"/><circle cx="807.4" cy="621.0" r="3.9"/><circle cx="798.3" cy="652.4" r="3.9"/><circle cx="800.1" cy="595.0" r="3.9"/><circle cx="802.6" cy="631.3" r="3.9"/><circle cx="796.7" cy="591.9" r="3.9"/><circle cx="810.2" cy="632.1" r="3.9"/><circle cx="802.8" cy="627.4" r="3.9"/><circle cx="798.5" cy="604.0" r="3.9"/><circle cx="805.7" cy="594.9" r="3.9"/><circle cx="804.0" cy="594.3" r="3.9"/><circle cx="803.0" cy="637.5" r="3.9"/><circle cx="802.0" cy="595.3" r="3.9"/><circle cx="810.0" cy="601.6" r="3.9"/><circle cx="809.5" cy="616.0" r="3.9"/><circle cx="810.5" cy="597.2" r="3.9"/><circle cx="807.1" cy="647.2" r="3.9"/><circle cx="810.3" cy="596.2" r="3.9"/><circle cx="811.4" cy="621.7" r="3.9"/><circle cx="800.6" cy="597.3" r="3.9"/><circle cx="810.2" cy="644.1" r="3.9"/><circle cx="810.8" cy="607.3" r="3.9"/><circle cx="799.0" cy="627.3" r="3.9"/><circle cx="805.1" cy="618.8" r="3.9"/><circle cx="802.9" cy="641.7" r="3.9"/><circle cx="802.9" cy="633.4" r="3.9"/><circle cx="810.2" cy="619.9" r="3.9"/><circle cx="799.8" cy="622.3" r="3.9"/><circle cx="807.4" cy="615.6" r="3.9"/><circle cx="805.5" cy="578.9" r="3.9"/><circle cx="805.2" cy="640.2" r="3.9"/><circle cx="801.5" cy="627.4" r="3.9"/><circle cx="802.2" cy="596.9" r="3.9"/><circle cx="800.4" cy="635.3" r="3.9"/><circle cx="810.7" cy="631.9" r="3.9"/><circle cx="799.5" cy="590.6" r="3.9"/><circle cx="810.5" cy="609.2" r="3.9"/><circle cx="798.2" cy="625.5" r="3.9"/><circle cx="804.0" cy="600.7" r="3.9"/><circle cx="801.1" cy="628.7" r="3.9"/><circle cx="796.6" cy="602.2" r="3.9"/><circle cx="806.1" cy="630.5" r="3.9"/><circle cx="806.6" cy="593.1" r="3.9"/><circle cx="810.3" cy="601.3" r="3.9"/><circle cx="810.0" cy="615.7" r="3.9"/><circle cx="808.5" cy="633.2" r="3.9"/><circle cx="810.6" cy="595.1" r="3.9"/><circle cx="801.1" cy="656.7" r="3.9"/><circle cx="796.9" cy="644.0" r="3.9"/><circle cx="803.2" cy="605.1" r="3.9"/><circle cx="801.3" cy="646.3" r="3.9"/><circle cx="798.0" cy="655.9" r="3.9"/><circle cx="798.5" cy="613.6" r="3.9"/><circle cx="807.3" cy="583.6" r="3.9"/><circle cx="796.7" cy="635.2" r="3.9"/><circle cx="798.7" cy="634.4" r="3.9"/><circle cx="808.1" cy="584.7" r="3.9"/><circle cx="798.0" cy="592.0" r="3.9"/><circle cx="796.0" cy="617.0" r="3.9"/><circle cx="798.8" cy="606.7" r="3.9"/><circle cx="806.3" cy="604.8" r="3.9"/><circle cx="799.1" cy="631.7" r="3.9"/><circle cx="797.3" cy="633.0" r="3.9"/><circle cx="806.3" cy="645.3" r="3.9"/><circle cx="803.8" cy="646.3" r="3.9"/><circle cx="800.8" cy="580.4" r="3.9"/><circle cx="803.5" cy="625.3" r="3.9"/><circle cx="809.8" cy="622.9" r="3.9"/><circle cx="808.1" cy="655.5" r="3.9"/><circle cx="798.2" cy="626.6" r="3.9"/><circle cx="797.8" cy="641.3" r="3.9"/><circle cx="810.8" cy="607.2" r="3.9"/><circle cx="802.6" cy="612.6" r="3.9"/><circle cx="800.2" cy="608.9" r="3.9"/><circle cx="806.9" cy="636.0" r="3.9"/><circle cx="799.9" cy="613.5" r="3.9"/><circle cx="801.6" cy="658.0" r="3.9"/><circle cx="802.7" cy="621.1" r="3.9"/><circle cx="810.2" cy="612.7" r="3.9"/><circle cx="810.9" cy="601.3" r="3.9"/><circle cx="803.4" cy="589.2" r="3.9"/><circle cx="804.0" cy="615.1" r="3.9"/><circle cx="801.2" cy="616.2" r="3.9"/><circle cx="799.7" cy="606.1" r="3.9"/><circle cx="796.1" cy="620.8" r="3.9"/><circle cx="810.4" cy="618.1" r="3.9"/><circle cx="806.5" cy="633.4" r="3.9"/><circle cx="807.8" cy="596.3" r="3.9"/><circle cx="796.7" cy="617.2" r="3.9"/><circle cx="796.1" cy="642.0" r="3.9"/><circle cx="801.1" cy="581.2" r="3.9"/><circle cx="800.3" cy="618.8" r="3.9"/><circle cx="807.3" cy="615.3" r="3.9"/><circle cx="800.9" cy="624.1" r="3.9"/><circle cx="805.3" cy="654.4" r="3.9"/><circle cx="799.8" cy="656.0" r="3.9"/><circle cx="810.1" cy="630.0" r="3.9"/><circle cx="798.7" cy="603.6" r="3.9"/><circle cx="806.1" cy="587.6" r="3.9"/><circle cx="809.6" cy="579.7" r="3.9"/><circle cx="804.6" cy="586.3" r="3.9"/><circle cx="805.1" cy="588.3" r="3.9"/><circle cx="801.1" cy="627.7" r="3.9"/><circle cx="798.4" cy="609.5" r="3.9"/><circle cx="801.2" cy="594.8" r="3.9"/><circle cx="802.2" cy="594.8" r="3.9"/><circle cx="807.8" cy="641.9" r="3.9"/><circle cx="803.0" cy="651.3" r="3.9"/><circle cx="809.7" cy="595.1" r="3.9"/><circle cx="808.3" cy="592.1" r="3.9"/><circle cx="800.7" cy="611.0" r="3.9"/><circle cx="803.6" cy="583.4" r="3.9"/><circle cx="800.1" cy="646.4" r="3.9"/><circle cx="804.1" cy="595.3" r="3.9"/><circle cx="802.1" cy="614.1" r="3.9"/><circle cx="804.4" cy="621.7" r="3.9"/><circle cx="796.9" cy="653.4" r="3.9"/><circle cx="803.6" cy="619.7" r="3.9"/><circle cx="806.1" cy="627.5" r="3.9"/><circle cx="799.6" cy="626.6" r="3.9"/><circle cx="802.4" cy="605.8" r="3.9"/><circle cx="803.7" cy="620.6" r="3.9"/><circle cx="807.5" cy="578.6" r="3.9"/><circle cx="805.0" cy="657.1" r="3.9"/><circle cx="802.7" cy="615.6" r="3.9"/><circle cx="807.2" cy="604.1" r="3.9"/><circle cx="806.1" cy="639.7" r="3.9"/><circle cx="810.2" cy="588.7" r="3.9"/><circle cx="808.3" cy="628.7" r="3.9"/><circle cx="805.6" cy="605.9" r="3.9"/><circle cx="806.3" cy="650.9" r="3.9"/><circle cx="805.7" cy="621.8" r="3.9"/><circle cx="804.8" cy="633.3" r="3.9"/><circle cx="799.8" cy="596.1" r="3.9"/><circle cx="805.0" cy="649.8" r="3.9"/><circle cx="805.8" cy="604.1" r="3.9"/><circle cx="803.9" cy="586.4" r="3.9"/><circle cx="803.1" cy="620.5" r="3.9"/><circle cx="800.0" cy="643.8" r="3.9"/><circle cx="796.3" cy="644.6" r="3.9"/><circle cx="807.6" cy="580.0" r="3.9"/><circle cx="808.2" cy="609.1" r="3.9"/><circle cx="797.1" cy="618.1" r="3.9"/><circle cx="804.5" cy="621.6" r="3.9"/><circle cx="809.6" cy="590.4" r="3.9"/><circle cx="810.2" cy="595.2" r="3.9"/><circle cx="806.7" cy="583.9" r="3.9"/><circle cx="802.6" cy="581.3" r="3.9"/><circle cx="800.9" cy="653.1" r="3.9"/><circle cx="802.1" cy="643.0" r="3.9"/><circle cx="806.2" cy="584.4" r="3.9"/><circle cx="804.0" cy="657.8" r="3.9"/><circle cx="803.3" cy="622.9" r="3.9"/><circle cx="799.1" cy="606.9" r="3.9"/><circle cx="806.3" cy="657.8" r="3.9"/><circle cx="802.2" cy="595.1" r="3.9"/><circle cx="804.2" cy="646.6" r="3.9"/><circle cx="808.3" cy="596.2" r="3.9"/><circle cx="801.0" cy="656.8" r="3.9"/><circle cx="805.5" cy="615.8" r="3.9"/><circle cx="810.4" cy="651.6" r="3.9"/><circle cx="801.2" cy="616.5" r="3.9"/><circle cx="797.8" cy="616.9" r="3.9"/><circle cx="810.3" cy="599.7" r="3.9"/><circle cx="797.0" cy="585.0" r="3.9"/><circle cx="810.3" cy="585.0" r="3.9"/><circle cx="796.6" cy="650.0" r="3.9"/><circle cx="811.7" cy="650.0" r="3.9"/><circle cx="806.6" cy="550.7" r="3.9"/><circle cx="810.9" cy="561.6" r="3.9"/><circle cx="798.7" cy="569.1" r="3.9"/><circle cx="811.5" cy="571.0" r="3.9"/><circle cx="797.7" cy="665.8" r="3.9"/><circle cx="810.3" cy="673.9" r="3.9"/>
</g>
<g stroke="#333" fill="none">
<line x1="849.4" y1="547.6" x2="849.4" y2="589.5" stroke-width="2.0"/>
<line x1="849.4" y1="618.5" x2="849.4" y2="652.4" stroke-width="2.0"/>
<line x1="844.6" y1="547.6" x2="854.2" y2="547.6" stroke-width="2.3"/>
<line x1="844.6" y1="652.4" x2="854.2" y2="652.4" stroke-width="2.3"/>
<rect x="840.3" y="589.8" width="18.2" height="28.4" fill="#1b9e77" stroke-width="2.0"/>
<line x1="840.3" y1="599.7" x2="858.5" y2="599.7" stroke-width="3.9"/>
</g>
<g stroke="#333" fill="none">
<line x1="885.5" y1="551.4" x2="885.5" y2="592.2" stroke-width="2.0"/>
<line x1="885.5" y1="621.1" x2="885.5" y2="652.9" stroke-width="2.0"/>
<line x1="880.8" y1="551.4" x2="890.3" y2="551.4" stroke-width="2.3"/>
<line x1="880.8" y1="652.9" x2="890.3" y2="652.9" stroke-width="2.3"/>
<rect x="876.2" y="592.5" width="18.7" height="28.3" fill="#d95f02" stroke-width="2.0"/>
<line x1="876.2" y1="608.3" x2="894.9" y2="608.3" stroke-width="3.9"/>
</g>
<g stroke="#333" fill="none">
<line x1="921.4" y1="561.9" x2="921.4" y2="604.8" stroke-width="2.0"/>
<line x1="921.4" y1="634.6" x2="921.4" y2="674.2" stroke-width="2.0"/>
<line x1="916.6" y1="561.9" x2="926.2" y2="561.9" stroke-width="2.3"/>
<line x1="916.6" y1="674.2" x2="926.2" y2="674.2" stroke-width="2.3"/>
<rect x="912.3" y="605.1" width="18.2" height="29.2" fill="#7570b3" stroke-width="2.0"/>
<line x1="912.3" y1="620.3" x2="930.5" y2="620.3" stroke-width="3.9"/>
</g>
<path d="M957.4 518.7 C957.5 520.8 957.4 527.4 957.9 531.0 C958.4 534.6 959.5 537.5 960.5 540.5 C961.5 543.5 962.8 546.1 963.7 549.0 C964.6 551.9 965.1 555.1 965.8 557.6 C966.5 560.1 966.8 561.7 968.0 564.0 C969.2 566.3 971.3 568.9 973.3 571.4 C975.2 573.9 977.8 576.7 979.7 578.8 C981.7 580.9 982.9 582.5 985.0 584.1 C987.1 585.7 990.1 587.0 992.4 588.4 C994.7 589.8 997.1 591.1 998.8 592.7 C1000.4 594.3 1002.1 596.4 1002.3 598.0 C1002.5 599.6 1001.0 601.4 1000.2 602.4 C999.4 603.4 998.4 602.2 997.5 603.8 C996.6 605.4 995.7 609.9 995.0 612.0 C994.3 614.1 994.8 614.6 993.4 616.2 C992.0 617.8 989.0 619.9 986.5 621.7 C984.0 623.5 980.7 625.1 978.2 627.2 C975.7 629.3 973.0 631.8 971.3 634.1 C969.6 636.4 968.8 638.9 967.9 641.0 C967.0 643.1 967.1 644.0 965.8 646.5 C964.5 649.0 961.6 653.7 960.3 656.2 C959.0 658.7 958.7 659.4 958.2 661.7 C957.7 664.0 957.5 668.6 957.4 670.0 Z" fill="#1b9e77" fill-opacity="0.5" stroke="#111" stroke-width="1.8" stroke-linejoin="round"/>
<path d="M957.4 526.0 C957.6 527.7 957.9 532.5 958.4 536.3 C958.9 540.1 959.6 545.1 960.5 549.0 C961.4 552.9 962.6 556.9 963.7 559.7 C964.8 562.6 965.3 564.0 966.9 566.1 C968.5 568.2 971.0 569.9 973.3 572.4 C975.6 574.9 978.6 578.5 980.7 581.0 C982.8 583.5 984.2 585.2 986.0 587.3 C987.8 589.4 990.0 591.8 991.4 593.7 C992.8 595.7 993.6 597.3 994.6 599.0 C995.6 600.7 996.4 602.3 997.5 603.8 C998.6 605.3 1000.3 606.3 1001.0 607.9 C1001.7 609.5 1002.0 611.8 1001.6 613.4 C1001.2 615.0 999.8 616.6 998.9 617.6 C998.0 618.6 998.2 618.2 996.1 619.6 C994.0 621.0 989.2 623.8 986.5 625.8 C983.8 627.8 981.9 629.3 979.6 631.4 C977.3 633.5 974.8 635.9 972.7 638.2 C970.6 640.5 969.0 642.8 967.2 645.1 C965.4 647.4 963.5 649.2 962.0 652.0 C960.5 654.8 959.0 659.0 958.2 661.7 C957.4 664.4 957.5 667.0 957.4 668.0 Z" fill="#d95f02" fill-opacity="0.5" stroke="#111" stroke-width="1.8" stroke-linejoin="round"/>
<path d="M957.4 536.0 C957.6 537.8 957.9 543.3 958.4 546.9 C958.9 550.5 959.6 554.4 960.5 557.6 C961.4 560.8 962.3 563.1 963.7 566.1 C965.1 569.1 966.9 572.8 969.0 575.6 C971.1 578.4 974.2 580.8 976.5 583.1 C978.8 585.4 980.9 586.9 982.9 589.5 C984.9 592.1 986.7 596.4 988.2 599.0 C989.7 601.6 991.0 602.8 992.0 605.0 C993.0 607.2 993.8 609.6 994.5 612.0 C995.2 614.4 995.6 617.5 996.1 619.6 C996.6 621.7 997.5 623.0 997.5 624.5 C997.5 626.0 997.0 627.2 996.1 628.6 C995.2 630.0 993.8 630.9 992.0 632.7 C990.2 634.5 987.2 637.5 985.1 639.6 C983.0 641.7 981.2 643.3 979.6 645.1 C978.0 646.9 977.0 648.5 975.4 650.6 C973.8 652.7 971.7 655.2 969.9 657.5 C968.1 659.8 966.0 662.1 964.4 664.4 C962.8 666.7 961.3 669.0 960.3 671.3 C959.3 673.6 958.7 674.1 958.2 678.2 C957.7 682.3 957.5 693.1 957.4 696.1 Z" fill="#7570b3" fill-opacity="0.5" stroke="#111" stroke-width="1.8" stroke-linejoin="round"/>
</g>
<g>
<line x1="1109.8" y1="493.2" x2="1109.8" y2="729.2" stroke="#bdbdbd" stroke-width="1.4"/>
<line x1="1100.9" y1="493.2" x2="1109.8" y2="493.2" stroke="#7a7a7a" stroke-width="1.7"/>
<text x="1082.73" y="499.61" font-family="'Noto Sans CJK SC', 'Liberation Sans', sans-serif" font-weight="400" font-size="17.80" textLength="11.06" lengthAdjust="spacingAndGlyphs" fill="#111">8</text>
<line x1="1100.9" y1="532.5" x2="1109.8" y2="532.5" stroke="#7a7a7a" stroke-width="1.7"/>
<text x="1082.73" y="538.85" font-family="'Noto Sans CJK SC', 'Liberation Sans', sans-serif" font-weight="400" font-size="17.80" textLength="11.06" lengthAdjust="spacingAndGlyphs" fill="#111">7</text>
<line x1="1100.9" y1="571.9" x2="1109.8" y2="571.9" stroke="#7a7a7a" stroke-width="1.7"/>
<text x="1082.73" y="578.27" font-family="'Noto Sans CJK SC', 'Liberation Sans', sans-serif" font-weight="400" font-size="17.80" textLength="11.06" lengthAdjust="spacingAndGlyphs" fill="#111">6</text>
<line x1="1100.9" y1="611.2" x2="1109.8" y2="611.2" stroke="#7a7a7a" stroke-width="1.7"/>
<text x="1082.93" y="617.42" font-family="'Noto Sans CJK SC', 'Liberation Sans', sans-serif" font-weight="400" font-size="17.80" textLength="11.06" lengthAdjust="spacingAndGlyphs" fill="#111">5</text>
<line x1="1100.9" y1="650.5" x2="1109.8" y2="650.5" stroke="#7a7a7a" stroke-width="1.7"/>
<text x="1082.53" y="656.84" font-family="'Noto Sans CJK SC', 'Liberation Sans', sans-serif" font-weight="400" font-size="17.80" textLength="11.06" lengthAdjust="spacingAndGlyphs" fill="#111">4</text>
<line x1="1100.9" y1="689.8" x2="1109.8" y2="689.8" stroke="#7a7a7a" stroke-width="1.7"/>
<text x="1082.93" y="696.26" font-family="'Noto Sans CJK SC', 'Liberation Sans', sans-serif" font-weight="400" font-size="17.80" textLength="11.06" lengthAdjust="spacingAndGlyphs" fill="#111">3</text>
<line x1="1100.9" y1="729.2" x2="1109.8" y2="729.2" stroke="#7a7a7a" stroke-width="1.7"/>
<text x="1082.93" y="735.68" font-family="'Noto Sans CJK SC', 'Liberation Sans', sans-serif" font-weight="400" font-size="17.80" textLength="11.06" lengthAdjust="spacingAndGlyphs" fill="#111">2</text>
<text transform="translate(1061.80 680.98) rotate(-90)" x="0" y="0" font-family="'Noto Sans CJK SC', 'Liberation Sans', sans-serif" font-weight="500" font-size="18.00" textLength="183.70" lengthAdjust="spacingAndGlyphs" fill="#111">Phase angle (degree)</text>
<line x1="1138.3" y1="741.4" x2="1323.3" y2="741.4" stroke="#b5b5b5" stroke-width="1.4"/>
<line x1="1138.3" y1="741.4" x2="1138.3" y2="749.4" stroke="#7a7a7a" stroke-width="1.7"/>
<line x1="1230.2" y1="741.4" x2="1230.2" y2="749.4" stroke="#7a7a7a" stroke-width="1.7"/>
<line x1="1323.3" y1="741.4" x2="1323.3" y2="749.4" stroke="#7a7a7a" stroke-width="1.7"/>
<text x="1128.19" y="789.10" font-family="NanumGothic, 'Liberation Sans', sans-serif" font-weight="700" font-size="17.90" textLength="23.41" lengthAdjust="spacingAndGlyphs" fill="#111">T1</text>
<text x="1216.92" y="789.10" font-family="NanumGothic, 'Liberation Sans', sans-serif" font-weight="700" font-size="17.90" textLength="21.92" lengthAdjust="spacingAndGlyphs" fill="#111">T2</text>
<text x="1305.23" y="788.92" font-family="NanumGothic, 'Liberation Sans', sans-serif" font-weight="700" font-size="17.90" textLength="21.38" lengthAdjust="spacingAndGlyphs" fill="#111">T3</text>
<path d="M1131.0 491.1 V486.1 H1335.2 V491.1" fill="none" stroke="#000" stroke-width="2.1" stroke-linejoin="round"/>
<text x="1220.11" y="482.33" font-family="'Noto Sans CJK SC', 'Liberation Sans', sans-serif" font-weight="700" font-size="16.50" textLength="23.99" lengthAdjust="spacingAndGlyphs" fill="#000">***</text>
<path d="M1131.0 520.1 V514.7 H1230.2 V520.1" fill="none" stroke="#000" stroke-width="2.1" stroke-linejoin="round"/>
<text x="1166.91" y="513.53" font-family="'Noto Sans CJK SC', 'Liberation Sans', sans-serif" font-weight="700" font-size="16.50" textLength="23.99" lengthAdjust="spacingAndGlyphs" fill="#000">***</text>
<path d="M1235.8 520.1 V514.7 H1335.2 V520.1" fill="none" stroke="#000" stroke-width="2.1" stroke-linejoin="round"/>
<text x="1282.18" y="513.53" font-family="'Noto Sans CJK SC', 'Liberation Sans', sans-serif" font-weight="700" font-size="16.50" textLength="7.79" lengthAdjust="spacingAndGlyphs" fill="#000">*</text>
<g fill="#1b9e77">
<circle cx="1138.2" cy="611.2" r="3.9"/><circle cx="1137.4" cy="591.5" r="3.9"/><circle cx="1141.7" cy="599.4" r="3.9"/><circle cx="1137.9" cy="658.4" r="3.9"/><circle cx="1140.7" cy="615.1" r="3.9"/><circle cx="1135.8" cy="634.8" r="3.9"/><circle cx="1136.4" cy="615.1" r="3.9"/><circle cx="1139.4" cy="623.0" r="3.9"/><circle cx="1140.2" cy="630.9" r="3.9"/><circle cx="1137.6" cy="619.1" r="3.9"/><circle cx="1140.4" cy="638.7" r="3.9"/><circle cx="1136.4" cy="595.5" r="3.9"/><circle cx="1138.1" cy="623.0" r="3.9"/><circle cx="1145.8" cy="634.8" r="3.9"/><circle cx="1133.2" cy="630.9" r="3.9"/><circle cx="1145.5" cy="646.6" r="3.9"/><circle cx="1136.6" cy="630.9" r="3.9"/><circle cx="1133.4" cy="623.0" r="3.9"/><circle cx="1140.3" cy="611.2" r="3.9"/><circle cx="1135.4" cy="662.3" r="3.9"/><circle cx="1134.1" cy="607.3" r="3.9"/><circle cx="1129.9" cy="611.2" r="3.9"/><circle cx="1140.6" cy="626.9" r="3.9"/><circle cx="1132.5" cy="603.3" r="3.9"/><circle cx="1132.1" cy="658.4" r="3.9"/><circle cx="1143.3" cy="603.3" r="3.9"/><circle cx="1130.8" cy="615.1" r="3.9"/><circle cx="1135.5" cy="591.5" r="3.9"/><circle cx="1134.9" cy="623.0" r="3.9"/><circle cx="1131.1" cy="607.3" r="3.9"/><circle cx="1130.2" cy="619.1" r="3.9"/><circle cx="1138.9" cy="666.3" r="3.9"/><circle cx="1138.9" cy="591.5" r="3.9"/><circle cx="1140.7" cy="607.3" r="3.9"/><circle cx="1135.4" cy="587.6" r="3.9"/><circle cx="1137.8" cy="615.1" r="3.9"/><circle cx="1143.1" cy="611.2" r="3.9"/><circle cx="1136.0" cy="611.2" r="3.9"/><circle cx="1145.0" cy="623.0" r="3.9"/><circle cx="1134.5" cy="646.6" r="3.9"/><circle cx="1144.4" cy="650.5" r="3.9"/><circle cx="1137.4" cy="650.5" r="3.9"/><circle cx="1143.1" cy="611.2" r="3.9"/><circle cx="1141.2" cy="630.9" r="3.9"/><circle cx="1142.2" cy="626.9" r="3.9"/><circle cx="1131.9" cy="634.8" r="3.9"/><circle cx="1134.8" cy="650.5" r="3.9"/><circle cx="1140.0" cy="595.5" r="3.9"/><circle cx="1142.3" cy="599.4" r="3.9"/><circle cx="1136.5" cy="599.4" r="3.9"/><circle cx="1143.6" cy="611.2" r="3.9"/><circle cx="1137.6" cy="654.5" r="3.9"/><circle cx="1138.8" cy="626.9" r="3.9"/><circle cx="1135.7" cy="587.6" r="3.9"/><circle cx="1132.9" cy="642.7" r="3.9"/><circle cx="1135.8" cy="623.0" r="3.9"/><circle cx="1139.8" cy="591.5" r="3.9"/><circle cx="1131.9" cy="630.9" r="3.9"/><circle cx="1131.3" cy="646.6" r="3.9"/><circle cx="1130.0" cy="615.1" r="3.9"/><circle cx="1132.2" cy="662.3" r="3.9"/><circle cx="1137.1" cy="646.6" r="3.9"/><circle cx="1137.2" cy="630.9" r="3.9"/><circle cx="1131.4" cy="607.3" r="3.9"/><circle cx="1132.3" cy="642.7" r="3.9"/><circle cx="1132.3" cy="595.5" r="3.9"/><circle cx="1144.8" cy="638.7" r="3.9"/><circle cx="1137.9" cy="603.3" r="3.9"/><circle cx="1143.9" cy="646.6" r="3.9"/><circle cx="1143.8" cy="630.9" r="3.9"/><circle cx="1132.3" cy="646.6" r="3.9"/><circle cx="1131.2" cy="654.5" r="3.9"/><circle cx="1138.4" cy="591.5" r="3.9"/><circle cx="1135.6" cy="650.5" r="3.9"/><circle cx="1136.6" cy="662.3" r="3.9"/><circle cx="1141.9" cy="607.3" r="3.9"/><circle cx="1134.7" cy="646.6" r="3.9"/><circle cx="1143.1" cy="630.9" r="3.9"/><circle cx="1131.1" cy="654.5" r="3.9"/><circle cx="1141.1" cy="603.3" r="3.9"/><circle cx="1136.5" cy="638.7" r="3.9"/><circle cx="1135.3" cy="603.3" r="3.9"/><circle cx="1143.7" cy="634.8" r="3.9"/><circle cx="1140.1" cy="638.7" r="3.9"/><circle cx="1134.1" cy="603.3" r="3.9"/><circle cx="1129.8" cy="642.7" r="3.9"/><circle cx="1140.1" cy="634.8" r="3.9"/><circle cx="1130.7" cy="638.7" r="3.9"/><circle cx="1138.4" cy="587.6" r="3.9"/><circle cx="1140.2" cy="666.3" r="3.9"/><circle cx="1144.7" cy="630.9" r="3.9"/><circle cx="1137.4" cy="666.3" r="3.9"/><circle cx="1143.8" cy="619.1" r="3.9"/><circle cx="1131.6" cy="638.7" r="3.9"/><circle cx="1140.4" cy="630.9" r="3.9"/><circle cx="1143.2" cy="623.0" r="3.9"/><circle cx="1135.9" cy="626.9" r="3.9"/><circle cx="1131.8" cy="619.1" r="3.9"/><circle cx="1141.9" cy="638.7" r="3.9"/><circle cx="1138.4" cy="626.9" r="3.9"/><circle cx="1141.8" cy="642.7" r="3.9"/><circle cx="1138.5" cy="615.1" r="3.9"/><circle cx="1142.7" cy="654.5" r="3.9"/><circle cx="1133.6" cy="654.5" r="3.9"/><circle cx="1133.8" cy="611.2" r="3.9"/><circle cx="1131.4" cy="626.9" r="3.9"/><circle cx="1140.8" cy="603.3" r="3.9"/><circle cx="1137.7" cy="599.4" r="3.9"/><circle cx="1131.3" cy="658.4" r="3.9"/><circle cx="1130.3" cy="650.5" r="3.9"/><circle cx="1138.7" cy="630.9" r="3.9"/><circle cx="1136.8" cy="591.5" r="3.9"/><circle cx="1136.2" cy="591.5" r="3.9"/><circle cx="1132.2" cy="646.6" r="3.9"/><circle cx="1138.9" cy="607.3" r="3.9"/><circle cx="1133.8" cy="599.4" r="3.9"/><circle cx="1134.0" cy="591.5" r="3.9"/><circle cx="1141.0" cy="595.5" r="3.9"/><circle cx="1134.3" cy="591.5" r="3.9"/><circle cx="1138.2" cy="591.5" r="3.9"/><circle cx="1130.5" cy="662.3" r="3.9"/><circle cx="1142.1" cy="619.1" r="3.9"/><circle cx="1133.1" cy="595.5" r="3.9"/><circle cx="1145.9" cy="638.7" r="3.9"/><circle cx="1139.2" cy="642.7" r="3.9"/><circle cx="1130.7" cy="619.1" r="3.9"/><circle cx="1142.1" cy="630.9" r="3.9"/><circle cx="1129.9" cy="623.0" r="3.9"/><circle cx="1138.1" cy="666.3" r="3.9"/><circle cx="1141.5" cy="607.3" r="3.9"/><circle cx="1138.2" cy="603.3" r="3.9"/><circle cx="1133.9" cy="658.4" r="3.9"/><circle cx="1129.7" cy="646.6" r="3.9"/><circle cx="1137.1" cy="634.8" r="3.9"/><circle cx="1139.0" cy="630.9" r="3.9"/><circle cx="1136.8" cy="619.1" r="3.9"/><circle cx="1130.4" cy="646.6" r="3.9"/><circle cx="1132.3" cy="603.3" r="3.9"/><circle cx="1130.9" cy="662.3" r="3.9"/><circle cx="1137.9" cy="615.1" r="3.9"/><circle cx="1139.8" cy="658.4" r="3.9"/><circle cx="1136.6" cy="619.1" r="3.9"/><circle cx="1136.4" cy="642.7" r="3.9"/><circle cx="1145.4" cy="634.8" r="3.9"/><circle cx="1145.5" cy="634.8" r="3.9"/><circle cx="1142.9" cy="623.0" r="3.9"/><circle cx="1134.2" cy="603.3" r="3.9"/><circle cx="1135.2" cy="615.1" r="3.9"/><circle cx="1139.9" cy="595.5" r="3.9"/><circle cx="1131.9" cy="666.3" r="3.9"/><circle cx="1137.9" cy="662.3" r="3.9"/><circle cx="1140.5" cy="646.6" r="3.9"/><circle cx="1140.1" cy="595.5" r="3.9"/><circle cx="1132.6" cy="623.0" r="3.9"/><circle cx="1143.6" cy="603.3" r="3.9"/><circle cx="1136.6" cy="595.5" r="3.9"/><circle cx="1139.8" cy="642.7" r="3.9"/><circle cx="1143.2" cy="646.6" r="3.9"/><circle cx="1137.9" cy="599.4" r="3.9"/><circle cx="1135.7" cy="630.9" r="3.9"/><circle cx="1141.9" cy="603.3" r="3.9"/><circle cx="1145.3" cy="642.7" r="3.9"/><circle cx="1141.8" cy="607.3" r="3.9"/><circle cx="1143.0" cy="638.7" r="3.9"/><circle cx="1142.8" cy="623.0" r="3.9"/><circle cx="1140.6" cy="623.0" r="3.9"/><circle cx="1134.3" cy="619.1" r="3.9"/><circle cx="1136.1" cy="587.6" r="3.9"/><circle cx="1132.8" cy="654.5" r="3.9"/><circle cx="1133.3" cy="595.5" r="3.9"/><circle cx="1131.4" cy="630.9" r="3.9"/><circle cx="1129.9" cy="626.9" r="3.9"/><circle cx="1132.5" cy="634.8" r="3.9"/><circle cx="1134.2" cy="666.3" r="3.9"/><circle cx="1135.7" cy="587.6" r="3.9"/><circle cx="1142.0" cy="658.4" r="3.9"/><circle cx="1143.0" cy="650.5" r="3.9"/><circle cx="1129.9" cy="615.1" r="3.9"/><circle cx="1129.6" cy="634.8" r="3.9"/><circle cx="1141.5" cy="662.3" r="3.9"/><circle cx="1139.1" cy="638.7" r="3.9"/><circle cx="1135.9" cy="611.2" r="3.9"/><circle cx="1134.0" cy="615.1" r="3.9"/><circle cx="1136.4" cy="587.6" r="3.9"/><circle cx="1136.7" cy="654.5" r="3.9"/><circle cx="1130.3" cy="674.0" r="3.9"/><circle cx="1141.6" cy="677.9" r="3.9"/><circle cx="1147.3" cy="681.8" r="3.9"/>
</g>
<g fill="#d95f02">
<circle cx="1227.8" cy="623.0" r="3.9"/><circle cx="1231.9" cy="575.8" r="3.9"/><circle cx="1234.8" cy="583.7" r="3.9"/><circle cx="1235.0" cy="560.1" r="3.9"/><circle cx="1226.1" cy="619.1" r="3.9"/><circle cx="1225.0" cy="575.8" r="3.9"/><circle cx="1236.9" cy="623.0" r="3.9"/><circle cx="1237.9" cy="638.7" r="3.9"/><circle cx="1230.0" cy="642.7" r="3.9"/><circle cx="1226.4" cy="560.1" r="3.9"/><circle cx="1227.4" cy="567.9" r="3.9"/><circle cx="1235.8" cy="611.2" r="3.9"/><circle cx="1231.0" cy="564.0" r="3.9"/><circle cx="1234.2" cy="623.0" r="3.9"/><circle cx="1232.0" cy="630.9" r="3.9"/><circle cx="1234.5" cy="615.1" r="3.9"/><circle cx="1230.3" cy="615.1" r="3.9"/><circle cx="1227.3" cy="623.0" r="3.9"/><circle cx="1234.0" cy="599.4" r="3.9"/><circle cx="1235.0" cy="630.9" r="3.9"/><circle cx="1230.9" cy="646.6" r="3.9"/><circle cx="1232.6" cy="626.9" r="3.9"/><circle cx="1233.9" cy="638.7" r="3.9"/><circle cx="1228.5" cy="626.9" r="3.9"/><circle cx="1226.9" cy="638.7" r="3.9"/><circle cx="1228.0" cy="623.0" r="3.9"/><circle cx="1228.5" cy="595.5" r="3.9"/><circle cx="1224.9" cy="599.4" r="3.9"/><circle cx="1230.3" cy="575.8" r="3.9"/><circle cx="1228.0" cy="642.7" r="3.9"/><circle cx="1223.6" cy="607.3" r="3.9"/><circle cx="1225.6" cy="579.7" r="3.9"/><circle cx="1234.1" cy="583.7" r="3.9"/><circle cx="1222.4" cy="623.0" r="3.9"/><circle cx="1225.6" cy="638.7" r="3.9"/><circle cx="1224.0" cy="607.3" r="3.9"/><circle cx="1224.1" cy="575.8" r="3.9"/><circle cx="1227.0" cy="646.6" r="3.9"/><circle cx="1237.6" cy="626.9" r="3.9"/><circle cx="1235.6" cy="623.0" r="3.9"/><circle cx="1226.4" cy="595.5" r="3.9"/><circle cx="1225.6" cy="587.6" r="3.9"/><circle cx="1234.4" cy="638.7" r="3.9"/><circle cx="1227.3" cy="603.3" r="3.9"/><circle cx="1232.1" cy="615.1" r="3.9"/><circle cx="1237.6" cy="607.3" r="3.9"/><circle cx="1234.9" cy="560.1" r="3.9"/><circle cx="1228.6" cy="634.8" r="3.9"/><circle cx="1235.8" cy="619.1" r="3.9"/><circle cx="1227.9" cy="630.9" r="3.9"/><circle cx="1238.7" cy="638.7" r="3.9"/><circle cx="1236.8" cy="587.6" r="3.9"/><circle cx="1224.6" cy="634.8" r="3.9"/><circle cx="1227.9" cy="556.1" r="3.9"/><circle cx="1226.0" cy="630.9" r="3.9"/><circle cx="1231.2" cy="564.0" r="3.9"/><circle cx="1224.5" cy="650.5" r="3.9"/><circle cx="1227.1" cy="591.5" r="3.9"/><circle cx="1225.3" cy="646.6" r="3.9"/><circle cx="1227.9" cy="658.4" r="3.9"/><circle cx="1233.8" cy="646.6" r="3.9"/><circle cx="1235.3" cy="591.5" r="3.9"/><circle cx="1224.9" cy="591.5" r="3.9"/><circle cx="1227.1" cy="599.4" r="3.9"/><circle cx="1227.0" cy="564.0" r="3.9"/><circle cx="1228.9" cy="650.5" r="3.9"/><circle cx="1224.4" cy="599.4" r="3.9"/><circle cx="1238.2" cy="587.6" r="3.9"/><circle cx="1235.8" cy="619.1" r="3.9"/><circle cx="1235.2" cy="579.7" r="3.9"/><circle cx="1234.4" cy="575.8" r="3.9"/><circle cx="1226.3" cy="634.8" r="3.9"/><circle cx="1225.4" cy="560.1" r="3.9"/><circle cx="1224.6" cy="611.2" r="3.9"/><circle cx="1225.7" cy="599.4" r="3.9"/><circle cx="1225.9" cy="619.1" r="3.9"/><circle cx="1224.3" cy="654.5" r="3.9"/><circle cx="1226.5" cy="615.1" r="3.9"/><circle cx="1227.8" cy="654.5" r="3.9"/><circle cx="1226.3" cy="642.7" r="3.9"/><circle cx="1233.6" cy="579.7" r="3.9"/><circle cx="1236.3" cy="630.9" r="3.9"/><circle cx="1225.2" cy="646.6" r="3.9"/><circle cx="1225.9" cy="626.9" r="3.9"/><circle cx="1229.9" cy="642.7" r="3.9"/><circle cx="1237.5" cy="630.9" r="3.9"/><circle cx="1228.3" cy="623.0" r="3.9"/><circle cx="1223.6" cy="626.9" r="3.9"/><circle cx="1229.1" cy="564.0" r="3.9"/><circle cx="1227.2" cy="575.8" r="3.9"/><circle cx="1239.2" cy="611.2" r="3.9"/><circle cx="1227.2" cy="634.8" r="3.9"/><circle cx="1236.3" cy="650.5" r="3.9"/><circle cx="1224.1" cy="571.9" r="3.9"/><circle cx="1228.2" cy="626.9" r="3.9"/><circle cx="1238.6" cy="630.9" r="3.9"/><circle cx="1239.1" cy="587.6" r="3.9"/><circle cx="1231.7" cy="579.7" r="3.9"/><circle cx="1234.6" cy="595.5" r="3.9"/><circle cx="1232.1" cy="658.4" r="3.9"/><circle cx="1224.2" cy="595.5" r="3.9"/><circle cx="1238.9" cy="591.5" r="3.9"/><circle cx="1226.6" cy="619.1" r="3.9"/><circle cx="1231.0" cy="630.9" r="3.9"/><circle cx="1226.1" cy="615.1" r="3.9"/><circle cx="1232.0" cy="560.1" r="3.9"/><circle cx="1225.5" cy="634.8" r="3.9"/><circle cx="1237.1" cy="646.6" r="3.9"/><circle cx="1223.1" cy="615.1" r="3.9"/><circle cx="1233.2" cy="571.9" r="3.9"/><circle cx="1227.5" cy="560.1" r="3.9"/><circle cx="1226.2" cy="630.9" r="3.9"/><circle cx="1227.0" cy="587.6" r="3.9"/><circle cx="1234.1" cy="611.2" r="3.9"/><circle cx="1229.1" cy="583.7" r="3.9"/><circle cx="1237.5" cy="583.7" r="3.9"/><circle cx="1227.9" cy="595.5" r="3.9"/><circle cx="1224.3" cy="658.4" r="3.9"/><circle cx="1227.1" cy="611.2" r="3.9"/><circle cx="1225.5" cy="599.4" r="3.9"/><circle cx="1222.6" cy="611.2" r="3.9"/><circle cx="1229.2" cy="575.8" r="3.9"/><circle cx="1223.6" cy="615.1" r="3.9"/><circle cx="1227.0" cy="599.4" r="3.9"/><circle cx="1238.1" cy="575.8" r="3.9"/><circle cx="1233.6" cy="603.3" r="3.9"/><circle cx="1232.3" cy="575.8" r="3.9"/><circle cx="1238.6" cy="575.8" r="3.9"/><circle cx="1229.9" cy="603.3" r="3.9"/><circle cx="1223.5" cy="571.9" r="3.9"/><circle cx="1229.6" cy="630.9" r="3.9"/><circle cx="1232.8" cy="650.5" r="3.9"/><circle cx="1235.2" cy="646.6" r="3.9"/><circle cx="1224.3" cy="611.2" r="3.9"/><circle cx="1227.5" cy="623.0" r="3.9"/><circle cx="1233.4" cy="564.0" r="3.9"/><circle cx="1230.6" cy="556.1" r="3.9"/><circle cx="1227.7" cy="571.9" r="3.9"/><circle cx="1222.3" cy="611.2" r="3.9"/><circle cx="1227.8" cy="595.5" r="3.9"/><circle cx="1225.4" cy="567.9" r="3.9"/><circle cx="1225.8" cy="611.2" r="3.9"/><circle cx="1224.6" cy="607.3" r="3.9"/><circle cx="1227.4" cy="626.9" r="3.9"/><circle cx="1236.2" cy="623.0" r="3.9"/><circle cx="1238.6" cy="623.0" r="3.9"/><circle cx="1224.7" cy="646.6" r="3.9"/><circle cx="1223.5" cy="619.1" r="3.9"/><circle cx="1229.1" cy="603.3" r="3.9"/><circle cx="1234.1" cy="603.3" r="3.9"/><circle cx="1237.1" cy="630.9" r="3.9"/><circle cx="1223.9" cy="619.1" r="3.9"/><circle cx="1233.9" cy="607.3" r="3.9"/><circle cx="1227.1" cy="564.0" r="3.9"/><circle cx="1231.0" cy="619.1" r="3.9"/><circle cx="1224.6" cy="567.9" r="3.9"/><circle cx="1222.8" cy="638.7" r="3.9"/><circle cx="1222.6" cy="634.8" r="3.9"/><circle cx="1226.5" cy="591.5" r="3.9"/><circle cx="1237.9" cy="587.6" r="3.9"/><circle cx="1235.7" cy="595.5" r="3.9"/><circle cx="1234.0" cy="591.5" r="3.9"/><circle cx="1222.6" cy="595.5" r="3.9"/><circle cx="1223.1" cy="650.5" r="3.9"/><circle cx="1231.5" cy="634.8" r="3.9"/><circle cx="1228.0" cy="654.5" r="3.9"/><circle cx="1227.0" cy="634.8" r="3.9"/><circle cx="1235.4" cy="595.5" r="3.9"/><circle cx="1227.9" cy="654.5" r="3.9"/><circle cx="1235.1" cy="642.7" r="3.9"/><circle cx="1226.8" cy="623.0" r="3.9"/><circle cx="1236.8" cy="623.0" r="3.9"/><circle cx="1228.8" cy="626.9" r="3.9"/><circle cx="1226.2" cy="646.6" r="3.9"/><circle cx="1233.9" cy="579.7" r="3.9"/><circle cx="1228.4" cy="560.1" r="3.9"/><circle cx="1230.9" cy="650.5" r="3.9"/><circle cx="1231.9" cy="646.6" r="3.9"/><circle cx="1229.0" cy="567.9" r="3.9"/><circle cx="1234.9" cy="603.3" r="3.9"/><circle cx="1234.7" cy="638.7" r="3.9"/><circle cx="1229.6" cy="638.7" r="3.9"/><circle cx="1235.2" cy="630.9" r="3.9"/><circle cx="1226.6" cy="626.9" r="3.9"/><circle cx="1229.3" cy="607.3" r="3.9"/><circle cx="1223.6" cy="642.7" r="3.9"/><circle cx="1233.9" cy="646.6" r="3.9"/><circle cx="1223.9" cy="650.5" r="3.9"/><circle cx="1223.7" cy="595.5" r="3.9"/><circle cx="1231.6" cy="599.4" r="3.9"/><circle cx="1227.6" cy="623.0" r="3.9"/><circle cx="1222.9" cy="579.7" r="3.9"/><circle cx="1230.5" cy="603.3" r="3.9"/><circle cx="1226.5" cy="658.4" r="3.9"/><circle cx="1227.1" cy="591.5" r="3.9"/><circle cx="1235.6" cy="677.9" r="3.9"/><circle cx="1237.0" cy="666.0" r="3.9"/><circle cx="1226.2" cy="666.0" r="3.9"/><circle cx="1239.4" cy="658.5" r="3.9"/>
</g>
<g fill="#7570b3">
<circle cx="1321.8" cy="654.5" r="3.9"/><circle cx="1314.9" cy="623.0" r="3.9"/><circle cx="1324.0" cy="583.7" r="3.9"/><circle cx="1318.2" cy="575.8" r="3.9"/><circle cx="1322.6" cy="599.4" r="3.9"/><circle cx="1318.3" cy="654.5" r="3.9"/><circle cx="1322.6" cy="646.6" r="3.9"/><circle cx="1318.1" cy="571.9" r="3.9"/><circle cx="1331.6" cy="599.4" r="3.9"/><circle cx="1326.2" cy="615.1" r="3.9"/><circle cx="1325.3" cy="615.1" r="3.9"/><circle cx="1323.3" cy="650.5" r="3.9"/><circle cx="1315.7" cy="579.7" r="3.9"/><circle cx="1331.6" cy="603.3" r="3.9"/><circle cx="1316.7" cy="615.1" r="3.9"/><circle cx="1328.0" cy="595.5" r="3.9"/><circle cx="1328.0" cy="603.3" r="3.9"/><circle cx="1316.2" cy="591.5" r="3.9"/><circle cx="1319.2" cy="630.9" r="3.9"/><circle cx="1316.9" cy="650.5" r="3.9"/><circle cx="1316.4" cy="646.6" r="3.9"/><circle cx="1323.5" cy="567.9" r="3.9"/><circle cx="1323.6" cy="638.7" r="3.9"/><circle cx="1320.2" cy="654.5" r="3.9"/><circle cx="1323.4" cy="615.1" r="3.9"/><circle cx="1325.2" cy="654.5" r="3.9"/><circle cx="1326.8" cy="642.7" r="3.9"/><circle cx="1323.5" cy="571.9" r="3.9"/><circle cx="1326.0" cy="583.7" r="3.9"/><circle cx="1324.2" cy="564.0" r="3.9"/><circle cx="1315.2" cy="560.1" r="3.9"/><circle cx="1319.1" cy="583.7" r="3.9"/><circle cx="1325.1" cy="634.8" r="3.9"/><circle cx="1319.0" cy="575.8" r="3.9"/><circle cx="1322.6" cy="571.9" r="3.9"/><circle cx="1326.7" cy="615.1" r="3.9"/><circle cx="1330.6" cy="564.0" r="3.9"/><circle cx="1330.4" cy="611.2" r="3.9"/><circle cx="1331.4" cy="583.7" r="3.9"/><circle cx="1321.5" cy="599.4" r="3.9"/><circle cx="1327.2" cy="646.6" r="3.9"/><circle cx="1328.8" cy="603.3" r="3.9"/><circle cx="1326.8" cy="630.9" r="3.9"/><circle cx="1319.2" cy="564.0" r="3.9"/><circle cx="1315.1" cy="560.1" r="3.9"/><circle cx="1319.2" cy="634.8" r="3.9"/><circle cx="1327.2" cy="583.7" r="3.9"/><circle cx="1324.8" cy="595.5" r="3.9"/><circle cx="1328.1" cy="634.8" r="3.9"/><circle cx="1328.9" cy="552.2" r="3.9"/><circle cx="1320.8" cy="567.9" r="3.9"/><circle cx="1318.1" cy="567.9" r="3.9"/><circle cx="1323.8" cy="587.6" r="3.9"/><circle cx="1331.6" cy="619.1" r="3.9"/><circle cx="1320.9" cy="615.1" r="3.9"/><circle cx="1330.2" cy="638.7" r="3.9"/><circle cx="1330.2" cy="599.4" r="3.9"/><circle cx="1319.7" cy="603.3" r="3.9"/><circle cx="1324.4" cy="567.9" r="3.9"/><circle cx="1319.9" cy="650.5" r="3.9"/><circle cx="1319.2" cy="564.0" r="3.9"/><circle cx="1326.5" cy="611.2" r="3.9"/><circle cx="1323.4" cy="583.7" r="3.9"/><circle cx="1327.9" cy="630.9" r="3.9"/><circle cx="1326.8" cy="623.0" r="3.9"/><circle cx="1316.6" cy="552.2" r="3.9"/><circle cx="1316.5" cy="575.8" r="3.9"/><circle cx="1320.8" cy="595.5" r="3.9"/><circle cx="1315.4" cy="564.0" r="3.9"/><circle cx="1321.9" cy="571.9" r="3.9"/><circle cx="1323.6" cy="591.5" r="3.9"/><circle cx="1330.8" cy="587.6" r="3.9"/><circle cx="1327.7" cy="552.2" r="3.9"/><circle cx="1317.6" cy="603.3" r="3.9"/><circle cx="1328.4" cy="599.4" r="3.9"/><circle cx="1324.2" cy="591.5" r="3.9"/><circle cx="1319.4" cy="619.1" r="3.9"/><circle cx="1319.3" cy="591.5" r="3.9"/><circle cx="1317.7" cy="630.9" r="3.9"/><circle cx="1320.9" cy="626.9" r="3.9"/><circle cx="1321.5" cy="630.9" r="3.9"/><circle cx="1318.2" cy="623.0" r="3.9"/><circle cx="1329.5" cy="642.7" r="3.9"/><circle cx="1315.1" cy="571.9" r="3.9"/><circle cx="1323.6" cy="591.5" r="3.9"/><circle cx="1317.1" cy="579.7" r="3.9"/><circle cx="1317.2" cy="599.4" r="3.9"/><circle cx="1317.1" cy="615.1" r="3.9"/><circle cx="1322.3" cy="638.7" r="3.9"/><circle cx="1320.2" cy="615.1" r="3.9"/><circle cx="1329.0" cy="634.8" r="3.9"/><circle cx="1316.9" cy="591.5" r="3.9"/><circle cx="1326.5" cy="591.5" r="3.9"/><circle cx="1324.9" cy="619.1" r="3.9"/><circle cx="1317.1" cy="552.2" r="3.9"/><circle cx="1329.4" cy="630.9" r="3.9"/><circle cx="1321.5" cy="575.8" r="3.9"/><circle cx="1321.0" cy="611.2" r="3.9"/><circle cx="1316.8" cy="603.3" r="3.9"/><circle cx="1317.4" cy="579.7" r="3.9"/><circle cx="1326.0" cy="567.9" r="3.9"/><circle cx="1328.0" cy="560.1" r="3.9"/><circle cx="1324.1" cy="615.1" r="3.9"/><circle cx="1322.9" cy="564.0" r="3.9"/><circle cx="1316.1" cy="607.3" r="3.9"/><circle cx="1331.0" cy="556.1" r="3.9"/><circle cx="1318.0" cy="634.8" r="3.9"/><circle cx="1320.0" cy="575.8" r="3.9"/><circle cx="1324.6" cy="575.8" r="3.9"/><circle cx="1324.7" cy="626.9" r="3.9"/><circle cx="1331.2" cy="583.7" r="3.9"/><circle cx="1315.6" cy="615.1" r="3.9"/><circle cx="1329.8" cy="607.3" r="3.9"/><circle cx="1323.3" cy="552.2" r="3.9"/><circle cx="1327.2" cy="650.5" r="3.9"/><circle cx="1316.9" cy="560.1" r="3.9"/><circle cx="1315.8" cy="595.5" r="3.9"/><circle cx="1328.3" cy="607.3" r="3.9"/><circle cx="1329.8" cy="579.7" r="3.9"/><circle cx="1331.0" cy="619.1" r="3.9"/><circle cx="1318.7" cy="560.1" r="3.9"/><circle cx="1324.8" cy="630.9" r="3.9"/><circle cx="1315.5" cy="611.2" r="3.9"/><circle cx="1323.9" cy="626.9" r="3.9"/><circle cx="1322.3" cy="575.8" r="3.9"/><circle cx="1328.1" cy="579.7" r="3.9"/><circle cx="1315.3" cy="638.7" r="3.9"/><circle cx="1317.2" cy="607.3" r="3.9"/><circle cx="1323.1" cy="575.8" r="3.9"/><circle cx="1319.8" cy="603.3" r="3.9"/><circle cx="1320.4" cy="654.5" r="3.9"/><circle cx="1316.0" cy="587.6" r="3.9"/><circle cx="1327.4" cy="646.6" r="3.9"/><circle cx="1318.5" cy="642.7" r="3.9"/><circle cx="1327.8" cy="575.8" r="3.9"/><circle cx="1325.7" cy="587.6" r="3.9"/><circle cx="1320.4" cy="595.5" r="3.9"/><circle cx="1317.5" cy="564.0" r="3.9"/><circle cx="1330.5" cy="615.1" r="3.9"/><circle cx="1331.1" cy="623.0" r="3.9"/><circle cx="1327.4" cy="599.4" r="3.9"/><circle cx="1331.7" cy="599.4" r="3.9"/><circle cx="1315.2" cy="575.8" r="3.9"/><circle cx="1322.5" cy="560.1" r="3.9"/><circle cx="1328.0" cy="571.9" r="3.9"/><circle cx="1320.3" cy="634.8" r="3.9"/><circle cx="1319.1" cy="611.2" r="3.9"/><circle cx="1316.8" cy="587.6" r="3.9"/><circle cx="1330.2" cy="599.4" r="3.9"/><circle cx="1327.6" cy="583.7" r="3.9"/><circle cx="1328.9" cy="611.2" r="3.9"/><circle cx="1318.1" cy="571.9" r="3.9"/><circle cx="1331.0" cy="571.9" r="3.9"/><circle cx="1320.2" cy="595.5" r="3.9"/><circle cx="1323.9" cy="591.5" r="3.9"/><circle cx="1317.9" cy="603.3" r="3.9"/><circle cx="1320.1" cy="587.6" r="3.9"/><circle cx="1319.5" cy="611.2" r="3.9"/><circle cx="1317.7" cy="556.1" r="3.9"/><circle cx="1327.4" cy="552.2" r="3.9"/><circle cx="1315.4" cy="638.7" r="3.9"/><circle cx="1324.8" cy="579.7" r="3.9"/><circle cx="1321.8" cy="571.9" r="3.9"/><circle cx="1329.4" cy="564.0" r="3.9"/><circle cx="1315.6" cy="575.8" r="3.9"/><circle cx="1319.0" cy="607.3" r="3.9"/><circle cx="1324.5" cy="619.1" r="3.9"/><circle cx="1322.4" cy="587.6" r="3.9"/><circle cx="1327.9" cy="626.9" r="3.9"/><circle cx="1320.0" cy="595.5" r="3.9"/><circle cx="1317.4" cy="611.2" r="3.9"/><circle cx="1315.9" cy="607.3" r="3.9"/><circle cx="1329.3" cy="587.6" r="3.9"/><circle cx="1330.0" cy="591.5" r="3.9"/><circle cx="1326.8" cy="611.2" r="3.9"/><circle cx="1319.0" cy="556.1" r="3.9"/><circle cx="1321.6" cy="571.9" r="3.9"/><circle cx="1325.5" cy="591.5" r="3.9"/><circle cx="1322.5" cy="583.7" r="3.9"/><circle cx="1325.6" cy="654.5" r="3.9"/><circle cx="1316.8" cy="623.0" r="3.9"/><circle cx="1317.1" cy="567.9" r="3.9"/><circle cx="1317.2" cy="564.0" r="3.9"/><circle cx="1328.5" cy="587.6" r="3.9"/><circle cx="1323.5" cy="611.2" r="3.9"/><circle cx="1323.8" cy="611.2" r="3.9"/><circle cx="1328.3" cy="575.8" r="3.9"/><circle cx="1326.8" cy="603.3" r="3.9"/><circle cx="1321.9" cy="567.9" r="3.9"/><circle cx="1317.8" cy="595.5" r="3.9"/><circle cx="1322.4" cy="567.9" r="3.9"/><circle cx="1330.3" cy="564.0" r="3.9"/><circle cx="1323.7" cy="615.1" r="3.9"/><circle cx="1315.1" cy="634.8" r="3.9"/><circle cx="1329.0" cy="603.3" r="3.9"/><circle cx="1329.9" cy="595.5" r="3.9"/><circle cx="1321.4" cy="611.2" r="3.9"/><circle cx="1326.5" cy="571.9" r="3.9"/><circle cx="1330.0" cy="564.0" r="3.9"/><circle cx="1324.0" cy="638.7" r="3.9"/><circle cx="1315.6" cy="544.3" r="3.9"/><circle cx="1331.5" cy="544.3" r="3.9"/><circle cx="1316.5" cy="666.1" r="3.9"/><circle cx="1325.9" cy="662.2" r="3.9"/><circle cx="1315.6" cy="681.8" r="3.9"/>
</g>
<g stroke="#333" fill="none">
<line x1="1369.2" y1="587.4" x2="1369.2" y2="618.6" stroke-width="2.0"/>
<line x1="1369.2" y1="646.7" x2="1369.2" y2="682.0" stroke-width="2.0"/>
<line x1="1364.5" y1="587.4" x2="1374.0" y2="587.4" stroke-width="2.3"/>
<line x1="1364.5" y1="682.0" x2="1374.0" y2="682.0" stroke-width="2.3"/>
<rect x="1359.6" y="618.9" width="19.3" height="27.5" fill="#1b9e77" stroke-width="2.0"/>
<line x1="1359.6" y1="630.4" x2="1378.9" y2="630.4" stroke-width="3.9"/>
</g>
<g stroke="#333" fill="none">
<line x1="1406.2" y1="556.0" x2="1406.2" y2="598.7" stroke-width="2.0"/>
<line x1="1406.2" y1="631.0" x2="1406.2" y2="666.3" stroke-width="2.0"/>
<line x1="1401.4" y1="556.0" x2="1411.0" y2="556.0" stroke-width="2.3"/>
<line x1="1401.4" y1="666.3" x2="1411.0" y2="666.3" stroke-width="2.3"/>
<rect x="1396.8" y="599.0" width="18.7" height="31.7" fill="#d95f02" stroke-width="2.0"/>
<line x1="1396.8" y1="614.5" x2="1415.5" y2="614.5" stroke-width="3.9"/>
</g>
<g stroke="#333" fill="none">
<line x1="1443.2" y1="544.1" x2="1443.2" y2="583.3" stroke-width="2.0"/>
<line x1="1443.2" y1="627.4" x2="1443.2" y2="682.0" stroke-width="2.0"/>
<line x1="1438.4" y1="544.1" x2="1448.0" y2="544.1" stroke-width="2.3"/>
<line x1="1438.4" y1="682.0" x2="1448.0" y2="682.0" stroke-width="2.3"/>
<rect x="1433.5" y="583.6" width="19.3" height="43.5" fill="#7570b3" stroke-width="2.0"/>
<line x1="1433.5" y1="602.9" x2="1452.8" y2="602.9" stroke-width="3.9"/>
</g>
<path d="M1480.0 574.0 C1480.1 575.0 1479.4 577.8 1480.6 579.9 C1481.8 582.0 1485.1 584.5 1487.4 586.7 C1489.7 589.0 1492.3 591.3 1494.2 593.4 C1496.1 595.5 1497.2 597.5 1498.7 599.1 C1500.2 600.7 1501.6 601.8 1503.0 603.0 C1504.4 604.2 1505.7 605.4 1507.0 606.5 C1508.3 607.6 1509.1 608.6 1510.7 609.8 C1512.3 611.0 1514.7 612.5 1516.4 613.5 C1518.1 614.5 1519.7 614.8 1521.1 615.9 C1522.5 617.0 1524.0 618.8 1524.9 620.1 C1525.8 621.4 1526.3 622.5 1526.3 623.9 C1526.3 625.3 1525.6 627.0 1524.9 628.6 C1524.2 630.2 1523.1 631.7 1522.0 633.3 C1520.9 634.9 1519.9 636.4 1518.3 638.0 C1516.7 639.6 1514.5 641.0 1512.6 642.7 C1510.7 644.4 1508.5 646.3 1507.0 648.3 C1505.5 650.3 1504.4 653.0 1503.5 654.9 C1502.6 656.8 1501.9 658.3 1501.5 659.8 C1501.1 661.3 1501.6 662.3 1501.1 663.8 C1500.6 665.3 1500.0 667.2 1498.6 668.7 C1497.2 670.2 1494.8 671.4 1492.9 672.8 C1491.0 674.2 1488.8 675.5 1487.2 676.9 C1485.6 678.2 1484.1 679.5 1483.1 680.9 C1482.1 682.2 1481.6 683.4 1481.1 685.0 C1480.6 686.6 1480.5 686.5 1480.3 690.7 C1480.1 694.9 1480.0 707.0 1480.0 710.3 Z" fill="#1b9e77" fill-opacity="0.5" stroke="#111" stroke-width="1.8" stroke-linejoin="round"/>
<path d="M1480.0 538.0 C1480.1 539.5 1479.9 544.0 1480.6 547.2 C1481.3 550.4 1482.5 554.2 1484.0 557.4 C1485.5 560.6 1487.8 563.6 1489.7 566.4 C1491.6 569.2 1493.8 572.0 1495.3 574.3 C1496.8 576.5 1497.4 577.6 1498.7 579.9 C1500.0 582.1 1501.1 585.2 1503.2 587.8 C1505.3 590.4 1509.6 593.8 1511.1 595.7 C1512.6 597.6 1511.3 598.1 1512.2 599.4 C1513.1 600.6 1515.2 601.8 1516.4 603.2 C1517.6 604.6 1518.5 606.3 1519.2 607.9 C1519.9 609.5 1520.3 611.4 1520.6 612.6 C1520.9 613.9 1521.5 613.7 1521.1 615.4 C1520.7 617.1 1519.7 620.5 1518.3 622.9 C1516.9 625.2 1514.5 627.5 1512.6 629.5 C1510.7 631.5 1508.7 633.3 1507.0 635.2 C1505.3 637.1 1503.7 639.1 1502.3 640.8 C1500.9 642.5 1500.1 643.6 1498.5 645.5 C1496.9 647.4 1494.8 649.9 1492.9 652.1 C1491.0 654.3 1488.6 656.7 1487.2 658.7 C1485.8 660.7 1485.2 662.5 1484.4 664.3 C1483.6 666.1 1482.9 667.4 1482.3 669.5 C1481.7 671.6 1481.1 674.5 1480.7 676.9 C1480.3 679.3 1480.1 682.8 1480.0 684.0 Z" fill="#d95f02" fill-opacity="0.5" stroke="#111" stroke-width="1.8" stroke-linejoin="round"/>
<path d="M1480.0 515.1 C1480.1 517.6 1480.1 526.1 1480.6 530.3 C1481.1 534.5 1481.8 537.2 1482.9 540.4 C1484.0 543.6 1485.7 546.7 1487.4 549.5 C1489.1 552.3 1490.9 554.6 1493.0 557.4 C1495.1 560.2 1497.9 563.6 1499.8 566.4 C1501.7 569.2 1503.0 571.7 1504.3 574.3 C1505.6 576.9 1506.8 579.6 1507.7 582.2 C1508.6 584.8 1509.1 587.8 1509.8 590.0 C1510.5 592.2 1511.3 594.0 1511.7 595.6 C1512.1 597.2 1512.1 598.3 1512.2 599.4 C1512.3 600.5 1512.7 600.6 1512.6 602.2 C1512.5 603.8 1512.6 606.6 1511.7 608.8 C1510.8 611.0 1508.4 613.2 1507.0 615.4 C1505.6 617.6 1504.1 619.6 1503.2 622.0 C1502.3 624.4 1502.0 627.0 1501.8 629.5 C1501.6 632.0 1502.5 634.6 1502.3 637.0 C1502.1 639.4 1501.5 641.4 1500.4 643.6 C1499.3 645.8 1497.2 648.3 1495.7 650.2 C1494.2 652.1 1493.0 652.9 1491.3 654.9 C1489.6 656.9 1487.1 659.8 1485.6 662.2 C1484.1 664.6 1483.1 667.0 1482.3 669.5 C1481.5 672.0 1481.1 674.5 1480.7 676.9 C1480.3 679.3 1480.1 682.8 1480.0 684.0 Z" fill="#7570b3" fill-opacity="0.5" stroke="#111" stroke-width="1.8" stroke-linejoin="round"/>
</g>
</svg></body></html>
